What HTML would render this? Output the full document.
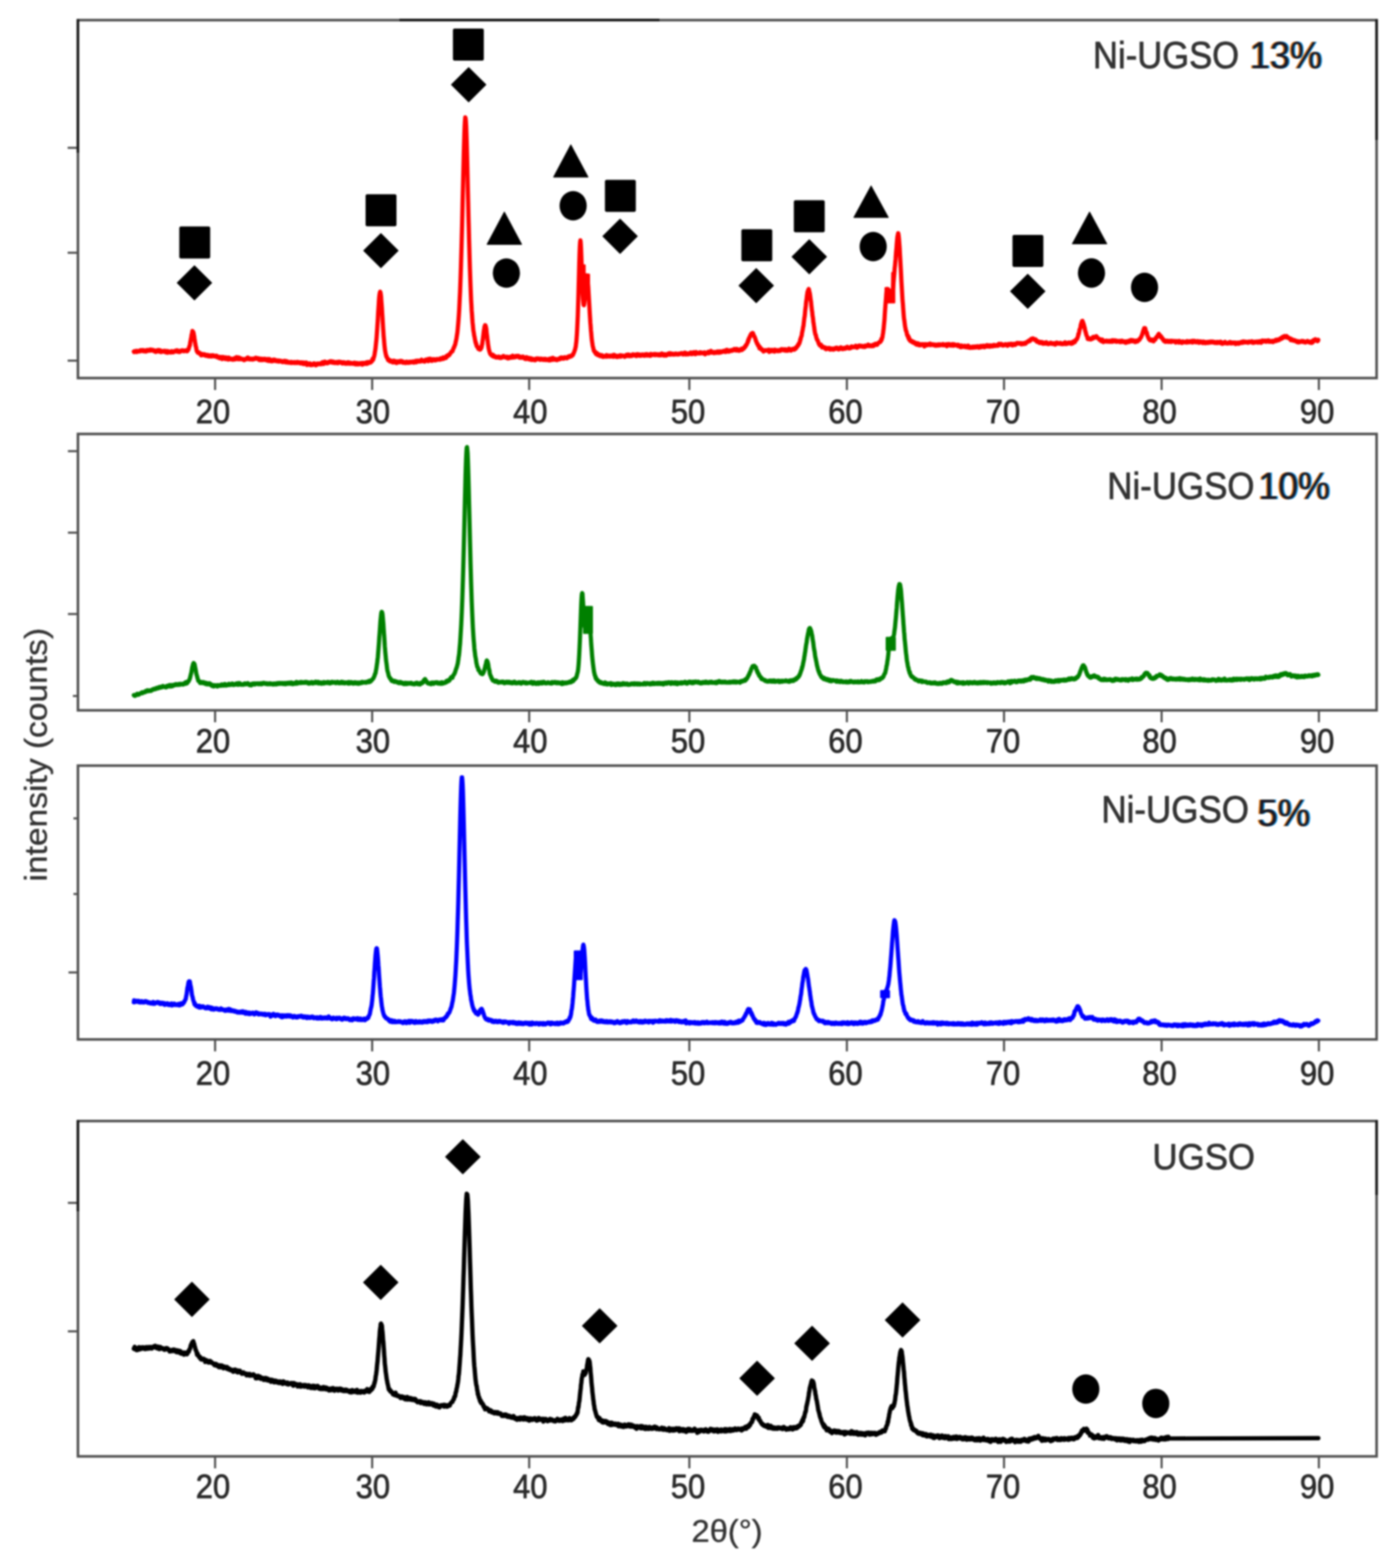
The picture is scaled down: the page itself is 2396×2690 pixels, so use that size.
<!DOCTYPE html><html><head><meta charset="utf-8"><title>XRD patterns</title><style>html,body{margin:0;padding:0;background:#fff;}svg{display:block;filter:blur(1.8px);}text{font-family:"Liberation Sans",Arial,sans-serif;stroke-width:1.2px;stroke-linejoin:round;}</style></head><body>
<svg xmlns="http://www.w3.org/2000/svg" width="2396" height="2690" viewBox="0 0 2396 2690">
<rect width="2396" height="2690" fill="#fff"/>
<rect x="133.7" y="34.5" width="2227.3" height="614.1" fill="none" stroke="#505050" stroke-width="4.4"/>
<line x1="116.0" y1="253.6" x2="133.7" y2="253.6" stroke="#505050" stroke-width="3.6"/>
<line x1="116.0" y1="433.6" x2="133.7" y2="433.6" stroke="#505050" stroke-width="3.6"/>
<line x1="116.0" y1="618.7" x2="133.7" y2="618.7" stroke="#505050" stroke-width="3.6"/>
<line x1="368.9" y1="648.6" x2="368.9" y2="669.1" stroke="#505050" stroke-width="3.6"/>
<text x="365.3" y="726.3" font-size="57" text-anchor="middle" fill="#2a2a2a" stroke="#2a2a2a" textLength="59" lengthAdjust="spacingAndGlyphs">20</text>
<line x1="638.3" y1="648.6" x2="638.3" y2="669.1" stroke="#505050" stroke-width="3.6"/>
<text x="639.4" y="726.3" font-size="57" text-anchor="middle" fill="#2a2a2a" stroke="#2a2a2a" textLength="59" lengthAdjust="spacingAndGlyphs">30</text>
<line x1="907.6" y1="648.6" x2="907.6" y2="669.1" stroke="#505050" stroke-width="3.6"/>
<text x="909.5" y="726.3" font-size="57" text-anchor="middle" fill="#2a2a2a" stroke="#2a2a2a" textLength="59" lengthAdjust="spacingAndGlyphs">40</text>
<line x1="1182.3" y1="648.6" x2="1182.3" y2="669.1" stroke="#505050" stroke-width="3.6"/>
<text x="1180.1" y="726.3" font-size="57" text-anchor="middle" fill="#2a2a2a" stroke="#2a2a2a" textLength="59" lengthAdjust="spacingAndGlyphs">50</text>
<line x1="1452.5" y1="648.6" x2="1452.5" y2="669.1" stroke="#505050" stroke-width="3.6"/>
<text x="1450.0" y="726.3" font-size="57" text-anchor="middle" fill="#2a2a2a" stroke="#2a2a2a" textLength="59" lengthAdjust="spacingAndGlyphs">60</text>
<line x1="1722.0" y1="648.6" x2="1722.0" y2="669.1" stroke="#505050" stroke-width="3.6"/>
<text x="1720.3" y="726.3" font-size="57" text-anchor="middle" fill="#2a2a2a" stroke="#2a2a2a" textLength="59" lengthAdjust="spacingAndGlyphs">70</text>
<line x1="1992.3" y1="648.6" x2="1992.3" y2="669.1" stroke="#505050" stroke-width="3.6"/>
<text x="1988.8" y="726.3" font-size="57" text-anchor="middle" fill="#2a2a2a" stroke="#2a2a2a" textLength="59" lengthAdjust="spacingAndGlyphs">80</text>
<line x1="2262.0" y1="648.6" x2="2262.0" y2="669.1" stroke="#505050" stroke-width="3.6"/>
<text x="2258.9" y="726.3" font-size="57" text-anchor="middle" fill="#2a2a2a" stroke="#2a2a2a" textLength="59" lengthAdjust="spacingAndGlyphs">90</text>
<rect x="133.7" y="744.5" width="2227.3" height="474.1" fill="none" stroke="#505050" stroke-width="4.4"/>
<line x1="116.5" y1="774.0" x2="133.7" y2="774.0" stroke="#505050" stroke-width="3.6"/>
<line x1="116.5" y1="913.8" x2="133.7" y2="913.8" stroke="#505050" stroke-width="3.6"/>
<line x1="116.5" y1="1053.4" x2="133.7" y2="1053.4" stroke="#505050" stroke-width="3.6"/>
<line x1="125.0" y1="1194.0" x2="133.7" y2="1194.0" stroke="#505050" stroke-width="3.6"/>
<line x1="368.9" y1="1218.6" x2="368.9" y2="1239.1" stroke="#505050" stroke-width="3.6"/>
<text x="365.3" y="1291.1" font-size="57" text-anchor="middle" fill="#2a2a2a" stroke="#2a2a2a" textLength="59" lengthAdjust="spacingAndGlyphs">20</text>
<line x1="638.3" y1="1218.6" x2="638.3" y2="1239.1" stroke="#505050" stroke-width="3.6"/>
<text x="639.4" y="1291.1" font-size="57" text-anchor="middle" fill="#2a2a2a" stroke="#2a2a2a" textLength="59" lengthAdjust="spacingAndGlyphs">30</text>
<line x1="907.6" y1="1218.6" x2="907.6" y2="1239.1" stroke="#505050" stroke-width="3.6"/>
<text x="909.5" y="1291.1" font-size="57" text-anchor="middle" fill="#2a2a2a" stroke="#2a2a2a" textLength="59" lengthAdjust="spacingAndGlyphs">40</text>
<line x1="1182.3" y1="1218.6" x2="1182.3" y2="1239.1" stroke="#505050" stroke-width="3.6"/>
<text x="1180.1" y="1291.1" font-size="57" text-anchor="middle" fill="#2a2a2a" stroke="#2a2a2a" textLength="59" lengthAdjust="spacingAndGlyphs">50</text>
<line x1="1452.5" y1="1218.6" x2="1452.5" y2="1239.1" stroke="#505050" stroke-width="3.6"/>
<text x="1450.0" y="1291.1" font-size="57" text-anchor="middle" fill="#2a2a2a" stroke="#2a2a2a" textLength="59" lengthAdjust="spacingAndGlyphs">60</text>
<line x1="1722.0" y1="1218.6" x2="1722.0" y2="1239.1" stroke="#505050" stroke-width="3.6"/>
<text x="1720.3" y="1291.1" font-size="57" text-anchor="middle" fill="#2a2a2a" stroke="#2a2a2a" textLength="59" lengthAdjust="spacingAndGlyphs">70</text>
<line x1="1992.3" y1="1218.6" x2="1992.3" y2="1239.1" stroke="#505050" stroke-width="3.6"/>
<text x="1988.8" y="1291.1" font-size="57" text-anchor="middle" fill="#2a2a2a" stroke="#2a2a2a" textLength="59" lengthAdjust="spacingAndGlyphs">80</text>
<line x1="2262.0" y1="1218.6" x2="2262.0" y2="1239.1" stroke="#505050" stroke-width="3.6"/>
<text x="2258.9" y="1291.1" font-size="57" text-anchor="middle" fill="#2a2a2a" stroke="#2a2a2a" textLength="59" lengthAdjust="spacingAndGlyphs">90</text>
<rect x="133.7" y="1313.5" width="2227.3" height="469.7" fill="none" stroke="#505050" stroke-width="4.4"/>
<line x1="126.0" y1="1404.0" x2="133.7" y2="1404.0" stroke="#505050" stroke-width="3.6"/>
<line x1="126.0" y1="1533.7" x2="133.7" y2="1533.7" stroke="#505050" stroke-width="3.6"/>
<line x1="117.5" y1="1668.3" x2="133.7" y2="1668.3" stroke="#505050" stroke-width="3.6"/>
<line x1="368.9" y1="1783.2" x2="368.9" y2="1803.7" stroke="#505050" stroke-width="3.6"/>
<text x="365.3" y="1860.8" font-size="57" text-anchor="middle" fill="#2a2a2a" stroke="#2a2a2a" textLength="59" lengthAdjust="spacingAndGlyphs">20</text>
<line x1="638.3" y1="1783.2" x2="638.3" y2="1803.7" stroke="#505050" stroke-width="3.6"/>
<text x="639.4" y="1860.8" font-size="57" text-anchor="middle" fill="#2a2a2a" stroke="#2a2a2a" textLength="59" lengthAdjust="spacingAndGlyphs">30</text>
<line x1="907.6" y1="1783.2" x2="907.6" y2="1803.7" stroke="#505050" stroke-width="3.6"/>
<text x="909.5" y="1860.8" font-size="57" text-anchor="middle" fill="#2a2a2a" stroke="#2a2a2a" textLength="59" lengthAdjust="spacingAndGlyphs">40</text>
<line x1="1182.3" y1="1783.2" x2="1182.3" y2="1803.7" stroke="#505050" stroke-width="3.6"/>
<text x="1180.1" y="1860.8" font-size="57" text-anchor="middle" fill="#2a2a2a" stroke="#2a2a2a" textLength="59" lengthAdjust="spacingAndGlyphs">50</text>
<line x1="1452.5" y1="1783.2" x2="1452.5" y2="1803.7" stroke="#505050" stroke-width="3.6"/>
<text x="1450.0" y="1860.8" font-size="57" text-anchor="middle" fill="#2a2a2a" stroke="#2a2a2a" textLength="59" lengthAdjust="spacingAndGlyphs">60</text>
<line x1="1722.0" y1="1783.2" x2="1722.0" y2="1803.7" stroke="#505050" stroke-width="3.6"/>
<text x="1720.3" y="1860.8" font-size="57" text-anchor="middle" fill="#2a2a2a" stroke="#2a2a2a" textLength="59" lengthAdjust="spacingAndGlyphs">70</text>
<line x1="1992.3" y1="1783.2" x2="1992.3" y2="1803.7" stroke="#505050" stroke-width="3.6"/>
<text x="1988.8" y="1860.8" font-size="57" text-anchor="middle" fill="#2a2a2a" stroke="#2a2a2a" textLength="59" lengthAdjust="spacingAndGlyphs">80</text>
<line x1="2262.0" y1="1783.2" x2="2262.0" y2="1803.7" stroke="#505050" stroke-width="3.6"/>
<text x="2258.9" y="1860.8" font-size="57" text-anchor="middle" fill="#2a2a2a" stroke="#2a2a2a" textLength="59" lengthAdjust="spacingAndGlyphs">90</text>
<rect x="133.7" y="1923.2" width="2227.3" height="575.3" fill="none" stroke="#505050" stroke-width="4.4"/>
<line x1="116.4" y1="2063.6" x2="133.7" y2="2063.6" stroke="#505050" stroke-width="3.6"/>
<line x1="116.4" y1="2284.0" x2="133.7" y2="2284.0" stroke="#505050" stroke-width="3.6"/>
<line x1="368.9" y1="2498.5" x2="368.9" y2="2519.0" stroke="#505050" stroke-width="3.6"/>
<text x="365.3" y="2570.3" font-size="57" text-anchor="middle" fill="#2a2a2a" stroke="#2a2a2a" textLength="59" lengthAdjust="spacingAndGlyphs">20</text>
<line x1="638.3" y1="2498.5" x2="638.3" y2="2519.0" stroke="#505050" stroke-width="3.6"/>
<text x="639.4" y="2570.3" font-size="57" text-anchor="middle" fill="#2a2a2a" stroke="#2a2a2a" textLength="59" lengthAdjust="spacingAndGlyphs">30</text>
<line x1="907.6" y1="2498.5" x2="907.6" y2="2519.0" stroke="#505050" stroke-width="3.6"/>
<text x="909.5" y="2570.3" font-size="57" text-anchor="middle" fill="#2a2a2a" stroke="#2a2a2a" textLength="59" lengthAdjust="spacingAndGlyphs">40</text>
<line x1="1182.3" y1="2498.5" x2="1182.3" y2="2519.0" stroke="#505050" stroke-width="3.6"/>
<text x="1180.1" y="2570.3" font-size="57" text-anchor="middle" fill="#2a2a2a" stroke="#2a2a2a" textLength="59" lengthAdjust="spacingAndGlyphs">50</text>
<line x1="1452.5" y1="2498.5" x2="1452.5" y2="2519.0" stroke="#505050" stroke-width="3.6"/>
<text x="1450.0" y="2570.3" font-size="57" text-anchor="middle" fill="#2a2a2a" stroke="#2a2a2a" textLength="59" lengthAdjust="spacingAndGlyphs">60</text>
<line x1="1722.0" y1="2498.5" x2="1722.0" y2="2519.0" stroke="#505050" stroke-width="3.6"/>
<text x="1720.3" y="2570.3" font-size="57" text-anchor="middle" fill="#2a2a2a" stroke="#2a2a2a" textLength="59" lengthAdjust="spacingAndGlyphs">70</text>
<line x1="1992.3" y1="2498.5" x2="1992.3" y2="2519.0" stroke="#505050" stroke-width="3.6"/>
<text x="1988.8" y="2570.3" font-size="57" text-anchor="middle" fill="#2a2a2a" stroke="#2a2a2a" textLength="59" lengthAdjust="spacingAndGlyphs">80</text>
<line x1="2262.0" y1="2498.5" x2="2262.0" y2="2519.0" stroke="#505050" stroke-width="3.6"/>
<text x="2258.9" y="2570.3" font-size="57" text-anchor="middle" fill="#2a2a2a" stroke="#2a2a2a" textLength="59" lengthAdjust="spacingAndGlyphs">90</text>
<line x1="685" y1="34.3" x2="1131" y2="34.3" stroke="#111" stroke-width="4"/>
<line x1="133.7" y1="33" x2="133.7" y2="262" stroke="#1a1a1a" stroke-width="4.4"/>
<line x1="133.7" y1="1922" x2="133.7" y2="2078" stroke="#1a1a1a" stroke-width="4.4"/>
<line x1="2361" y1="33" x2="2361" y2="240" stroke="#1a1a1a" stroke-width="4.4"/>
<line x1="2361" y1="1922" x2="2361" y2="2050" stroke="#1a1a1a" stroke-width="4.4"/>
<path d="M229.5 603.1L230.0 604.0L230.5 603.8L231.0 602.5L231.5 602.7L232.0 602.6L232.5 603.6L233.0 603.0L233.5 603.7L234.0 601.8L234.5 603.9L235.0 602.9L235.5 603.5L236.0 602.6L236.5 602.3L237.0 602.7L237.5 602.6L238.0 602.1L238.5 602.2L239.0 602.7L239.5 601.5L240.0 601.2L240.5 602.7L241.0 601.9L241.5 600.8L242.0 601.5L242.5 601.7L243.0 601.0L243.5 600.8L244.0 601.9L244.5 602.2L245.0 601.2L245.5 600.9L246.0 601.8L246.5 602.5L247.0 601.4L247.5 601.9L248.0 602.6L248.5 601.7L249.0 601.2L249.5 602.3L250.0 602.4L250.5 602.9L251.0 601.2L251.5 601.5L252.0 601.5L252.5 600.5L253.0 601.3L253.5 601.8L254.0 600.6L254.5 601.9L255.0 601.7L255.5 601.2L256.0 601.2L256.5 601.3L257.0 599.9L257.5 601.5L258.0 601.4L258.5 599.7L259.0 601.1L259.5 600.5L260.0 601.3L260.5 600.3L261.0 601.0L261.5 601.1L262.0 600.2L262.5 601.3L263.0 601.0L263.5 601.6L264.0 601.1L264.5 602.6L265.0 602.4L265.5 601.8L266.0 602.9L266.5 603.3L267.0 603.8L267.5 601.4L268.0 603.0L268.5 602.6L269.0 602.1L269.5 601.3L270.0 602.8L270.5 600.8L271.0 602.2L271.5 602.7L272.0 600.5L272.5 601.6L273.0 600.9L273.5 601.9L274.0 603.1L274.5 603.5L275.0 601.0L275.5 602.0L276.0 602.9L276.5 604.0L277.0 603.3L277.5 602.5L278.0 603.3L278.5 602.9L279.0 602.8L279.5 602.4L280.0 603.2L280.5 603.1L281.0 602.5L281.5 602.6L282.0 602.1L282.5 602.6L283.0 603.9L283.5 603.1L284.0 602.1L284.5 604.0L285.0 603.6L285.5 604.7L286.0 603.2L286.5 602.8L287.0 602.2L287.5 604.2L288.0 605.0L288.5 602.7L289.0 603.1L289.5 603.8L290.0 603.0L290.5 603.7L291.0 603.6L291.5 604.0L292.0 604.5L292.5 603.9L293.0 604.6L293.5 603.5L294.0 604.1L294.5 602.4L295.0 602.6L295.5 604.2L296.0 603.2L296.5 604.3L297.0 603.9L297.5 604.3L298.0 603.4L298.5 603.5L299.0 602.7L299.5 602.2L300.0 602.4L300.5 602.4L301.0 601.8L301.5 602.2L302.0 602.5L302.5 603.0L303.0 602.4L303.5 601.0L304.0 602.5L304.5 602.4L305.0 603.2L305.5 602.7L306.0 601.9L306.5 601.9L307.0 603.8L307.5 603.1L308.0 603.9L308.5 603.8L309.0 601.8L309.5 602.6L310.0 602.6L310.5 602.4L311.0 602.2L311.5 602.0L312.0 602.1L312.5 601.0L313.0 601.8L313.5 601.5L314.0 601.9L314.5 601.3L315.0 602.4L315.5 602.6L316.0 602.2L316.5 601.9L317.0 601.6L317.5 601.3L318.0 601.3L318.5 601.1L319.0 602.1L319.5 601.9L320.0 602.3L320.5 600.8L321.0 602.6L321.5 601.3L322.0 601.0L322.5 600.9L323.0 599.7L323.5 599.0L324.0 597.1L324.5 595.2L325.0 593.7L325.5 593.2L326.0 589.9L326.5 586.2L327.0 584.4L327.5 580.6L328.0 580.2L328.5 574.9L329.0 573.4L329.5 571.1L330.0 567.8L330.5 568.4L331.0 569.3L331.5 569.7L332.0 571.4L332.5 574.3L333.0 576.8L333.5 580.5L334.0 583.5L334.5 587.4L335.0 589.4L335.5 593.1L336.0 594.8L336.5 596.6L337.0 599.6L337.5 602.2L338.0 603.2L338.5 603.0L339.0 604.7L339.5 604.3L340.0 605.1L340.5 605.5L341.0 604.4L341.5 606.4L342.0 605.6L342.5 605.8L343.0 605.8L343.5 606.2L344.0 607.2L344.5 608.6L345.0 609.6L345.5 608.4L346.0 609.3L346.5 608.5L347.0 607.3L347.5 608.9L348.0 608.9L348.5 608.2L349.0 608.9L349.5 609.2L350.0 608.3L350.5 607.8L351.0 608.9L351.5 609.0L352.0 608.7L352.5 609.6L353.0 610.3L353.5 608.7L354.0 609.4L354.5 609.6L355.0 609.5L355.5 609.7L356.0 609.0L356.5 610.0L357.0 611.2L357.5 610.5L358.0 609.6L358.5 610.9L359.0 611.2L359.5 610.6L360.0 610.1L360.5 611.4L361.0 609.7L361.5 610.9L362.0 610.5L362.5 609.8L363.0 611.5L363.5 610.6L364.0 609.7L364.5 611.0L365.0 610.6L365.5 609.5L366.0 610.3L366.5 611.1L367.0 611.4L367.5 610.8L368.0 611.0L368.5 611.3L369.0 610.5L369.5 611.4L370.0 611.0L370.5 611.2L371.0 611.4L371.5 610.2L372.0 610.9L372.5 612.8L373.0 612.3L373.5 612.3L374.0 613.1L374.5 612.5L375.0 613.2L375.5 612.8L376.0 613.6L376.5 612.3L377.0 614.7L377.5 613.4L378.0 612.6L378.5 613.6L379.0 613.4L379.5 613.9L380.0 612.7L380.5 613.9L381.0 616.0L381.5 612.4L382.0 613.5L382.5 613.4L383.0 614.1L383.5 612.6L384.0 613.0L384.5 614.3L385.0 613.9L385.5 615.5L386.0 613.8L386.5 614.4L387.0 616.1L387.5 613.2L388.0 613.4L388.5 614.2L389.0 614.2L389.5 615.0L390.0 614.5L390.5 614.1L391.0 614.8L391.5 616.8L392.0 616.1L392.5 613.5L393.0 615.2L393.5 614.7L394.0 615.8L394.5 615.0L395.0 616.3L395.5 615.9L396.0 615.8L396.5 615.3L397.0 615.3L397.5 615.9L398.0 616.6L398.5 616.2L399.0 615.8L399.5 617.1L400.0 616.5L400.5 616.2L401.0 615.9L401.5 615.8L402.0 615.6L402.5 614.2L403.0 616.7L403.5 616.1L404.0 615.5L404.5 616.1L405.0 615.6L405.5 615.0L406.0 612.7L406.5 614.5L407.0 615.0L407.5 615.9L408.0 616.2L408.5 616.0L409.0 614.0L409.5 613.3L410.0 615.5L410.5 615.5L411.0 616.3L411.5 615.8L412.0 615.6L412.5 614.5L413.0 615.8L413.5 615.3L414.0 616.0L414.5 616.3L415.0 615.8L415.5 616.0L416.0 615.9L416.5 616.5L417.0 616.5L417.5 616.0L418.0 616.1L418.5 617.9L419.0 616.5L419.5 617.5L420.0 617.0L420.5 616.0L421.0 616.0L421.5 616.4L422.0 616.2L422.5 616.2L423.0 614.6L423.5 614.9L424.0 615.2L424.5 616.0L425.0 613.4L425.5 615.2L426.0 614.4L426.5 615.3L427.0 614.7L427.5 615.5L428.0 616.5L428.5 615.6L429.0 615.9L429.5 615.9L430.0 615.3L430.5 616.4L431.0 615.7L431.5 615.7L432.0 616.0L432.5 616.1L433.0 616.7L433.5 616.1L434.0 615.4L434.5 616.6L435.0 616.1L435.5 616.2L436.0 615.6L436.5 615.1L437.0 614.6L437.5 614.6L438.0 615.5L438.5 614.9L439.0 613.7L439.5 615.2L440.0 614.4L440.5 615.3L441.0 614.4L441.5 614.7L442.0 615.7L442.5 615.6L443.0 614.6L443.5 616.3L444.0 617.2L444.5 615.2L445.0 617.5L445.5 615.5L446.0 615.7L446.5 616.2L447.0 615.4L447.5 617.8L448.0 617.5L448.5 616.5L449.0 616.5L449.5 615.7L450.0 616.9L450.5 617.6L451.0 615.7L451.5 616.6L452.0 616.6L452.5 617.4L453.0 617.4L453.5 616.0L454.0 615.6L454.5 616.6L455.0 616.0L455.5 616.0L456.0 617.2L456.5 618.0L457.0 617.0L457.5 616.7L458.0 617.5L458.5 616.0L459.0 617.2L459.5 616.6L460.0 619.1L460.5 617.8L461.0 617.5L461.5 617.4L462.0 616.0L462.5 618.4L463.0 619.3L463.5 618.0L464.0 618.9L464.5 619.1L465.0 617.8L465.5 619.5L466.0 619.8L466.5 619.1L467.0 618.7L467.5 619.1L468.0 617.2L468.5 618.4L469.0 619.1L469.5 617.2L470.0 618.8L470.5 618.0L471.0 617.1L471.5 618.3L472.0 617.7L472.5 618.9L473.0 617.9L473.5 619.5L474.0 618.5L474.5 619.3L475.0 618.3L475.5 618.5L476.0 619.8L476.5 619.3L477.0 619.0L477.5 618.6L478.0 620.3L478.5 620.1L479.0 619.3L479.5 619.8L480.0 618.8L480.5 619.2L481.0 619.3L481.5 620.1L482.0 620.0L482.5 619.4L483.0 620.4L483.5 620.7L484.0 620.4L484.5 621.1L485.0 620.0L485.5 619.9L486.0 620.4L486.5 620.1L487.0 620.6L487.5 619.3L488.0 621.1L488.5 619.5L489.0 620.1L489.5 619.4L490.0 621.3L490.5 621.8L491.0 621.4L491.5 621.4L492.0 619.7L492.5 620.4L493.0 621.0L493.5 620.7L494.0 622.1L494.5 621.8L495.0 621.5L495.5 622.0L496.0 621.1L496.5 621.1L497.0 621.3L497.5 622.3L498.0 622.3L498.5 622.6L499.0 622.7L499.5 620.9L500.0 621.6L500.5 622.0L501.0 621.2L501.5 621.6L502.0 622.5L502.5 622.3L503.0 622.3L503.5 621.6L504.0 621.7L504.5 622.6L505.0 621.3L505.5 622.2L506.0 622.7L506.5 621.5L507.0 621.4L507.5 622.0L508.0 622.2L508.5 622.3L509.0 622.3L509.5 622.7L510.0 621.0L510.5 621.5L511.0 622.4L511.5 621.8L512.0 621.4L512.5 621.6L513.0 621.7L513.5 622.2L514.0 621.8L514.5 622.4L515.0 623.4L515.5 622.3L516.0 623.2L516.5 622.6L517.0 621.8L517.5 622.5L518.0 622.0L518.5 623.2L519.0 622.3L519.5 624.4L520.0 623.8L520.5 621.9L521.0 624.0L521.5 624.4L522.0 622.7L522.5 624.1L523.0 622.2L523.5 623.7L524.0 622.5L524.5 624.1L525.0 622.7L525.5 622.1L526.0 624.4L526.5 626.1L527.0 624.1L527.5 625.1L528.0 624.4L528.5 624.2L529.0 624.7L529.5 625.5L530.0 623.6L530.5 625.1L531.0 624.6L531.5 623.4L532.0 625.7L532.5 626.2L533.0 624.3L533.5 626.3L534.0 625.1L534.5 625.1L535.0 626.0L535.5 625.3L536.0 625.2L536.5 625.9L537.0 625.4L537.5 624.8L538.0 623.3L538.5 623.4L539.0 625.3L539.5 624.2L540.0 625.0L540.5 624.2L541.0 624.9L541.5 624.4L542.0 626.7L542.5 624.8L543.0 625.1L543.5 624.9L544.0 625.5L544.5 623.7L545.0 624.7L545.5 624.7L546.0 625.0L546.5 624.8L547.0 623.8L547.5 624.5L548.0 623.9L548.5 624.7L549.0 624.1L549.5 623.4L550.0 623.5L550.5 623.5L551.0 624.8L551.5 622.7L552.0 623.1L552.5 624.0L553.0 621.4L553.5 621.3L554.0 621.4L554.5 622.4L555.0 624.4L555.5 622.8L556.0 623.5L556.5 622.3L557.0 620.4L557.5 620.5L558.0 622.9L558.5 622.6L559.0 621.6L559.5 623.0L560.0 621.4L560.5 622.9L561.0 623.2L561.5 621.6L562.0 621.5L562.5 622.9L563.0 621.2L563.5 622.4L564.0 620.7L564.5 621.8L565.0 621.3L565.5 620.9L566.0 620.5L566.5 621.1L567.0 619.6L567.5 620.8L568.0 620.2L568.5 621.4L569.0 620.1L569.5 622.2L570.0 620.6L570.5 620.2L571.0 621.6L571.5 622.2L572.0 621.1L572.5 620.8L573.0 621.5L573.5 621.0L574.0 621.3L574.5 622.8L575.0 622.0L575.5 622.2L576.0 621.9L576.5 621.6L577.0 622.4L577.5 622.2L578.0 621.1L578.5 621.5L579.0 623.1L579.5 621.6L580.0 621.2L580.5 622.9L581.0 621.6L581.5 620.6L582.0 621.8L582.5 621.0L583.0 621.5L583.5 622.0L584.0 622.0L584.5 621.1L585.0 621.4L585.5 621.4L586.0 622.7L586.5 621.5L587.0 621.6L587.5 623.5L588.0 621.6L588.5 623.0L589.0 623.1L589.5 622.3L590.0 621.5L590.5 623.2L591.0 623.4L591.5 623.7L592.0 623.0L592.5 623.8L593.0 623.8L593.5 622.3L594.0 623.8L594.5 622.9L595.0 622.1L595.5 622.2L596.0 623.8L596.5 623.0L597.0 621.4L597.5 622.9L598.0 622.9L598.5 622.8L599.0 622.7L599.5 622.1L600.0 624.0L600.5 622.9L601.0 623.3L601.5 623.1L602.0 622.8L602.5 623.9L603.0 623.9L603.5 622.9L604.0 622.9L604.5 623.1L605.0 623.9L605.5 623.5L606.0 623.5L606.5 623.1L607.0 622.9L607.5 623.5L608.0 622.2L608.5 624.6L609.0 623.0L609.5 623.4L610.0 625.0L610.5 623.8L611.0 623.8L611.5 623.7L612.0 622.7L612.5 624.3L613.0 625.0L613.5 623.3L614.0 624.9L614.5 623.3L615.0 623.8L615.5 624.8L616.0 624.2L616.5 624.7L617.0 623.5L617.5 623.3L618.0 622.9L618.5 623.3L619.0 623.5L619.5 623.2L620.0 624.0L620.5 623.5L621.0 622.7L621.5 625.6L622.0 623.4L622.5 622.9L623.0 624.4L623.5 624.1L624.0 622.7L624.5 623.0L625.0 623.0L625.5 624.2L626.0 623.3L626.5 622.6L627.0 623.2L627.5 624.1L628.0 622.0L628.5 622.4L629.0 621.4L629.5 624.2L630.0 623.9L630.5 623.3L631.0 622.6L631.5 623.0L632.0 620.9L632.5 622.7L633.0 621.9L633.5 621.6L634.0 621.7L634.5 621.8L635.0 622.1L635.5 622.0L636.0 621.2L636.5 619.9L637.0 620.7L637.5 619.4L638.0 619.7L638.5 617.9L639.0 615.7L639.5 616.7L640.0 617.2L640.5 615.0L641.0 613.4L641.5 612.3L642.0 609.9L642.5 607.7L643.0 604.0L643.5 601.4L644.0 598.0L644.5 593.2L645.0 588.2L645.5 583.5L646.0 577.8L646.5 570.6L647.0 563.1L647.5 555.1L648.0 548.3L648.5 538.0L649.0 530.4L649.5 523.0L650.0 514.5L650.5 508.6L651.0 504.7L651.5 502.1L652.0 500.5L652.5 501.5L653.0 504.4L653.5 508.0L654.0 515.8L654.5 522.0L655.0 528.8L655.5 537.8L656.0 544.8L656.5 553.3L657.0 561.9L657.5 568.5L658.0 577.0L658.5 581.5L659.0 588.1L659.5 593.3L660.0 598.1L660.5 601.7L661.0 604.4L661.5 606.9L662.0 608.9L662.5 611.4L663.0 611.1L663.5 613.2L664.0 613.9L664.5 615.2L665.0 615.3L665.5 617.5L666.0 616.2L666.5 617.6L667.0 618.1L667.5 619.1L668.0 619.3L668.5 619.3L669.0 619.9L669.5 618.3L670.0 619.5L670.5 618.9L671.0 620.0L671.5 619.1L672.0 619.3L672.5 620.2L673.0 621.4L673.5 620.8L674.0 620.8L674.5 621.7L675.0 619.7L675.5 618.8L676.0 619.5L676.5 619.6L677.0 620.8L677.5 621.4L678.0 619.5L678.5 622.2L679.0 621.5L679.5 621.0L680.0 620.9L680.5 622.8L681.0 621.1L681.5 620.5L682.0 621.2L682.5 619.9L683.0 621.2L683.5 620.7L684.0 621.1L684.5 621.1L685.0 619.9L685.5 621.6L686.0 619.8L686.5 621.0L687.0 619.1L687.5 620.4L688.0 620.0L688.5 620.9L689.0 620.3L689.5 619.6L690.0 620.6L690.5 621.6L691.0 622.1L691.5 621.1L692.0 620.8L692.5 621.7L693.0 622.0L693.5 621.8L694.0 621.5L694.5 622.6L695.0 622.7L695.5 622.8L696.0 621.2L696.5 621.7L697.0 621.2L697.5 620.5L698.0 622.1L698.5 621.7L699.0 621.2L699.5 622.5L700.0 621.9L700.5 622.1L701.0 622.4L701.5 622.2L702.0 620.7L702.5 621.2L703.0 622.0L703.5 620.6L704.0 621.1L704.5 621.0L705.0 621.7L705.5 621.4L706.0 621.2L706.5 620.5L707.0 621.1L707.5 620.7L708.0 620.4L708.5 621.7L709.0 621.4L709.5 620.5L710.0 622.0L710.5 620.8L711.0 621.2L711.5 620.0L712.0 621.1L712.5 620.3L713.0 619.9L713.5 619.0L714.0 621.6L714.5 619.8L715.0 620.2L715.5 620.5L716.0 619.4L716.5 619.8L717.0 618.7L717.5 619.9L718.0 619.7L718.5 620.3L719.0 620.1L719.5 619.0L720.0 618.7L720.5 619.2L721.0 620.1L721.5 619.9L722.0 619.9L722.5 617.8L723.0 617.1L723.5 618.7L724.0 618.7L724.5 618.7L725.0 619.6L725.5 619.4L726.0 618.5L726.5 618.5L727.0 619.2L727.5 619.1L728.0 618.8L728.5 620.3L729.0 618.1L729.5 617.8L730.0 617.1L730.5 617.4L731.0 618.1L731.5 618.3L732.0 617.9L732.5 618.4L733.0 618.1L733.5 616.8L734.0 615.9L734.5 619.6L735.0 618.5L735.5 617.7L736.0 616.3L736.5 616.7L737.0 618.3L737.5 615.3L738.0 617.1L738.5 617.8L739.0 617.2L739.5 617.8L740.0 617.2L740.5 619.2L741.0 616.6L741.5 616.3L742.0 617.5L742.5 618.1L743.0 617.1L743.5 617.8L744.0 616.6L744.5 616.2L745.0 617.8L745.5 617.8L746.0 618.3L746.5 616.9L747.0 616.6L747.5 616.5L748.0 617.1L748.5 617.7L749.0 617.4L749.5 615.9L750.0 617.1L750.5 616.4L751.0 616.4L751.5 616.1L752.0 616.2L752.5 616.8L753.0 616.3L753.5 616.6L754.0 616.3L754.5 616.9L755.0 616.4L755.5 614.8L756.0 616.7L756.5 615.8L757.0 616.3L757.5 615.3L758.0 615.2L758.5 615.0L759.0 614.7L759.5 614.4L760.0 613.2L760.5 615.8L761.0 613.2L761.5 614.0L762.0 614.5L762.5 614.0L763.0 613.7L763.5 613.4L764.0 613.5L764.5 612.7L765.0 614.2L765.5 611.1L766.0 611.6L766.5 610.8L767.0 610.1L767.5 610.4L768.0 611.1L768.5 609.3L769.0 608.8L769.5 609.2L770.0 608.7L770.5 609.3L771.0 608.2L771.5 607.3L772.0 606.5L772.5 606.4L773.0 605.4L773.5 604.1L774.0 604.2L774.5 603.4L775.0 602.8L775.5 602.1L776.0 602.7L776.5 600.9L777.0 600.1L777.5 598.3L778.0 596.8L778.5 596.6L779.0 595.4L779.5 593.7L780.0 592.3L780.5 591.7L781.0 589.5L781.5 586.8L782.0 585.0L782.5 582.6L783.0 580.1L783.5 576.3L784.0 573.5L784.5 570.1L785.0 565.0L785.5 559.3L786.0 553.6L786.5 547.3L787.0 540.2L787.5 532.3L788.0 522.3L788.5 511.1L789.0 501.8L789.5 488.6L790.0 474.8L790.5 459.6L791.0 442.7L791.5 425.4L792.0 407.1L792.5 388.3L793.0 366.9L793.5 343.1L794.0 323.6L794.5 302.8L795.0 282.6L795.5 261.9L796.0 245.0L796.5 228.6L797.0 215.8L797.5 207.0L798.0 201.4L798.5 202.9L799.0 207.5L799.5 215.9L800.0 229.8L800.5 246.1L801.0 264.1L801.5 284.9L802.0 306.3L802.5 328.1L803.0 349.4L803.5 371.1L804.0 389.5L804.5 410.3L805.0 427.6L805.5 445.7L806.0 462.2L806.5 476.4L807.0 489.9L807.5 502.5L808.0 514.6L808.5 522.8L809.0 532.8L809.5 538.9L810.0 546.6L810.5 553.1L811.0 557.5L811.5 563.2L812.0 567.7L812.5 569.9L813.0 573.9L813.5 576.8L814.0 578.5L814.5 582.0L815.0 583.9L815.5 587.3L816.0 587.0L816.5 590.4L817.0 590.3L817.5 593.7L818.0 593.7L818.5 594.5L819.0 595.6L819.5 596.3L820.0 597.4L820.5 598.5L821.0 597.6L821.5 597.5L822.0 596.9L822.5 598.8L823.0 599.9L823.5 599.8L824.0 599.3L824.5 598.7L825.0 597.8L825.5 596.7L826.0 595.5L826.5 591.7L827.0 590.8L827.5 586.2L828.0 583.4L828.5 579.3L829.0 575.1L829.5 570.6L830.0 566.6L830.5 563.8L831.0 560.5L831.5 560.9L832.0 558.0L832.5 558.1L833.0 559.6L833.5 561.6L834.0 563.8L834.5 569.4L835.0 574.0L835.5 576.8L836.0 582.3L836.5 585.3L837.0 589.9L837.5 593.4L838.0 596.9L838.5 599.7L839.0 601.0L839.5 603.7L840.0 604.3L840.5 606.4L841.0 607.5L841.5 607.6L842.0 607.6L842.5 609.4L843.0 608.3L843.5 608.8L844.0 609.0L844.5 610.6L845.0 609.6L845.5 608.6L846.0 610.8L846.5 611.9L847.0 611.9L847.5 610.5L848.0 611.4L848.5 612.0L849.0 612.4L849.5 612.1L850.0 611.7L850.5 613.3L851.0 613.3L851.5 612.0L852.0 612.6L852.5 612.9L853.0 612.7L853.5 613.0L854.0 613.3L854.5 613.0L855.0 612.6L855.5 611.9L856.0 613.3L856.5 613.7L857.0 614.0L857.5 612.7L858.0 612.9L858.5 614.2L859.0 614.1L859.5 613.0L860.0 613.2L860.5 612.2L861.0 613.6L861.5 612.7L862.0 613.0L862.5 612.8L863.0 612.2L863.5 610.7L864.0 611.8L864.5 612.6L865.0 612.5L865.5 612.1L866.0 612.6L866.5 613.0L867.0 613.3L867.5 612.3L868.0 613.0L868.5 612.4L869.0 612.4L869.5 612.0L870.0 612.9L870.5 612.8L871.0 614.8L871.5 613.1L872.0 612.7L872.5 612.8L873.0 614.6L873.5 612.4L874.0 612.7L874.5 612.5L875.0 612.6L875.5 612.6L876.0 613.5L876.5 611.6L877.0 612.4L877.5 613.6L878.0 612.3L878.5 612.5L879.0 611.6L879.5 610.3L880.0 612.1L880.5 613.2L881.0 612.3L881.5 611.6L882.0 613.0L882.5 612.3L883.0 613.0L883.5 613.0L884.0 612.0L884.5 612.5L885.0 610.6L885.5 612.3L886.0 611.1L886.5 612.0L887.0 612.0L887.5 611.1L888.0 611.5L888.5 611.3L889.0 610.5L889.5 611.9L890.0 612.6L890.5 612.3L891.0 613.6L891.5 613.5L892.0 613.6L892.5 612.8L893.0 612.0L893.5 613.7L894.0 613.8L894.5 613.2L895.0 612.9L895.5 612.8L896.0 612.7L896.5 612.8L897.0 611.8L897.5 613.9L898.0 612.7L898.5 613.7L899.0 613.8L899.5 614.6L900.0 613.6L900.5 615.7L901.0 615.5L901.5 615.7L902.0 616.0L902.5 614.8L903.0 612.7L903.5 614.9L904.0 615.6L904.5 615.6L905.0 614.6L905.5 614.9L906.0 615.3L906.5 613.8L907.0 614.4L907.5 614.7L908.0 616.7L908.5 615.0L909.0 616.6L909.5 615.6L910.0 614.4L910.5 617.0L911.0 615.2L911.5 616.5L912.0 617.4L912.5 615.8L913.0 615.5L913.5 617.2L914.0 616.6L914.5 615.9L915.0 616.1L915.5 616.6L916.0 617.6L916.5 616.9L917.0 617.3L917.5 618.0L918.0 617.7L918.5 617.8L919.0 617.2L919.5 615.1L920.0 616.9L920.5 616.1L921.0 615.7L921.5 615.2L922.0 614.9L922.5 615.1L923.0 615.6L923.5 615.3L924.0 615.8L924.5 615.7L925.0 616.5L925.5 616.2L926.0 616.3L926.5 617.2L927.0 615.9L927.5 616.6L928.0 615.3L928.5 616.4L929.0 616.6L929.5 616.8L930.0 616.0L930.5 615.9L931.0 616.4L931.5 616.5L932.0 617.5L932.5 617.3L933.0 615.6L933.5 616.9L934.0 616.2L934.5 617.1L935.0 616.3L935.5 615.8L936.0 617.7L936.5 617.6L937.0 616.4L937.5 616.3L938.0 617.1L938.5 616.4L939.0 616.6L939.5 617.1L940.0 617.7L940.5 616.4L941.0 617.8L941.5 618.1L942.0 616.6L942.5 615.4L943.0 617.3L943.5 617.2L944.0 618.1L944.5 617.2L945.0 616.7L945.5 616.9L946.0 614.6L946.5 615.4L947.0 615.6L947.5 617.3L948.0 616.3L948.5 613.9L949.0 617.1L949.5 615.4L950.0 616.7L950.5 615.9L951.0 616.7L951.5 616.8L952.0 616.4L952.5 615.8L953.0 617.4L953.5 616.7L954.0 616.5L954.5 617.1L955.0 616.2L955.5 617.8L956.0 616.6L956.5 616.8L957.0 616.5L957.5 615.7L958.0 615.6L958.5 616.3L959.0 616.1L959.5 616.4L960.0 615.5L960.5 614.1L961.0 614.8L961.5 615.2L962.0 615.4L962.5 614.7L963.0 613.3L963.5 615.0L964.0 614.1L964.5 615.0L965.0 613.6L965.5 615.0L966.0 613.6L966.5 614.7L967.0 615.3L967.5 614.9L968.0 613.0L968.5 612.8L969.0 612.8L969.5 613.7L970.0 613.8L970.5 613.7L971.0 613.8L971.5 614.0L972.0 613.8L972.5 614.7L973.0 613.4L973.5 613.5L974.0 611.9L974.5 611.9L975.0 611.9L975.5 611.4L976.0 612.2L976.5 612.5L977.0 611.4L977.5 611.2L978.0 610.7L978.5 611.3L979.0 610.6L979.5 611.4L980.0 610.5L980.5 610.3L981.0 610.4L981.5 609.1L982.0 608.7L982.5 609.2L983.0 607.1L983.5 607.1L984.0 605.6L984.5 604.6L985.0 603.1L985.5 601.5L986.0 600.7L986.5 598.4L987.0 596.3L987.5 594.3L988.0 589.7L988.5 586.0L989.0 579.5L989.5 572.6L990.0 562.8L990.5 552.0L991.0 540.8L991.5 524.7L992.0 508.5L992.5 489.9L993.0 471.3L993.5 451.6L994.0 435.4L994.5 422.9L995.0 415.3L995.5 412.4L996.0 416.7L996.5 425.7L997.0 438.9L997.5 453.2L998.0 468.3L998.5 483.4L999.0 495.0L999.5 505.7L1000.0 514.0L1000.5 519.3L1001.0 523.4L1001.5 523.6L1002.0 522.1L1002.5 518.1L1003.0 513.7L1003.5 508.7L1004.0 502.5L1004.5 495.1L1005.0 489.6L1005.5 483.8L1006.0 479.3L1006.5 478.1L1007.0 476.2L1007.5 478.2L1008.0 481.8L1008.5 487.1L1009.0 493.5L1009.5 502.6L1010.0 510.9L1010.5 519.7L1011.0 528.4L1011.5 537.2L1012.0 544.9L1012.5 553.5L1013.0 558.9L1013.5 566.5L1014.0 571.4L1014.5 577.5L1015.0 582.8L1015.5 586.2L1016.0 589.5L1016.5 593.1L1017.0 595.1L1017.5 597.0L1018.0 599.0L1018.5 601.7L1019.0 602.3L1019.5 603.0L1020.0 602.8L1020.5 604.8L1021.0 604.1L1021.5 605.8L1022.0 605.2L1022.5 607.5L1023.0 605.1L1023.5 607.6L1024.0 607.8L1024.5 606.4L1025.0 608.0L1025.5 609.5L1026.0 609.5L1026.5 607.8L1027.0 609.0L1027.5 608.8L1028.0 608.6L1028.5 609.1L1029.0 610.8L1029.5 609.5L1030.0 609.2L1030.5 609.3L1031.0 610.2L1031.5 610.3L1032.0 609.3L1032.5 611.5L1033.0 609.8L1033.5 610.7L1034.0 611.1L1034.5 612.2L1035.0 610.5L1035.5 610.8L1036.0 611.9L1036.5 611.4L1037.0 611.7L1037.5 611.5L1038.0 610.8L1038.5 611.2L1039.0 611.1L1039.5 610.7L1040.0 612.0L1040.5 609.2L1041.0 610.0L1041.5 611.6L1042.0 610.9L1042.5 610.0L1043.0 610.7L1043.5 611.4L1044.0 610.1L1044.5 610.9L1045.0 610.4L1045.5 610.3L1046.0 610.6L1046.5 611.7L1047.0 610.1L1047.5 610.6L1048.0 611.4L1048.5 610.1L1049.0 610.0L1049.5 611.2L1050.0 610.6L1050.5 610.2L1051.0 610.1L1051.5 609.4L1052.0 612.1L1052.5 609.3L1053.0 609.9L1053.5 608.8L1054.0 609.7L1054.5 611.3L1055.0 610.5L1055.5 611.1L1056.0 610.2L1056.5 612.1L1057.0 611.1L1057.5 610.3L1058.0 612.4L1058.5 611.6L1059.0 612.4L1059.5 611.9L1060.0 611.8L1060.5 611.9L1061.0 611.2L1061.5 610.3L1062.0 611.9L1062.5 610.7L1063.0 611.2L1063.5 610.5L1064.0 609.4L1064.5 610.2L1065.0 611.9L1065.5 610.5L1066.0 611.0L1066.5 609.9L1067.0 610.5L1067.5 610.4L1068.0 610.5L1068.5 610.7L1069.0 610.2L1069.5 610.4L1070.0 610.6L1070.5 611.1L1071.0 610.8L1071.5 612.2L1072.0 610.8L1072.5 610.9L1073.0 610.1L1073.5 611.0L1074.0 609.3L1074.5 608.7L1075.0 609.0L1075.5 610.0L1076.0 608.7L1076.5 610.6L1077.0 609.2L1077.5 608.2L1078.0 609.3L1078.5 610.9L1079.0 609.2L1079.5 608.8L1080.0 610.2L1080.5 610.9L1081.0 610.5L1081.5 609.9L1082.0 610.4L1082.5 610.1L1083.0 610.5L1083.5 610.7L1084.0 608.9L1084.5 609.6L1085.0 608.3L1085.5 609.0L1086.0 608.0L1086.5 608.1L1087.0 609.1L1087.5 608.2L1088.0 609.8L1088.5 608.9L1089.0 609.4L1089.5 609.1L1090.0 609.1L1090.5 609.3L1091.0 609.6L1091.5 610.9L1092.0 607.9L1092.5 608.9L1093.0 608.5L1093.5 607.9L1094.0 608.9L1094.5 608.1L1095.0 608.8L1095.5 610.1L1096.0 608.0L1096.5 609.7L1097.0 609.8L1097.5 609.0L1098.0 610.3L1098.5 610.1L1099.0 609.4L1099.5 610.2L1100.0 608.4L1100.5 609.6L1101.0 608.9L1101.5 608.4L1102.0 609.1L1102.5 608.8L1103.0 609.7L1103.5 608.3L1104.0 609.2L1104.5 609.0L1105.0 610.3L1105.5 608.5L1106.0 610.0L1106.5 608.0L1107.0 609.7L1107.5 609.2L1108.0 609.1L1108.5 608.3L1109.0 607.4L1109.5 608.0L1110.0 610.1L1110.5 609.4L1111.0 608.3L1111.5 609.3L1112.0 608.3L1112.5 608.6L1113.0 608.2L1113.5 609.8L1114.0 610.2L1114.5 608.2L1115.0 608.8L1115.5 609.4L1116.0 610.1L1116.5 607.2L1117.0 608.8L1117.5 609.3L1118.0 607.7L1118.5 608.9L1119.0 608.4L1119.5 608.8L1120.0 608.0L1120.5 608.7L1121.0 607.8L1121.5 608.8L1122.0 608.4L1122.5 607.9L1123.0 607.3L1123.5 609.3L1124.0 608.8L1124.5 608.5L1125.0 607.6L1125.5 607.7L1126.0 608.9L1126.5 608.5L1127.0 607.7L1127.5 608.6L1128.0 608.7L1128.5 608.6L1129.0 608.0L1129.5 609.6L1130.0 609.2L1130.5 608.7L1131.0 607.9L1131.5 608.5L1132.0 608.7L1132.5 609.5L1133.0 608.5L1133.5 609.6L1134.0 608.6L1134.5 608.1L1135.0 606.4L1135.5 607.2L1136.0 607.0L1136.5 607.8L1137.0 608.1L1137.5 609.0L1138.0 608.3L1138.5 607.8L1139.0 610.1L1139.5 608.8L1140.0 608.3L1140.5 608.5L1141.0 607.9L1141.5 609.5L1142.0 609.3L1142.5 609.9L1143.0 609.4L1143.5 609.0L1144.0 609.2L1144.5 608.2L1145.0 607.9L1145.5 608.1L1146.0 606.8L1146.5 607.5L1147.0 607.2L1147.5 608.0L1148.0 607.3L1148.5 606.0L1149.0 607.3L1149.5 608.4L1150.0 606.1L1150.5 607.1L1151.0 607.5L1151.5 606.5L1152.0 607.1L1152.5 607.9L1153.0 606.9L1153.5 608.1L1154.0 608.1L1154.5 606.9L1155.0 607.8L1155.5 608.3L1156.0 607.3L1156.5 607.7L1157.0 608.0L1157.5 607.2L1158.0 607.9L1158.5 607.4L1159.0 606.5L1159.5 607.5L1160.0 608.0L1160.5 608.0L1161.0 607.0L1161.5 607.5L1162.0 608.0L1162.5 607.5L1163.0 608.0L1163.5 608.1L1164.0 606.9L1164.5 607.3L1165.0 606.8L1165.5 607.5L1166.0 606.6L1166.5 606.5L1167.0 606.6L1167.5 606.7L1168.0 606.9L1168.5 606.8L1169.0 605.8L1169.5 606.0L1170.0 606.8L1170.5 607.0L1171.0 606.6L1171.5 608.1L1172.0 607.3L1172.5 606.3L1173.0 606.9L1173.5 607.3L1174.0 606.6L1174.5 605.0L1175.0 606.2L1175.5 606.2L1176.0 608.2L1176.5 605.6L1177.0 608.0L1177.5 607.0L1178.0 607.5L1178.5 606.6L1179.0 607.0L1179.5 607.7L1180.0 607.2L1180.5 607.7L1181.0 606.6L1181.5 606.0L1182.0 606.0L1182.5 606.1L1183.0 606.2L1183.5 606.9L1184.0 605.1L1184.5 604.7L1185.0 605.8L1185.5 607.0L1186.0 606.9L1186.5 607.4L1187.0 606.8L1187.5 605.3L1188.0 606.4L1188.5 604.6L1189.0 605.9L1189.5 606.6L1190.0 604.6L1190.5 604.2L1191.0 604.5L1191.5 605.7L1192.0 606.7L1192.5 607.6L1193.0 606.6L1193.5 604.6L1194.0 604.0L1194.5 606.0L1195.0 606.6L1195.5 605.1L1196.0 605.8L1196.5 605.6L1197.0 605.9L1197.5 605.9L1198.0 606.0L1198.5 606.3L1199.0 605.5L1199.5 605.9L1200.0 606.3L1200.5 604.4L1201.0 604.3L1201.5 605.4L1202.0 605.9L1202.5 605.1L1203.0 605.8L1203.5 604.9L1204.0 605.8L1204.5 605.1L1205.0 605.8L1205.5 605.8L1206.0 605.5L1206.5 606.4L1207.0 606.2L1207.5 605.0L1208.0 606.1L1208.5 604.5L1209.0 605.9L1209.5 607.7L1210.0 606.1L1210.5 606.1L1211.0 605.8L1211.5 606.0L1212.0 605.2L1212.5 606.0L1213.0 605.2L1213.5 605.2L1214.0 605.2L1214.5 604.8L1215.0 603.5L1215.5 606.1L1216.0 604.9L1216.5 603.4L1217.0 605.1L1217.5 604.1L1218.0 604.2L1218.5 604.6L1219.0 603.3L1219.5 602.1L1220.0 604.3L1220.5 604.4L1221.0 605.0L1221.5 603.8L1222.0 604.1L1222.5 604.6L1223.0 604.3L1223.5 604.7L1224.0 604.9L1224.5 603.9L1225.0 605.7L1225.5 604.2L1226.0 604.8L1226.5 604.6L1227.0 604.1L1227.5 604.6L1228.0 604.8L1228.5 605.2L1229.0 604.4L1229.5 603.7L1230.0 604.4L1230.5 603.0L1231.0 604.2L1231.5 604.5L1232.0 604.9L1232.5 603.5L1233.0 603.2L1233.5 605.3L1234.0 603.7L1234.5 602.8L1235.0 602.9L1235.5 603.5L1236.0 604.4L1236.5 603.5L1237.0 604.4L1237.5 603.5L1238.0 603.7L1238.5 603.8L1239.0 602.7L1239.5 603.0L1240.0 602.6L1240.5 602.5L1241.0 603.1L1241.5 601.9L1242.0 602.5L1242.5 602.0L1243.0 602.7L1243.5 602.6L1244.0 603.8L1244.5 602.9L1245.0 602.6L1245.5 603.5L1246.0 600.3L1246.5 601.5L1247.0 600.1L1247.5 601.8L1248.0 602.0L1248.5 602.3L1249.0 602.1L1249.5 601.3L1250.0 603.3L1250.5 602.3L1251.0 601.9L1251.5 601.2L1252.0 602.2L1252.5 601.3L1253.0 601.1L1253.5 601.5L1254.0 601.6L1254.5 600.7L1255.0 602.0L1255.5 600.4L1256.0 600.3L1256.5 601.4L1257.0 601.2L1257.5 601.2L1258.0 600.9L1258.5 600.8L1259.0 600.1L1259.5 598.8L1260.0 600.5L1260.5 599.3L1261.0 599.6L1261.5 600.2L1262.0 599.5L1262.5 601.3L1263.0 598.6L1263.5 599.2L1264.0 600.1L1264.5 601.1L1265.0 600.1L1265.5 599.2L1266.0 601.3L1266.5 600.2L1267.0 600.9L1267.5 601.8L1268.0 600.6L1268.5 600.8L1269.0 600.9L1269.5 600.2L1270.0 600.6L1270.5 599.3L1271.0 599.2L1271.5 598.4L1272.0 598.1L1272.5 600.5L1273.0 599.2L1273.5 599.7L1274.0 598.1L1274.5 598.3L1275.0 598.0L1275.5 597.2L1276.0 597.9L1276.5 596.3L1277.0 595.7L1277.5 594.5L1278.0 595.4L1278.5 594.6L1279.0 593.7L1279.5 591.9L1280.0 591.1L1280.5 591.5L1281.0 589.6L1281.5 589.3L1282.0 587.9L1282.5 585.7L1283.0 586.5L1283.5 582.7L1284.0 583.1L1284.5 581.6L1285.0 579.4L1285.5 579.4L1286.0 577.9L1286.5 576.6L1287.0 574.9L1287.5 574.6L1288.0 574.1L1288.5 572.5L1289.0 573.0L1289.5 571.8L1290.0 571.8L1290.5 572.3L1291.0 571.2L1291.5 571.9L1292.0 573.7L1292.5 574.5L1293.0 576.4L1293.5 576.8L1294.0 577.4L1294.5 578.7L1295.0 579.9L1295.5 581.2L1296.0 582.7L1296.5 585.1L1297.0 585.4L1297.5 586.7L1298.0 588.6L1298.5 589.5L1299.0 590.5L1299.5 589.9L1300.0 592.5L1300.5 592.8L1301.0 593.7L1301.5 594.9L1302.0 593.8L1302.5 597.4L1303.0 596.2L1303.5 597.0L1304.0 596.3L1304.5 598.6L1305.0 598.6L1305.5 598.4L1306.0 599.0L1306.5 600.3L1307.0 599.8L1307.5 599.7L1308.0 601.2L1308.5 600.9L1309.0 600.9L1309.5 603.0L1310.0 601.6L1310.5 601.5L1311.0 601.8L1311.5 601.2L1312.0 601.5L1312.5 601.6L1313.0 600.7L1313.5 601.0L1314.0 601.4L1314.5 601.5L1315.0 601.4L1315.5 601.4L1316.0 600.9L1316.5 601.4L1317.0 600.9L1317.5 601.2L1318.0 602.1L1318.5 599.9L1319.0 601.3L1319.5 603.8L1320.0 600.4L1320.5 602.9L1321.0 600.5L1321.5 602.0L1322.0 602.6L1322.5 602.7L1323.0 600.9L1323.5 600.8L1324.0 600.4L1324.5 602.0L1325.0 601.2L1325.5 601.7L1326.0 602.0L1326.5 602.2L1327.0 602.1L1327.5 602.0L1328.0 600.9L1328.5 603.2L1329.0 599.9L1329.5 602.6L1330.0 601.1L1330.5 601.0L1331.0 600.9L1331.5 601.1L1332.0 601.4L1332.5 601.2L1333.0 600.8L1333.5 602.1L1334.0 601.3L1334.5 602.4L1335.0 601.6L1335.5 601.1L1336.0 601.7L1336.5 601.9L1337.0 600.7L1337.5 600.8L1338.0 602.1L1338.5 600.0L1339.0 600.4L1339.5 601.0L1340.0 599.8L1340.5 598.9L1341.0 599.2L1341.5 600.4L1342.0 600.5L1342.5 600.5L1343.0 600.6L1343.5 599.3L1344.0 600.5L1344.5 601.0L1345.0 599.4L1345.5 600.5L1346.0 599.8L1346.5 600.4L1347.0 600.5L1347.5 599.3L1348.0 601.7L1348.5 600.1L1349.0 600.7L1349.5 600.5L1350.0 601.5L1350.5 600.9L1351.0 600.6L1351.5 601.6L1352.0 600.7L1352.5 600.0L1353.0 598.1L1353.5 599.8L1354.0 599.8L1354.5 599.3L1355.0 599.8L1355.5 600.8L1356.0 600.9L1356.5 601.5L1357.0 600.6L1357.5 599.7L1358.0 600.2L1358.5 598.9L1359.0 600.2L1359.5 599.5L1360.0 598.5L1360.5 598.6L1361.0 598.4L1361.5 598.2L1362.0 599.1L1362.5 599.8L1363.0 598.0L1363.5 597.9L1364.0 597.0L1364.5 596.7L1365.0 598.1L1365.5 595.6L1366.0 595.4L1366.5 594.8L1367.0 595.2L1367.5 594.2L1368.0 593.9L1368.5 591.9L1369.0 591.9L1369.5 591.9L1370.0 589.4L1370.5 588.8L1371.0 589.1L1371.5 587.0L1372.0 585.9L1372.5 582.3L1373.0 582.6L1373.5 579.6L1374.0 578.0L1374.5 577.2L1375.0 575.6L1375.5 571.3L1376.0 569.1L1376.5 566.8L1377.0 564.3L1377.5 560.4L1378.0 559.6L1378.5 554.6L1379.0 550.2L1379.5 545.6L1380.0 543.4L1380.5 539.0L1381.0 532.7L1381.5 528.7L1382.0 524.9L1382.5 519.0L1383.0 515.3L1383.5 512.4L1384.0 507.3L1384.5 504.2L1385.0 500.8L1385.5 499.3L1386.0 498.7L1386.5 496.6L1387.0 495.8L1387.5 496.9L1388.0 500.2L1388.5 501.5L1389.0 503.7L1389.5 507.5L1390.0 511.2L1390.5 514.9L1391.0 517.9L1391.5 523.8L1392.0 527.7L1392.5 532.6L1393.0 535.0L1393.5 540.9L1394.0 543.7L1394.5 546.8L1395.0 552.7L1395.5 554.9L1396.0 558.7L1396.5 561.9L1397.0 566.3L1397.5 569.3L1398.0 571.8L1398.5 573.9L1399.0 574.2L1399.5 576.1L1400.0 579.0L1400.5 579.9L1401.0 582.1L1401.5 583.2L1402.0 583.2L1402.5 584.7L1403.0 585.6L1403.5 587.2L1404.0 588.7L1404.5 590.0L1405.0 591.1L1405.5 590.2L1406.0 590.8L1406.5 593.0L1407.0 593.0L1407.5 592.9L1408.0 591.2L1408.5 592.5L1409.0 593.9L1409.5 593.8L1410.0 596.0L1410.5 595.0L1411.0 595.5L1411.5 594.6L1412.0 595.1L1412.5 595.5L1413.0 595.7L1413.5 596.3L1414.0 597.0L1414.5 597.1L1415.0 597.9L1415.5 596.3L1416.0 597.7L1416.5 597.8L1417.0 599.1L1417.5 598.0L1418.0 598.4L1418.5 597.6L1419.0 598.2L1419.5 598.0L1420.0 597.3L1420.5 597.6L1421.0 598.0L1421.5 598.4L1422.0 597.0L1422.5 598.5L1423.0 597.8L1423.5 599.7L1424.0 599.5L1424.5 598.1L1425.0 597.7L1425.5 599.6L1426.0 598.4L1426.5 598.6L1427.0 598.1L1427.5 598.4L1428.0 599.1L1428.5 599.0L1429.0 598.2L1429.5 599.9L1430.0 599.2L1430.5 598.0L1431.0 599.2L1431.5 598.3L1432.0 598.7L1432.5 597.4L1433.0 598.1L1433.5 596.7L1434.0 597.9L1434.5 597.0L1435.0 598.2L1435.5 596.5L1436.0 598.2L1436.5 598.7L1437.0 598.7L1437.5 599.1L1438.0 597.4L1438.5 599.5L1439.0 599.2L1439.5 597.1L1440.0 597.2L1440.5 597.1L1441.0 597.5L1441.5 597.7L1442.0 595.8L1442.5 598.1L1443.0 597.3L1443.5 596.7L1444.0 598.5L1444.5 597.7L1445.0 598.8L1445.5 598.4L1446.0 597.6L1446.5 598.7L1447.0 598.1L1447.5 597.4L1448.0 596.8L1448.5 597.0L1449.0 597.6L1449.5 596.9L1450.0 598.2L1450.5 596.9L1451.0 596.9L1451.5 596.9L1452.0 595.8L1452.5 596.2L1453.0 596.3L1453.5 595.1L1454.0 595.7L1454.5 597.3L1455.0 596.9L1455.5 597.1L1456.0 596.3L1456.5 596.6L1457.0 597.7L1457.5 597.1L1458.0 596.5L1458.5 597.2L1459.0 596.1L1459.5 595.5L1460.0 596.5L1460.5 594.3L1461.0 596.1L1461.5 594.5L1462.0 594.7L1462.5 594.9L1463.0 595.5L1463.5 595.2L1464.0 595.4L1464.5 595.1L1465.0 595.6L1465.5 595.6L1466.0 594.8L1466.5 594.8L1467.0 593.7L1467.5 593.2L1468.0 594.8L1468.5 594.3L1469.0 595.0L1469.5 593.6L1470.0 596.7L1470.5 593.8L1471.0 594.7L1471.5 595.8L1472.0 594.1L1472.5 594.5L1473.0 593.2L1473.5 593.5L1474.0 592.8L1474.5 594.1L1475.0 594.2L1475.5 593.4L1476.0 594.3L1476.5 594.2L1477.0 593.4L1477.5 593.5L1478.0 593.3L1478.5 593.3L1479.0 594.8L1479.5 594.4L1480.0 594.0L1480.5 594.1L1481.0 594.9L1481.5 594.2L1482.0 594.4L1482.5 594.2L1483.0 595.3L1483.5 595.0L1484.0 592.8L1484.5 593.9L1485.0 594.4L1485.5 593.1L1486.0 593.6L1486.5 593.3L1487.0 593.4L1487.5 592.8L1488.0 593.0L1488.5 593.0L1489.0 591.3L1489.5 591.6L1490.0 591.9L1490.5 593.8L1491.0 593.0L1491.5 593.2L1492.0 593.1L1492.5 592.6L1493.0 592.7L1493.5 593.6L1494.0 592.8L1494.5 593.9L1495.0 593.1L1495.5 592.7L1496.0 592.4L1496.5 592.1L1497.0 591.9L1497.5 592.8L1498.0 593.7L1498.5 591.2L1499.0 592.4L1499.5 592.4L1500.0 591.1L1500.5 591.1L1501.0 591.1L1501.5 589.7L1502.0 591.7L1502.5 590.7L1503.0 590.3L1503.5 590.2L1504.0 590.3L1504.5 591.5L1505.0 589.7L1505.5 589.7L1506.0 588.6L1506.5 588.8L1507.0 588.4L1507.5 588.0L1508.0 586.9L1508.5 586.6L1509.0 586.9L1509.5 587.0L1510.0 586.5L1510.5 585.0L1511.0 584.8L1511.5 581.7L1512.0 583.3L1512.5 581.2L1513.0 579.7L1513.5 578.4L1514.0 574.1L1514.5 572.0L1515.0 567.5L1515.5 564.1L1516.0 558.5L1516.5 553.3L1517.0 548.1L1517.5 539.4L1518.0 532.1L1518.5 525.4L1519.0 518.6L1519.5 513.2L1520.0 505.3L1520.5 499.7L1521.0 497.8L1521.5 495.8L1522.0 497.4L1522.5 499.6L1523.0 501.4L1523.5 504.5L1524.0 506.5L1524.5 510.0L1525.0 511.2L1525.5 513.8L1526.0 514.6L1526.5 513.6L1527.0 514.1L1527.5 514.2L1528.0 514.3L1528.5 512.1L1529.0 512.4L1529.5 512.3L1530.0 508.6L1530.5 505.8L1531.0 501.6L1531.5 495.7L1532.0 491.8L1532.5 485.1L1533.0 478.6L1533.5 472.9L1534.0 466.7L1534.5 459.8L1535.0 456.2L1535.5 450.0L1536.0 444.8L1536.5 437.8L1537.0 431.1L1537.5 426.2L1538.0 419.1L1538.5 413.3L1539.0 407.9L1539.5 404.6L1540.0 402.3L1540.5 400.1L1541.0 402.4L1541.5 406.4L1542.0 411.9L1542.5 419.0L1543.0 425.2L1543.5 435.9L1544.0 443.7L1544.5 453.3L1545.0 462.0L1545.5 471.8L1546.0 482.5L1546.5 490.5L1547.0 499.0L1547.5 507.9L1548.0 516.0L1548.5 520.7L1549.0 528.3L1549.5 534.7L1550.0 541.4L1550.5 546.6L1551.0 549.4L1551.5 553.7L1552.0 557.6L1552.5 561.1L1553.0 563.0L1553.5 566.6L1554.0 567.6L1554.5 568.2L1555.0 570.7L1555.5 573.4L1556.0 575.4L1556.5 574.8L1557.0 576.2L1557.5 578.6L1558.0 577.0L1558.5 580.8L1559.0 582.0L1559.5 580.0L1560.0 583.2L1560.5 583.1L1561.0 584.7L1561.5 584.3L1562.0 584.4L1562.5 585.1L1563.0 586.0L1563.5 585.8L1564.0 586.1L1564.5 585.1L1565.0 586.8L1565.5 586.5L1566.0 587.9L1566.5 586.8L1567.0 587.1L1567.5 586.8L1568.0 588.3L1568.5 588.1L1569.0 587.7L1569.5 589.4L1570.0 590.0L1570.5 588.6L1571.0 588.5L1571.5 590.1L1572.0 588.9L1572.5 591.4L1573.0 589.3L1573.5 590.5L1574.0 588.9L1574.5 589.7L1575.0 590.8L1575.5 590.4L1576.0 589.9L1576.5 592.4L1577.0 591.5L1577.5 590.8L1578.0 590.7L1578.5 591.0L1579.0 592.4L1579.5 590.8L1580.0 591.3L1580.5 590.6L1581.0 591.7L1581.5 590.7L1582.0 591.6L1582.5 591.4L1583.0 590.6L1583.5 591.4L1584.0 591.9L1584.5 590.6L1585.0 591.9L1585.5 594.3L1586.0 591.4L1586.5 592.0L1587.0 590.5L1587.5 592.0L1588.0 591.2L1588.5 592.0L1589.0 591.5L1589.5 590.9L1590.0 592.4L1590.5 591.4L1591.0 590.9L1591.5 591.6L1592.0 590.8L1592.5 591.6L1593.0 591.3L1593.5 591.1L1594.0 591.6L1594.5 589.7L1595.0 591.6L1595.5 589.4L1596.0 592.0L1596.5 590.9L1597.0 590.8L1597.5 590.6L1598.0 591.4L1598.5 590.6L1599.0 590.8L1599.5 591.7L1600.0 590.8L1600.5 591.0L1601.0 591.4L1601.5 592.0L1602.0 591.1L1602.5 591.4L1603.0 591.6L1603.5 592.4L1604.0 592.9L1604.5 591.1L1605.0 591.7L1605.5 591.7L1606.0 592.1L1606.5 592.7L1607.0 591.9L1607.5 592.0L1608.0 592.7L1608.5 590.9L1609.0 591.0L1609.5 591.3L1610.0 591.8L1610.5 591.9L1611.0 591.2L1611.5 592.6L1612.0 590.8L1612.5 591.1L1613.0 591.8L1613.5 591.9L1614.0 591.2L1614.5 591.4L1615.0 591.7L1615.5 591.4L1616.0 591.9L1616.5 591.1L1617.0 591.6L1617.5 590.3L1618.0 590.8L1618.5 590.9L1619.0 592.3L1619.5 591.4L1620.0 591.9L1620.5 591.2L1621.0 591.5L1621.5 591.5L1622.0 591.1L1622.5 592.5L1623.0 590.6L1623.5 592.7L1624.0 594.0L1624.5 591.4L1625.0 591.8L1625.5 590.5L1626.0 591.8L1626.5 590.7L1627.0 592.0L1627.5 591.3L1628.0 590.2L1628.5 590.6L1629.0 590.7L1629.5 591.8L1630.0 592.8L1630.5 591.7L1631.0 591.5L1631.5 592.0L1632.0 592.4L1632.5 590.8L1633.0 592.9L1633.5 592.5L1634.0 590.3L1634.5 592.9L1635.0 591.1L1635.5 592.2L1636.0 592.9L1636.5 591.1L1637.0 590.7L1637.5 591.4L1638.0 591.4L1638.5 592.2L1639.0 592.1L1639.5 592.4L1640.0 592.1L1640.5 592.4L1641.0 591.8L1641.5 592.6L1642.0 592.3L1642.5 591.6L1643.0 593.8L1643.5 591.6L1644.0 593.0L1644.5 592.1L1645.0 593.0L1645.5 593.3L1646.0 593.8L1646.5 594.7L1647.0 593.0L1647.5 595.7L1648.0 593.9L1648.5 593.1L1649.0 592.8L1649.5 595.3L1650.0 595.0L1650.5 593.7L1651.0 593.9L1651.5 594.8L1652.0 593.9L1652.5 593.9L1653.0 594.0L1653.5 594.7L1654.0 594.2L1654.5 593.4L1655.0 595.2L1655.5 593.5L1656.0 594.1L1656.5 595.5L1657.0 594.6L1657.5 594.8L1658.0 594.9L1658.5 595.7L1659.0 595.0L1659.5 593.5L1660.0 594.9L1660.5 592.9L1661.0 593.7L1661.5 596.3L1662.0 596.1L1662.5 595.4L1663.0 595.9L1663.5 596.2L1664.0 596.7L1664.5 595.6L1665.0 595.4L1665.5 595.8L1666.0 596.2L1666.5 596.2L1667.0 595.8L1667.5 596.4L1668.0 594.7L1668.5 595.3L1669.0 594.9L1669.5 594.9L1670.0 596.3L1670.5 595.5L1671.0 594.8L1671.5 595.1L1672.0 594.5L1672.5 595.8L1673.0 596.0L1673.5 596.1L1674.0 594.4L1674.5 594.8L1675.0 595.7L1675.5 594.5L1676.0 595.5L1676.5 595.6L1677.0 594.0L1677.5 595.9L1678.0 595.7L1678.5 595.6L1679.0 596.4L1679.5 595.8L1680.0 595.3L1680.5 595.8L1681.0 595.2L1681.5 595.5L1682.0 593.4L1682.5 595.9L1683.0 594.5L1683.5 595.3L1684.0 594.9L1684.5 594.8L1685.0 594.6L1685.5 594.4L1686.0 593.1L1686.5 594.0L1687.0 595.4L1687.5 593.5L1688.0 593.3L1688.5 595.7L1689.0 594.8L1689.5 595.0L1690.0 593.9L1690.5 593.9L1691.0 593.8L1691.5 593.5L1692.0 593.1L1692.5 592.2L1693.0 592.8L1693.5 592.3L1694.0 594.5L1694.5 593.1L1695.0 593.3L1695.5 594.2L1696.0 594.0L1696.5 594.2L1697.0 593.3L1697.5 592.6L1698.0 594.8L1698.5 592.9L1699.0 593.1L1699.5 593.0L1700.0 592.9L1700.5 593.4L1701.0 593.9L1701.5 592.8L1702.0 593.4L1702.5 592.7L1703.0 594.1L1703.5 592.1L1704.0 592.8L1704.5 593.4L1705.0 591.6L1705.5 593.0L1706.0 592.8L1706.5 592.3L1707.0 592.6L1707.5 593.4L1708.0 593.1L1708.5 592.4L1709.0 592.3L1709.5 592.8L1710.0 592.9L1710.5 592.5L1711.0 592.3L1711.5 593.1L1712.0 590.7L1712.5 590.6L1713.0 590.1L1713.5 592.2L1714.0 589.8L1714.5 591.4L1715.0 591.8L1715.5 590.2L1716.0 590.5L1716.5 590.7L1717.0 591.4L1717.5 590.0L1718.0 591.6L1718.5 592.2L1719.0 591.8L1719.5 591.7L1720.0 592.7L1720.5 591.9L1721.0 592.0L1721.5 591.6L1722.0 592.1L1722.5 591.3L1723.0 591.5L1723.5 591.1L1724.0 591.9L1724.5 590.5L1725.0 591.1L1725.5 591.4L1726.0 591.6L1726.5 591.9L1727.0 591.4L1727.5 592.4L1728.0 593.1L1728.5 592.4L1729.0 590.9L1729.5 590.4L1730.0 591.5L1730.5 590.7L1731.0 591.4L1731.5 590.9L1732.0 591.6L1732.5 591.5L1733.0 589.9L1733.5 590.8L1734.0 590.5L1734.5 589.9L1735.0 591.3L1735.5 590.6L1736.0 591.1L1736.5 592.6L1737.0 591.7L1737.5 591.4L1738.0 590.1L1738.5 589.9L1739.0 591.8L1739.5 590.8L1740.0 590.7L1740.5 590.1L1741.0 590.2L1741.5 591.6L1742.0 589.6L1742.5 589.8L1743.0 589.8L1743.5 589.7L1744.0 588.6L1744.5 588.3L1745.0 589.3L1745.5 589.5L1746.0 589.3L1746.5 589.0L1747.0 589.1L1747.5 589.5L1748.0 589.4L1748.5 588.4L1749.0 589.3L1749.5 589.9L1750.0 589.8L1750.5 588.9L1751.0 589.7L1751.5 590.1L1752.0 590.6L1752.5 588.7L1753.0 590.4L1753.5 589.4L1754.0 589.9L1754.5 590.1L1755.0 589.2L1755.5 589.3L1756.0 589.5L1756.5 590.1L1757.0 589.2L1757.5 588.2L1758.0 588.6L1758.5 589.4L1759.0 589.6L1759.5 588.2L1760.0 588.0L1760.5 587.8L1761.0 587.4L1761.5 586.5L1762.0 586.8L1762.5 586.8L1763.0 586.2L1763.5 586.1L1764.0 584.9L1764.5 584.8L1765.0 584.1L1765.5 585.1L1766.0 585.2L1766.5 583.9L1767.0 584.6L1767.5 582.9L1768.0 582.6L1768.5 581.6L1769.0 582.1L1769.5 581.5L1770.0 581.8L1770.5 581.9L1771.0 581.3L1771.5 580.6L1772.0 581.4L1772.5 581.2L1773.0 581.2L1773.5 582.2L1774.0 581.9L1774.5 581.8L1775.0 583.5L1775.5 583.4L1776.0 582.6L1776.5 582.4L1777.0 583.3L1777.5 584.6L1778.0 585.1L1778.5 586.4L1779.0 584.9L1779.5 585.6L1780.0 585.4L1780.5 586.5L1781.0 586.3L1781.5 586.1L1782.0 587.7L1782.5 587.1L1783.0 588.3L1783.5 587.3L1784.0 587.8L1784.5 588.3L1785.0 586.6L1785.5 587.1L1786.0 588.5L1786.5 588.0L1787.0 586.9L1787.5 587.7L1788.0 587.6L1788.5 588.3L1789.0 589.7L1789.5 587.7L1790.0 589.6L1790.5 588.1L1791.0 587.9L1791.5 589.3L1792.0 588.6L1792.5 589.0L1793.0 589.4L1793.5 588.8L1794.0 589.1L1794.5 587.1L1795.0 587.8L1795.5 588.7L1796.0 589.0L1796.5 589.6L1797.0 588.8L1797.5 589.8L1798.0 590.3L1798.5 589.4L1799.0 589.8L1799.5 589.5L1800.0 589.7L1800.5 588.9L1801.0 588.3L1801.5 588.9L1802.0 589.0L1802.5 588.1L1803.0 589.5L1803.5 589.3L1804.0 589.3L1804.5 589.0L1805.0 590.0L1805.5 590.1L1806.0 589.3L1806.5 589.8L1807.0 590.0L1807.5 589.9L1808.0 588.8L1808.5 588.9L1809.0 589.5L1809.5 588.7L1810.0 591.2L1810.5 588.5L1811.0 588.5L1811.5 589.7L1812.0 589.1L1812.5 587.6L1813.0 589.0L1813.5 588.6L1814.0 589.2L1814.5 588.5L1815.0 589.1L1815.5 589.6L1816.0 589.6L1816.5 588.8L1817.0 589.1L1817.5 589.0L1818.0 589.5L1818.5 589.1L1819.0 588.4L1819.5 589.8L1820.0 589.3L1820.5 590.2L1821.0 589.3L1821.5 590.2L1822.0 590.2L1822.5 590.2L1823.0 590.4L1823.5 590.1L1824.0 589.9L1824.5 589.7L1825.0 588.4L1825.5 589.3L1826.0 587.7L1826.5 587.4L1827.0 589.0L1827.5 589.1L1828.0 590.2L1828.5 589.5L1829.0 589.6L1829.5 588.6L1830.0 589.1L1830.5 589.6L1831.0 589.1L1831.5 588.8L1832.0 588.6L1832.5 587.8L1833.0 588.0L1833.5 587.7L1834.0 588.9L1834.5 588.5L1835.0 588.1L1835.5 588.7L1836.0 588.0L1836.5 589.3L1837.0 589.8L1837.5 588.6L1838.0 587.8L1838.5 587.3L1839.0 589.6L1839.5 588.6L1840.0 587.2L1840.5 588.6L1841.0 586.0L1841.5 586.7L1842.0 586.5L1842.5 586.2L1843.0 585.1L1843.5 587.1L1844.0 584.4L1844.5 585.0L1845.0 584.1L1845.5 582.6L1846.0 582.6L1846.5 582.4L1847.0 582.1L1847.5 580.4L1848.0 579.6L1848.5 577.9L1849.0 576.7L1849.5 573.2L1850.0 573.5L1850.5 570.9L1851.0 569.1L1851.5 565.5L1852.0 564.5L1852.5 563.4L1853.0 562.3L1853.5 558.3L1854.0 556.1L1854.5 554.9L1855.0 553.2L1855.5 551.4L1856.0 550.7L1856.5 550.5L1857.0 551.8L1857.5 553.1L1858.0 554.6L1858.5 555.6L1859.0 557.5L1859.5 559.1L1860.0 562.0L1860.5 562.7L1861.0 566.8L1861.5 567.7L1862.0 570.4L1862.5 571.1L1863.0 574.2L1863.5 575.2L1864.0 576.5L1864.5 577.3L1865.0 578.4L1865.5 581.5L1866.0 581.7L1866.5 581.4L1867.0 581.8L1867.5 581.3L1868.0 581.1L1868.5 580.8L1869.0 581.8L1869.5 581.9L1870.0 581.3L1870.5 582.4L1871.0 582.3L1871.5 581.8L1872.0 580.4L1872.5 581.1L1873.0 581.3L1873.5 579.9L1874.0 578.8L1874.5 580.8L1875.0 579.3L1875.5 578.1L1876.0 579.3L1876.5 578.6L1877.0 578.0L1877.5 577.9L1878.0 578.1L1878.5 579.0L1879.0 578.3L1879.5 578.3L1880.0 578.8L1880.5 576.7L1881.0 578.8L1881.5 578.7L1882.0 579.0L1882.5 579.2L1883.0 580.3L1883.5 580.5L1884.0 580.9L1884.5 581.3L1885.0 582.1L1885.5 581.7L1886.0 583.3L1886.5 581.7L1887.0 583.6L1887.5 583.6L1888.0 582.5L1888.5 583.9L1889.0 585.3L1889.5 584.2L1890.0 584.0L1890.5 582.4L1891.0 585.1L1891.5 585.0L1892.0 585.3L1892.5 586.8L1893.0 584.9L1893.5 584.9L1894.0 584.8L1894.5 585.4L1895.0 585.4L1895.5 585.7L1896.0 585.5L1896.5 584.6L1897.0 584.7L1897.5 586.0L1898.0 584.4L1898.5 585.3L1899.0 585.8L1899.5 585.4L1900.0 585.2L1900.5 586.1L1901.0 585.3L1901.5 585.1L1902.0 584.8L1902.5 586.0L1903.0 585.7L1903.5 586.3L1904.0 585.0L1904.5 585.3L1905.0 584.9L1905.5 585.7L1906.0 584.9L1906.5 586.4L1907.0 585.7L1907.5 584.9L1908.0 583.6L1908.5 584.0L1909.0 586.0L1909.5 585.4L1910.0 585.4L1910.5 584.9L1911.0 585.1L1911.5 583.8L1912.0 583.9L1912.5 584.2L1913.0 585.3L1913.5 586.0L1914.0 585.6L1914.5 585.0L1915.0 584.5L1915.5 586.3L1916.0 585.3L1916.5 585.2L1917.0 585.3L1917.5 585.4L1918.0 585.2L1918.5 585.4L1919.0 585.0L1919.5 586.1L1920.0 585.7L1920.5 586.7L1921.0 584.9L1921.5 586.8L1922.0 585.9L1922.5 586.0L1923.0 585.1L1923.5 585.1L1924.0 584.6L1924.5 586.5L1925.0 585.6L1925.5 586.3L1926.0 586.4L1926.5 585.4L1927.0 585.3L1927.5 585.7L1928.0 586.8L1928.5 586.2L1929.0 586.1L1929.5 586.6L1930.0 586.1L1930.5 588.0L1931.0 585.9L1931.5 587.5L1932.0 587.7L1932.5 585.6L1933.0 586.4L1933.5 586.1L1934.0 586.6L1934.5 585.2L1935.0 585.9L1935.5 585.2L1936.0 585.6L1936.5 586.7L1937.0 585.6L1937.5 584.3L1938.0 584.7L1938.5 584.5L1939.0 585.7L1939.5 584.2L1940.0 583.4L1940.5 585.4L1941.0 584.5L1941.5 584.6L1942.0 584.0L1942.5 585.6L1943.0 584.7L1943.5 583.7L1944.0 584.3L1944.5 584.6L1945.0 585.2L1945.5 585.9L1946.0 585.0L1946.5 584.9L1947.0 586.9L1947.5 585.4L1948.0 584.7L1948.5 585.2L1949.0 584.2L1949.5 585.4L1950.0 585.9L1950.5 584.7L1951.0 585.8L1951.5 584.8L1952.0 584.8L1952.5 583.9L1953.0 583.5L1953.5 582.5L1954.0 583.3L1954.5 582.2L1955.0 581.7L1955.5 580.4L1956.0 579.8L1956.5 579.2L1957.0 578.7L1957.5 577.6L1958.0 575.8L1958.5 574.9L1959.0 574.4L1959.5 571.4L1960.0 571.2L1960.5 568.1L1961.0 567.6L1961.5 565.1L1962.0 565.0L1962.5 562.9L1963.0 563.6L1963.5 563.6L1964.0 563.0L1964.5 564.3L1965.0 567.4L1965.5 568.3L1966.0 570.7L1966.5 571.4L1967.0 570.9L1967.5 574.6L1968.0 575.4L1968.5 577.0L1969.0 578.1L1969.5 579.2L1970.0 579.8L1970.5 581.8L1971.0 582.1L1971.5 581.8L1972.0 582.6L1972.5 583.9L1973.0 583.5L1973.5 583.7L1974.0 582.8L1974.5 583.4L1975.0 583.1L1975.5 582.5L1976.0 584.6L1976.5 583.7L1977.0 583.7L1977.5 583.2L1978.0 584.6L1978.5 585.5L1979.0 584.3L1979.5 584.2L1980.0 582.2L1980.5 582.6L1981.0 582.0L1981.5 582.6L1982.0 581.1L1982.5 579.4L1983.0 579.3L1983.5 578.3L1984.0 578.7L1984.5 577.5L1985.0 576.5L1985.5 575.8L1986.0 575.5L1986.5 573.8L1987.0 573.6L1987.5 572.7L1988.0 574.8L1988.5 574.5L1989.0 575.3L1989.5 575.4L1990.0 577.1L1990.5 576.0L1991.0 578.5L1991.5 577.5L1992.0 578.2L1992.5 578.6L1993.0 580.3L1993.5 580.4L1994.0 581.9L1994.5 581.7L1995.0 581.7L1995.5 583.3L1996.0 584.8L1996.5 585.0L1997.0 584.8L1997.5 585.6L1998.0 584.2L1998.5 585.2L1999.0 586.5L1999.5 585.9L2000.0 585.1L2000.5 585.9L2001.0 585.4L2001.5 586.0L2002.0 584.4L2002.5 585.1L2003.0 585.9L2003.5 585.9L2004.0 586.4L2004.5 586.0L2005.0 586.0L2005.5 586.4L2006.0 586.4L2006.5 584.8L2007.0 585.8L2007.5 585.8L2008.0 586.3L2008.5 586.6L2009.0 585.0L2009.5 586.1L2010.0 584.7L2010.5 585.8L2011.0 586.0L2011.5 586.0L2012.0 585.6L2012.5 585.6L2013.0 585.9L2013.5 585.9L2014.0 585.0L2014.5 585.2L2015.0 585.7L2015.5 586.0L2016.0 586.5L2016.5 587.7L2017.0 585.7L2017.5 585.2L2018.0 586.1L2018.5 586.7L2019.0 586.4L2019.5 585.6L2020.0 586.7L2020.5 586.9L2021.0 586.1L2021.5 586.3L2022.0 587.7L2022.5 584.9L2023.0 586.3L2023.5 586.2L2024.0 587.4L2024.5 587.2L2025.0 586.1L2025.5 587.4L2026.0 586.1L2026.5 588.0L2027.0 588.3L2027.5 586.9L2028.0 587.3L2028.5 586.8L2029.0 585.7L2029.5 587.1L2030.0 586.6L2030.5 587.0L2031.0 587.2L2031.5 587.2L2032.0 587.3L2032.5 586.5L2033.0 586.4L2033.5 586.4L2034.0 585.9L2034.5 585.9L2035.0 587.5L2035.5 586.6L2036.0 587.5L2036.5 585.2L2037.0 585.8L2037.5 585.9L2038.0 586.0L2038.5 586.0L2039.0 586.0L2039.5 585.8L2040.0 587.2L2040.5 586.2L2041.0 585.4L2041.5 585.6L2042.0 586.6L2042.5 586.5L2043.0 585.8L2043.5 586.8L2044.0 585.1L2044.5 586.1L2045.0 587.5L2045.5 584.7L2046.0 586.3L2046.5 587.0L2047.0 586.1L2047.5 585.7L2048.0 585.6L2048.5 584.9L2049.0 585.4L2049.5 586.5L2050.0 585.8L2050.5 586.4L2051.0 586.6L2051.5 587.1L2052.0 585.5L2052.5 586.3L2053.0 586.4L2053.5 586.5L2054.0 586.2L2054.5 585.4L2055.0 587.3L2055.5 587.0L2056.0 588.0L2056.5 587.1L2057.0 587.9L2057.5 587.1L2058.0 586.1L2058.5 586.7L2059.0 585.9L2059.5 586.9L2060.0 587.0L2060.5 586.4L2061.0 587.9L2061.5 587.9L2062.0 587.5L2062.5 587.9L2063.0 588.4L2063.5 587.1L2064.0 586.0L2064.5 586.2L2065.0 587.6L2065.5 587.6L2066.0 586.4L2066.5 588.4L2067.0 587.7L2067.5 588.8L2068.0 588.5L2068.5 587.5L2069.0 588.0L2069.5 587.0L2070.0 587.1L2070.5 587.4L2071.0 587.9L2071.5 588.3L2072.0 586.5L2072.5 587.4L2073.0 586.9L2073.5 586.7L2074.0 587.7L2074.5 586.4L2075.0 587.6L2075.5 586.4L2076.0 586.1L2076.5 587.6L2077.0 586.1L2077.5 586.3L2078.0 586.8L2078.5 587.1L2079.0 587.2L2079.5 586.0L2080.0 586.4L2080.5 587.7L2081.0 587.6L2081.5 586.4L2082.0 587.5L2082.5 587.5L2083.0 588.0L2083.5 586.8L2084.0 588.4L2084.5 587.1L2085.0 588.2L2085.5 588.0L2086.0 586.9L2086.5 587.5L2087.0 587.9L2087.5 588.5L2088.0 586.6L2088.5 587.2L2089.0 588.2L2089.5 588.2L2090.0 587.0L2090.5 587.1L2091.0 588.1L2091.5 587.0L2092.0 587.6L2092.5 588.2L2093.0 587.9L2093.5 586.2L2094.0 588.8L2094.5 588.8L2095.0 589.2L2095.5 588.8L2096.0 587.4L2096.5 589.9L2097.0 588.8L2097.5 589.0L2098.0 588.0L2098.5 588.0L2099.0 587.7L2099.5 588.7L2100.0 587.6L2100.5 587.2L2101.0 586.5L2101.5 588.2L2102.0 588.0L2102.5 588.1L2103.0 588.7L2103.5 589.1L2104.0 588.8L2104.5 589.0L2105.0 588.9L2105.5 589.0L2106.0 589.2L2106.5 588.4L2107.0 587.7L2107.5 589.0L2108.0 588.8L2108.5 587.2L2109.0 588.4L2109.5 587.8L2110.0 586.7L2110.5 588.1L2111.0 588.9L2111.5 588.0L2112.0 587.9L2112.5 589.0L2113.0 587.7L2113.5 587.7L2114.0 588.0L2114.5 588.7L2115.0 588.9L2115.5 587.9L2116.0 587.7L2116.5 588.1L2117.0 588.0L2117.5 587.9L2118.0 587.7L2118.5 588.8L2119.0 588.0L2119.5 590.2L2120.0 588.8L2120.5 588.0L2121.0 588.3L2121.5 588.5L2122.0 588.4L2122.5 588.3L2123.0 588.3L2123.5 587.9L2124.0 588.6L2124.5 589.7L2125.0 587.9L2125.5 588.0L2126.0 588.4L2126.5 588.5L2127.0 588.1L2127.5 588.4L2128.0 587.6L2128.5 586.9L2129.0 587.5L2129.5 587.3L2130.0 588.2L2130.5 588.3L2131.0 586.2L2131.5 588.0L2132.0 586.8L2132.5 585.7L2133.0 587.7L2133.5 587.3L2134.0 587.2L2134.5 586.2L2135.0 586.4L2135.5 587.1L2136.0 586.2L2136.5 587.2L2137.0 587.3L2137.5 587.0L2138.0 587.4L2138.5 587.1L2139.0 586.5L2139.5 586.7L2140.0 587.4L2140.5 587.9L2141.0 587.2L2141.5 586.8L2142.0 587.3L2142.5 585.9L2143.0 586.8L2143.5 587.1L2144.0 587.1L2144.5 586.7L2145.0 586.9L2145.5 586.4L2146.0 586.7L2146.5 587.0L2147.0 585.5L2147.5 585.8L2148.0 586.6L2148.5 588.1L2149.0 587.8L2149.5 588.2L2150.0 588.1L2150.5 586.9L2151.0 587.0L2151.5 586.2L2152.0 587.7L2152.5 587.2L2153.0 586.7L2153.5 586.6L2154.0 586.3L2154.5 586.1L2155.0 586.4L2155.5 587.2L2156.0 585.8L2156.5 585.8L2157.0 586.7L2157.5 587.7L2158.0 586.9L2158.5 586.9L2159.0 587.5L2159.5 586.9L2160.0 585.5L2160.5 586.2L2161.0 585.5L2161.5 586.6L2162.0 586.3L2162.5 587.1L2163.0 588.1L2163.5 586.4L2164.0 586.5L2164.5 586.1L2165.0 584.2L2165.5 585.5L2166.0 585.4L2166.5 585.9L2167.0 584.9L2167.5 584.5L2168.0 585.4L2168.5 585.0L2169.0 584.7L2169.5 584.5L2170.0 584.9L2170.5 585.8L2171.0 586.3L2171.5 584.5L2172.0 586.1L2172.5 585.4L2173.0 585.3L2173.5 585.7L2174.0 584.5L2174.5 585.4L2175.0 583.9L2175.5 584.4L2176.0 584.2L2176.5 586.2L2177.0 586.4L2177.5 586.0L2178.0 585.9L2178.5 585.0L2179.0 586.4L2179.5 586.4L2180.0 586.1L2180.5 585.3L2181.0 585.2L2181.5 585.3L2182.0 586.3L2182.5 584.6L2183.0 585.4L2183.5 586.8L2184.0 585.6L2184.5 586.2L2185.0 585.1L2185.5 584.8L2186.0 585.3L2186.5 585.1L2187.0 584.6L2187.5 583.9L2188.0 583.0L2188.5 585.0L2189.0 583.5L2189.5 583.4L2190.0 584.6L2190.5 583.2L2191.0 582.6L2191.5 583.2L2192.0 583.2L2192.5 583.3L2193.0 583.4L2193.5 583.6L2194.0 582.4L2194.5 582.4L2195.0 581.6L2195.5 580.7L2196.0 580.9L2196.5 580.5L2197.0 581.6L2197.5 580.6L2198.0 579.5L2198.5 580.1L2199.0 579.2L2199.5 580.4L2200.0 577.8L2200.5 578.6L2201.0 578.5L2201.5 578.6L2202.0 578.0L2202.5 576.9L2203.0 576.5L2203.5 578.0L2204.0 578.6L2204.5 578.5L2205.0 577.2L2205.5 577.6L2206.0 576.9L2206.5 576.6L2207.0 578.5L2207.5 578.3L2208.0 577.7L2208.5 578.1L2209.0 579.5L2209.5 579.2L2210.0 579.3L2210.5 580.0L2211.0 580.3L2211.5 580.1L2212.0 580.4L2212.5 581.7L2213.0 581.0L2213.5 580.9L2214.0 583.6L2214.5 583.3L2215.0 583.0L2215.5 582.8L2216.0 583.2L2216.5 582.3L2217.0 583.5L2217.5 584.1L2218.0 583.7L2218.5 584.3L2219.0 583.6L2219.5 584.5L2220.0 583.5L2220.5 584.8L2221.0 584.3L2221.5 584.1L2222.0 584.6L2222.5 585.3L2223.0 584.8L2223.5 586.2L2224.0 585.1L2224.5 586.3L2225.0 586.3L2225.5 585.7L2226.0 587.2L2226.5 585.4L2227.0 586.8L2227.5 586.7L2228.0 587.3L2228.5 585.8L2229.0 586.1L2229.5 586.2L2230.0 586.6L2230.5 586.5L2231.0 586.5L2231.5 586.3L2232.0 585.6L2232.5 585.0L2233.0 585.4L2233.5 585.9L2234.0 586.2L2234.5 585.4L2235.0 586.6L2235.5 585.1L2236.0 586.7L2236.5 585.6L2237.0 586.6L2237.5 586.1L2238.0 586.1L2238.5 586.3L2239.0 587.6L2239.5 586.1L2240.0 586.7L2240.5 586.2L2241.0 586.2L2241.5 586.3L2242.0 586.4L2242.5 585.0L2243.0 586.3L2243.5 586.6L2244.0 586.2L2244.5 586.9L2245.0 585.9L2245.5 587.3L2246.0 586.4L2246.5 586.7L2247.0 587.7L2247.5 587.9L2248.0 587.1L2248.5 587.1L2249.0 588.3L2249.5 585.6L2250.0 588.1L2250.5 587.7L2251.0 585.9L2251.5 587.3L2252.0 586.4L2252.5 585.9L2253.0 583.5L2253.5 584.5L2254.0 584.5L2254.5 584.3L2255.0 584.0L2255.5 584.1L2256.0 582.0L2256.5 583.9L2257.0 583.3L2257.5 584.0L2258.0 583.9L2258.5 584.1L2259.0 584.3L2259.5 585.3L2260.0 583.2L2260.5 584.8L2261.0 583.0" fill="none" stroke="#ff0000" stroke-width="7.2" stroke-linejoin="round" stroke-linecap="round"/>
<path d="M997.5 455.0L1003.0 455.0L1003.0 470.0L1010.5 471.0L1010.5 505.0L997.5 505.0Z" fill="#ff0000" stroke="#ff0000" stroke-width="3" stroke-linejoin="round"/>
<path d="M1518.5 494.0L1524.0 494.0L1529.5 500.0L1530.0 468.0L1534.0 468.0L1534.0 519.0L1518.5 519.0Z" fill="#ff0000" stroke="#ff0000" stroke-width="3" stroke-linejoin="round"/>
<path d="M229.5 1192.5L230.0 1193.3L230.5 1193.1L231.0 1193.3L231.5 1193.8L232.0 1192.2L232.5 1192.4L233.0 1191.7L233.5 1192.0L234.0 1192.6L234.5 1191.9L235.0 1191.8L235.5 1190.2L236.0 1191.3L236.5 1190.4L237.0 1191.9L237.5 1191.4L238.0 1191.7L238.5 1191.1L239.0 1190.9L239.5 1190.9L240.0 1189.9L240.5 1189.5L241.0 1189.5L241.5 1188.9L242.0 1188.9L242.5 1188.7L243.0 1188.2L243.5 1189.2L244.0 1187.8L244.5 1189.2L245.0 1188.0L245.5 1188.1L246.0 1187.6L246.5 1187.8L247.0 1187.5L247.5 1187.4L248.0 1186.5L248.5 1186.6L249.0 1187.4L249.5 1186.6L250.0 1185.6L250.5 1186.4L251.0 1185.7L251.5 1186.0L252.0 1186.1L252.5 1185.4L253.0 1184.2L253.5 1184.9L254.0 1185.4L254.5 1184.9L255.0 1185.1L255.5 1185.5L256.0 1184.5L256.5 1185.4L257.0 1185.3L257.5 1185.0L258.0 1185.2L258.5 1185.0L259.0 1185.2L259.5 1183.9L260.0 1183.8L260.5 1184.0L261.0 1183.1L261.5 1182.7L262.0 1183.0L262.5 1183.4L263.0 1183.2L263.5 1182.2L264.0 1181.7L264.5 1182.5L265.0 1182.4L265.5 1182.1L266.0 1182.5L266.5 1182.4L267.0 1181.6L267.5 1181.7L268.0 1180.3L268.5 1180.1L269.0 1180.9L269.5 1181.0L270.0 1181.1L270.5 1180.6L271.0 1180.9L271.5 1180.8L272.0 1179.1L272.5 1179.7L273.0 1180.2L273.5 1179.9L274.0 1178.5L274.5 1179.8L275.0 1179.0L275.5 1178.7L276.0 1179.0L276.5 1179.3L277.0 1177.9L277.5 1179.1L278.0 1178.6L278.5 1177.9L279.0 1178.2L279.5 1176.9L280.0 1177.7L280.5 1178.1L281.0 1177.5L281.5 1177.8L282.0 1177.9L282.5 1177.9L283.0 1178.8L283.5 1178.0L284.0 1177.8L284.5 1178.4L285.0 1179.1L285.5 1177.5L286.0 1177.9L286.5 1176.6L287.0 1178.2L287.5 1177.5L288.0 1177.7L288.5 1176.6L289.0 1176.0L289.5 1177.2L290.0 1176.9L290.5 1175.8L291.0 1175.4L291.5 1176.5L292.0 1176.2L292.5 1177.9L293.0 1175.9L293.5 1175.8L294.0 1176.1L294.5 1175.4L295.0 1176.0L295.5 1177.3L296.0 1176.2L296.5 1175.8L297.0 1175.2L297.5 1176.3L298.0 1176.2L298.5 1175.8L299.0 1174.8L299.5 1175.1L300.0 1175.1L300.5 1174.4L301.0 1175.1L301.5 1173.6L302.0 1173.8L302.5 1174.3L303.0 1174.2L303.5 1174.0L304.0 1174.8L304.5 1175.1L305.0 1174.5L305.5 1174.3L306.0 1174.6L306.5 1174.4L307.0 1173.4L307.5 1174.0L308.0 1174.7L308.5 1173.2L309.0 1173.8L309.5 1173.6L310.0 1173.4L310.5 1173.3L311.0 1174.1L311.5 1174.2L312.0 1174.2L312.5 1173.2L313.0 1173.7L313.5 1174.1L314.0 1174.4L314.5 1173.8L315.0 1173.9L315.5 1173.6L316.0 1173.2L316.5 1171.9L317.0 1172.1L317.5 1171.7L318.0 1170.7L318.5 1171.0L319.0 1173.1L319.5 1170.8L320.0 1169.9L320.5 1171.0L321.0 1172.1L321.5 1170.6L322.0 1170.4L322.5 1169.4L323.0 1168.7L323.5 1168.9L324.0 1167.7L324.5 1166.4L325.0 1165.5L325.5 1164.4L326.0 1162.4L326.5 1160.7L327.0 1158.5L327.5 1156.1L328.0 1155.1L328.5 1151.9L329.0 1149.1L329.5 1145.9L330.0 1143.4L330.5 1142.7L331.0 1139.5L331.5 1138.9L332.0 1137.5L332.5 1137.9L333.0 1138.6L333.5 1139.0L334.0 1141.1L334.5 1143.8L335.0 1146.4L335.5 1148.6L336.0 1151.4L336.5 1154.4L337.0 1156.9L337.5 1158.6L338.0 1160.0L338.5 1162.5L339.0 1163.8L339.5 1165.6L340.0 1167.8L340.5 1167.6L341.0 1168.7L341.5 1168.7L342.0 1169.5L342.5 1169.9L343.0 1171.5L343.5 1170.7L344.0 1170.3L344.5 1171.8L345.0 1169.8L345.5 1171.0L346.0 1171.2L346.5 1171.3L347.0 1170.8L347.5 1170.9L348.0 1171.0L348.5 1171.9L349.0 1170.3L349.5 1171.6L350.0 1172.1L350.5 1171.8L351.0 1171.0L351.5 1172.1L352.0 1172.2L352.5 1173.3L353.0 1173.6L353.5 1172.8L354.0 1171.5L354.5 1172.8L355.0 1172.3L355.5 1173.4L356.0 1174.0L356.5 1172.9L357.0 1174.0L357.5 1173.7L358.0 1173.0L358.5 1172.3L359.0 1173.3L359.5 1172.3L360.0 1173.9L360.5 1173.7L361.0 1174.9L361.5 1174.6L362.0 1173.7L362.5 1175.7L363.0 1176.2L363.5 1176.7L364.0 1175.6L364.5 1175.6L365.0 1176.4L365.5 1175.8L366.0 1175.6L366.5 1175.5L367.0 1177.6L367.5 1175.6L368.0 1175.3L368.5 1175.6L369.0 1176.1L369.5 1176.7L370.0 1176.5L370.5 1176.5L371.0 1176.1L371.5 1176.5L372.0 1176.0L372.5 1175.5L373.0 1177.7L373.5 1176.1L374.0 1177.0L374.5 1176.1L375.0 1176.2L375.5 1176.5L376.0 1175.6L376.5 1176.2L377.0 1176.3L377.5 1176.5L378.0 1176.3L378.5 1176.5L379.0 1176.0L379.5 1175.6L380.0 1174.2L380.5 1174.9L381.0 1176.1L381.5 1175.4L382.0 1175.6L382.5 1175.0L383.0 1174.4L383.5 1176.0L384.0 1175.3L384.5 1175.9L385.0 1175.3L385.5 1174.8L386.0 1173.6L386.5 1174.8L387.0 1174.2L387.5 1174.1L388.0 1176.1L388.5 1175.7L389.0 1175.8L389.5 1175.2L390.0 1175.2L390.5 1175.3L391.0 1175.2L391.5 1174.8L392.0 1175.1L392.5 1173.1L393.0 1175.0L393.5 1174.0L394.0 1175.0L394.5 1174.9L395.0 1173.8L395.5 1174.8L396.0 1174.6L396.5 1173.9L397.0 1173.9L397.5 1174.4L398.0 1172.8L398.5 1174.1L399.0 1174.6L399.5 1174.1L400.0 1173.3L400.5 1174.2L401.0 1175.1L401.5 1175.0L402.0 1174.1L402.5 1173.6L403.0 1173.8L403.5 1173.7L404.0 1173.2L404.5 1173.5L405.0 1174.2L405.5 1174.5L406.0 1172.3L406.5 1174.3L407.0 1173.8L407.5 1174.5L408.0 1174.0L408.5 1174.3L409.0 1174.8L409.5 1171.9L410.0 1174.5L410.5 1173.7L411.0 1172.7L411.5 1172.4L412.0 1174.0L412.5 1173.1L413.0 1174.2L413.5 1174.0L414.0 1174.0L414.5 1174.8L415.0 1174.3L415.5 1174.4L416.0 1174.2L416.5 1173.9L417.0 1174.3L417.5 1174.6L418.0 1173.1L418.5 1173.5L419.0 1173.6L419.5 1173.3L420.0 1172.6L420.5 1173.1L421.0 1173.7L421.5 1173.3L422.0 1173.9L422.5 1172.7L423.0 1172.8L423.5 1172.7L424.0 1172.9L424.5 1172.6L425.0 1172.0L425.5 1173.4L426.0 1174.0L426.5 1174.3L427.0 1173.3L427.5 1174.1L428.0 1175.2L428.5 1174.4L429.0 1174.9L429.5 1174.6L430.0 1175.3L430.5 1175.2L431.0 1175.8L431.5 1174.4L432.0 1174.1L432.5 1172.9L433.0 1173.3L433.5 1173.0L434.0 1173.5L434.5 1172.7L435.0 1174.1L435.5 1172.7L436.0 1173.4L436.5 1172.5L437.0 1173.3L437.5 1174.2L438.0 1172.6L438.5 1172.9L439.0 1172.7L439.5 1173.1L440.0 1173.2L440.5 1172.6L441.0 1173.1L441.5 1173.2L442.0 1172.9L442.5 1172.5L443.0 1173.9L443.5 1173.0L444.0 1173.7L444.5 1173.7L445.0 1172.5L445.5 1173.6L446.0 1172.4L446.5 1173.2L447.0 1173.8L447.5 1172.5L448.0 1172.2L448.5 1172.1L449.0 1173.9L449.5 1172.6L450.0 1172.0L450.5 1173.2L451.0 1172.6L451.5 1172.7L452.0 1172.0L452.5 1171.5L453.0 1172.4L453.5 1172.4L454.0 1171.8L454.5 1172.0L455.0 1172.4L455.5 1173.5L456.0 1173.5L456.5 1173.4L457.0 1172.9L457.5 1172.4L458.0 1173.4L458.5 1173.6L459.0 1173.9L459.5 1173.3L460.0 1173.1L460.5 1173.4L461.0 1172.6L461.5 1172.6L462.0 1173.6L462.5 1172.3L463.0 1172.9L463.5 1173.8L464.0 1173.3L464.5 1173.3L465.0 1172.5L465.5 1173.2L466.0 1173.1L466.5 1173.4L467.0 1173.5L467.5 1173.3L468.0 1174.3L468.5 1173.5L469.0 1173.1L469.5 1172.7L470.0 1173.0L470.5 1172.7L471.0 1174.1L471.5 1173.3L472.0 1173.0L472.5 1172.7L473.0 1172.5L473.5 1173.2L474.0 1174.1L474.5 1173.7L475.0 1172.9L475.5 1173.1L476.0 1171.9L476.5 1173.3L477.0 1172.8L477.5 1173.3L478.0 1172.0L478.5 1172.1L479.0 1172.4L479.5 1171.9L480.0 1173.1L480.5 1172.4L481.0 1172.6L481.5 1172.2L482.0 1171.9L482.5 1172.4L483.0 1172.1L483.5 1173.1L484.0 1172.1L484.5 1172.4L485.0 1171.9L485.5 1171.9L486.0 1172.4L486.5 1173.5L487.0 1172.8L487.5 1173.3L488.0 1172.8L488.5 1172.8L489.0 1171.7L489.5 1173.2L490.0 1173.8L490.5 1172.2L491.0 1173.3L491.5 1172.9L492.0 1171.8L492.5 1172.4L493.0 1171.6L493.5 1172.1L494.0 1173.1L494.5 1172.4L495.0 1171.6L495.5 1172.8L496.0 1171.2L496.5 1172.0L497.0 1171.9L497.5 1171.9L498.0 1171.6L498.5 1171.0L499.0 1173.2L499.5 1171.6L500.0 1171.8L500.5 1171.1L501.0 1172.4L501.5 1173.1L502.0 1173.0L502.5 1173.6L503.0 1172.9L503.5 1172.2L504.0 1172.0L504.5 1172.9L505.0 1171.6L505.5 1171.7L506.0 1171.2L506.5 1171.9L507.0 1173.0L507.5 1171.6L508.0 1171.7L508.5 1170.0L509.0 1172.1L509.5 1171.8L510.0 1172.6L510.5 1171.8L511.0 1171.1L511.5 1170.8L512.0 1171.9L512.5 1171.7L513.0 1171.0L513.5 1171.4L514.0 1170.9L514.5 1171.7L515.0 1170.7L515.5 1170.1L516.0 1170.8L516.5 1170.5L517.0 1171.7L517.5 1170.6L518.0 1170.2L518.5 1171.0L519.0 1170.8L519.5 1171.5L520.0 1171.4L520.5 1170.6L521.0 1171.4L521.5 1171.3L522.0 1170.7L522.5 1170.8L523.0 1171.2L523.5 1170.0L524.0 1170.1L524.5 1170.4L525.0 1170.7L525.5 1170.8L526.0 1169.9L526.5 1170.9L527.0 1171.3L527.5 1171.9L528.0 1171.1L528.5 1171.1L529.0 1170.8L529.5 1172.1L530.0 1172.6L530.5 1171.4L531.0 1172.0L531.5 1172.3L532.0 1172.0L532.5 1171.0L533.0 1171.6L533.5 1171.2L534.0 1170.4L534.5 1171.2L535.0 1171.3L535.5 1170.6L536.0 1171.2L536.5 1172.6L537.0 1170.5L537.5 1171.6L538.0 1171.7L538.5 1171.5L539.0 1171.4L539.5 1170.9L540.0 1171.8L540.5 1170.6L541.0 1170.7L541.5 1169.6L542.0 1171.1L542.5 1171.5L543.0 1170.3L543.5 1170.6L544.0 1171.6L544.5 1170.9L545.0 1170.4L545.5 1169.8L546.0 1171.5L546.5 1172.4L547.0 1170.7L547.5 1171.0L548.0 1171.4L548.5 1171.0L549.0 1171.2L549.5 1171.4L550.0 1170.8L550.5 1172.8L551.0 1173.0L551.5 1171.6L552.0 1172.6L552.5 1171.1L553.0 1171.7L553.5 1172.4L554.0 1170.8L554.5 1170.6L555.0 1171.5L555.5 1170.2L556.0 1172.5L556.5 1171.8L557.0 1171.6L557.5 1171.5L558.0 1170.6L558.5 1170.6L559.0 1171.6L559.5 1171.7L560.0 1171.2L560.5 1171.1L561.0 1170.7L561.5 1171.7L562.0 1170.0L562.5 1170.3L563.0 1170.5L563.5 1170.2L564.0 1170.4L564.5 1170.6L565.0 1172.0L565.5 1172.4L566.0 1171.6L566.5 1170.6L567.0 1171.3L567.5 1171.6L568.0 1171.3L568.5 1171.2L569.0 1171.5L569.5 1169.8L570.0 1170.6L570.5 1170.9L571.0 1171.1L571.5 1170.7L572.0 1170.5L572.5 1170.6L573.0 1170.3L573.5 1170.8L574.0 1170.5L574.5 1170.3L575.0 1171.7L575.5 1171.9L576.0 1170.9L576.5 1171.3L577.0 1171.8L577.5 1171.2L578.0 1171.2L578.5 1171.4L579.0 1169.8L579.5 1170.0L580.0 1171.0L580.5 1171.0L581.0 1172.0L581.5 1170.6L582.0 1171.3L582.5 1171.3L583.0 1171.9L583.5 1170.4L584.0 1170.4L584.5 1170.5L585.0 1170.5L585.5 1169.7L586.0 1170.1L586.5 1169.9L587.0 1172.0L587.5 1170.4L588.0 1170.6L588.5 1170.3L589.0 1170.9L589.5 1171.4L590.0 1170.6L590.5 1170.9L591.0 1172.3L591.5 1171.5L592.0 1171.2L592.5 1170.9L593.0 1171.2L593.5 1170.8L594.0 1171.4L594.5 1170.8L595.0 1170.8L595.5 1170.9L596.0 1170.7L596.5 1171.4L597.0 1172.6L597.5 1170.7L598.0 1170.0L598.5 1171.6L599.0 1171.0L599.5 1172.5L600.0 1171.5L600.5 1171.6L601.0 1170.8L601.5 1170.2L602.0 1171.2L602.5 1172.0L603.0 1171.0L603.5 1170.5L604.0 1170.8L604.5 1171.1L605.0 1171.2L605.5 1171.3L606.0 1172.9L606.5 1171.4L607.0 1170.8L607.5 1170.6L608.0 1171.9L608.5 1170.5L609.0 1172.3L609.5 1171.4L610.0 1170.7L610.5 1171.9L611.0 1171.8L611.5 1172.5L612.0 1170.9L612.5 1171.9L613.0 1171.7L613.5 1172.3L614.0 1171.2L614.5 1171.4L615.0 1173.0L615.5 1172.2L616.0 1171.1L616.5 1172.1L617.0 1171.4L617.5 1171.4L618.0 1171.0L618.5 1172.2L619.0 1171.3L619.5 1171.6L620.0 1171.2L620.5 1170.1L621.0 1170.6L621.5 1171.4L622.0 1170.0L622.5 1170.9L623.0 1170.4L623.5 1170.9L624.0 1170.8L624.5 1171.0L625.0 1170.7L625.5 1170.7L626.0 1170.2L626.5 1170.2L627.0 1171.1L627.5 1170.4L628.0 1170.9L628.5 1171.1L629.0 1169.9L629.5 1170.3L630.0 1169.5L630.5 1170.1L631.0 1169.3L631.5 1170.0L632.0 1169.5L632.5 1168.6L633.0 1170.4L633.5 1169.5L634.0 1167.8L634.5 1168.7L635.0 1168.0L635.5 1169.3L636.0 1167.7L636.5 1167.8L637.0 1167.2L637.5 1167.2L638.0 1166.3L638.5 1165.6L639.0 1165.1L639.5 1164.4L640.0 1164.3L640.5 1163.3L641.0 1162.2L641.5 1161.4L642.0 1159.9L642.5 1159.2L643.0 1156.4L643.5 1156.0L644.0 1155.1L644.5 1152.2L645.0 1149.4L645.5 1146.9L646.0 1143.1L646.5 1139.5L647.0 1136.4L647.5 1131.3L648.0 1127.9L648.5 1121.4L649.0 1115.0L649.5 1108.5L650.0 1101.9L650.5 1093.4L651.0 1087.7L651.5 1080.7L652.0 1073.2L652.5 1065.8L653.0 1060.6L653.5 1055.6L654.0 1051.4L654.5 1049.7L655.0 1049.9L655.5 1051.1L656.0 1053.5L656.5 1058.6L657.0 1064.7L657.5 1070.2L658.0 1078.5L658.5 1085.8L659.0 1092.1L659.5 1099.7L660.0 1109.0L660.5 1114.7L661.0 1121.2L661.5 1125.6L662.0 1131.7L662.5 1135.6L663.0 1139.0L663.5 1143.3L664.0 1147.5L664.5 1150.8L665.0 1152.3L665.5 1154.0L666.0 1156.1L666.5 1158.6L667.0 1160.2L667.5 1161.0L668.0 1161.9L668.5 1163.2L669.0 1163.8L669.5 1164.5L670.0 1164.1L670.5 1165.3L671.0 1167.2L671.5 1166.6L672.0 1168.4L672.5 1167.6L673.0 1167.5L673.5 1168.1L674.0 1168.4L674.5 1167.9L675.0 1168.7L675.5 1168.5L676.0 1169.9L676.5 1168.7L677.0 1169.1L677.5 1168.4L678.0 1168.8L678.5 1169.5L679.0 1169.2L679.5 1169.8L680.0 1170.2L680.5 1170.4L681.0 1169.5L681.5 1170.3L682.0 1170.9L682.5 1170.2L683.0 1170.2L683.5 1170.4L684.0 1171.7L684.5 1171.0L685.0 1171.9L685.5 1170.7L686.0 1171.6L686.5 1170.0L687.0 1170.7L687.5 1171.0L688.0 1172.0L688.5 1171.5L689.0 1171.7L689.5 1171.0L690.0 1171.2L690.5 1172.7L691.0 1173.0L691.5 1172.9L692.0 1172.9L692.5 1172.0L693.0 1173.6L693.5 1172.7L694.0 1173.4L694.5 1173.0L695.0 1171.4L695.5 1171.3L696.0 1171.7L696.5 1172.8L697.0 1173.4L697.5 1172.5L698.0 1173.2L698.5 1171.8L699.0 1172.4L699.5 1172.2L700.0 1172.7L700.5 1171.8L701.0 1172.4L701.5 1172.8L702.0 1172.2L702.5 1171.9L703.0 1172.2L703.5 1171.6L704.0 1171.6L704.5 1172.9L705.0 1172.5L705.5 1171.5L706.0 1172.5L706.5 1173.1L707.0 1173.3L707.5 1173.4L708.0 1173.6L708.5 1172.9L709.0 1172.8L709.5 1172.8L710.0 1173.8L710.5 1173.5L711.0 1173.9L711.5 1173.5L712.0 1172.2L712.5 1171.8L713.0 1172.0L713.5 1172.3L714.0 1172.9L714.5 1171.6L715.0 1171.2L715.5 1172.3L716.0 1173.0L716.5 1173.0L717.0 1173.7L717.5 1172.7L718.0 1172.7L718.5 1172.9L719.0 1172.3L719.5 1172.7L720.0 1173.9L720.5 1174.3L721.0 1173.7L721.5 1173.0L722.0 1172.6L722.5 1172.3L723.0 1171.0L723.5 1172.0L724.0 1172.2L724.5 1171.7L725.0 1171.3L725.5 1169.9L726.0 1170.5L726.5 1169.7L727.0 1166.8L727.5 1167.2L728.0 1167.0L728.5 1166.9L729.0 1164.9L729.5 1165.7L730.0 1167.0L730.5 1167.6L731.0 1168.0L731.5 1168.6L732.0 1169.8L732.5 1170.1L733.0 1171.7L733.5 1170.9L734.0 1171.9L734.5 1172.4L735.0 1172.8L735.5 1172.2L736.0 1172.3L736.5 1172.5L737.0 1172.3L737.5 1172.9L738.0 1172.2L738.5 1173.3L739.0 1173.7L739.5 1171.4L740.0 1172.1L740.5 1171.3L741.0 1172.3L741.5 1172.0L742.0 1171.6L742.5 1171.1L743.0 1171.9L743.5 1173.1L744.0 1172.8L744.5 1172.0L745.0 1171.4L745.5 1171.7L746.0 1171.0L746.5 1170.7L747.0 1171.0L747.5 1171.6L748.0 1171.3L748.5 1171.3L749.0 1170.6L749.5 1170.5L750.0 1172.2L750.5 1171.4L751.0 1172.4L751.5 1171.2L752.0 1172.4L752.5 1171.8L753.0 1171.5L753.5 1171.4L754.0 1172.9L754.5 1172.3L755.0 1171.6L755.5 1171.9L756.0 1171.1L756.5 1173.1L757.0 1173.1L757.5 1171.9L758.0 1172.3L758.5 1170.4L759.0 1172.8L759.5 1172.6L760.0 1172.5L760.5 1172.5L761.0 1172.0L761.5 1171.2L762.0 1171.2L762.5 1171.3L763.0 1171.6L763.5 1170.9L764.0 1170.0L764.5 1170.1L765.0 1168.9L765.5 1170.5L766.0 1169.1L766.5 1168.0L767.0 1168.4L767.5 1168.7L768.0 1168.0L768.5 1168.9L769.0 1166.9L769.5 1168.3L770.0 1167.1L770.5 1167.2L771.0 1167.3L771.5 1165.2L772.0 1164.4L772.5 1164.5L773.0 1163.1L773.5 1162.1L774.0 1163.1L774.5 1163.1L775.0 1161.4L775.5 1161.4L776.0 1162.8L776.5 1160.3L777.0 1159.3L777.5 1158.7L778.0 1158.4L778.5 1157.0L779.0 1156.7L779.5 1155.4L780.0 1154.8L780.5 1153.0L781.0 1151.7L781.5 1149.9L782.0 1148.2L782.5 1147.3L783.0 1145.6L783.5 1144.3L784.0 1142.3L784.5 1140.0L785.0 1139.1L785.5 1135.2L786.0 1132.4L786.5 1127.7L787.0 1125.3L787.5 1121.2L788.0 1116.1L788.5 1109.8L789.0 1105.2L789.5 1097.1L790.0 1089.1L790.5 1080.7L791.0 1072.2L791.5 1061.5L792.0 1050.7L792.5 1037.9L793.0 1024.7L793.5 1008.9L794.0 992.9L794.5 975.4L795.0 956.7L795.5 937.2L796.0 916.8L796.5 896.4L797.0 874.8L797.5 854.4L798.0 834.8L798.5 813.8L799.0 798.2L799.5 784.3L800.0 774.5L800.5 767.7L801.0 767.1L801.5 771.8L802.0 777.2L802.5 789.6L803.0 804.8L803.5 822.1L804.0 840.9L804.5 862.8L805.0 882.3L805.5 903.8L806.0 924.9L806.5 944.7L807.0 965.2L807.5 982.3L808.0 1000.4L808.5 1015.0L809.0 1030.5L809.5 1042.8L810.0 1054.5L810.5 1065.5L811.0 1076.1L811.5 1084.0L812.0 1092.2L812.5 1098.7L813.0 1104.0L813.5 1111.3L814.0 1116.3L814.5 1119.6L815.0 1124.5L815.5 1127.5L816.0 1129.5L816.5 1133.1L817.0 1136.8L817.5 1139.2L818.0 1140.9L818.5 1144.0L819.0 1144.5L819.5 1145.2L820.0 1146.4L820.5 1149.3L821.0 1148.8L821.5 1149.9L822.0 1150.7L822.5 1151.4L823.0 1152.8L823.5 1153.7L824.0 1154.5L824.5 1154.7L825.0 1155.5L825.5 1155.2L826.0 1155.2L826.5 1156.2L827.0 1155.1L827.5 1156.5L828.0 1155.9L828.5 1155.4L829.0 1153.7L829.5 1153.1L830.0 1152.3L830.5 1150.1L831.0 1147.9L831.5 1146.4L832.0 1144.5L832.5 1141.7L833.0 1140.4L833.5 1138.8L834.0 1135.7L834.5 1133.8L835.0 1133.1L835.5 1134.4L836.0 1134.4L836.5 1136.3L837.0 1138.4L837.5 1140.6L838.0 1144.8L838.5 1146.7L839.0 1149.5L839.5 1150.6L840.0 1155.5L840.5 1156.8L841.0 1158.1L841.5 1159.3L842.0 1160.7L842.5 1161.3L843.0 1163.6L843.5 1163.5L844.0 1164.9L844.5 1165.7L845.0 1167.2L845.5 1166.7L846.0 1167.1L846.5 1167.7L847.0 1167.4L847.5 1167.8L848.0 1168.5L848.5 1169.3L849.0 1169.1L849.5 1168.5L850.0 1169.3L850.5 1168.6L851.0 1167.8L851.5 1169.6L852.0 1169.0L852.5 1168.9L853.0 1168.6L853.5 1169.1L854.0 1170.5L854.5 1169.7L855.0 1171.2L855.5 1170.2L856.0 1171.0L856.5 1170.4L857.0 1170.0L857.5 1170.0L858.0 1170.4L858.5 1169.9L859.0 1169.7L859.5 1170.2L860.0 1170.5L860.5 1169.8L861.0 1169.6L861.5 1169.5L862.0 1170.8L862.5 1170.8L863.0 1169.6L863.5 1170.5L864.0 1170.7L864.5 1170.1L865.0 1172.1L865.5 1171.8L866.0 1171.0L866.5 1171.6L867.0 1170.3L867.5 1170.5L868.0 1171.1L868.5 1169.9L869.0 1170.6L869.5 1169.8L870.0 1170.7L870.5 1171.1L871.0 1169.8L871.5 1169.9L872.0 1170.3L872.5 1171.3L873.0 1170.5L873.5 1169.9L874.0 1170.7L874.5 1171.4L875.0 1170.2L875.5 1170.8L876.0 1171.8L876.5 1171.2L877.0 1171.1L877.5 1171.6L878.0 1170.6L878.5 1172.3L879.0 1171.3L879.5 1170.5L880.0 1170.9L880.5 1170.5L881.0 1170.4L881.5 1170.0L882.0 1170.5L882.5 1169.6L883.0 1171.8L883.5 1170.4L884.0 1170.8L884.5 1170.8L885.0 1172.1L885.5 1171.5L886.0 1172.3L886.5 1171.3L887.0 1171.6L887.5 1171.3L888.0 1171.0L888.5 1171.8L889.0 1171.9L889.5 1171.8L890.0 1170.4L890.5 1171.5L891.0 1170.7L891.5 1171.1L892.0 1170.5L892.5 1171.1L893.0 1172.2L893.5 1172.8L894.0 1172.8L894.5 1171.1L895.0 1171.4L895.5 1171.6L896.0 1171.3L896.5 1171.3L897.0 1169.9L897.5 1170.8L898.0 1171.2L898.5 1171.2L899.0 1170.8L899.5 1170.4L900.0 1170.9L900.5 1171.9L901.0 1171.4L901.5 1171.8L902.0 1172.3L902.5 1170.7L903.0 1171.7L903.5 1171.7L904.0 1172.2L904.5 1171.3L905.0 1171.4L905.5 1171.3L906.0 1171.8L906.5 1171.3L907.0 1171.1L907.5 1171.4L908.0 1170.9L908.5 1170.6L909.0 1171.0L909.5 1170.7L910.0 1171.0L910.5 1171.6L911.0 1170.8L911.5 1169.8L912.0 1171.8L912.5 1171.6L913.0 1171.0L913.5 1171.6L914.0 1173.1L914.5 1171.1L915.0 1171.3L915.5 1171.9L916.0 1170.1L916.5 1171.5L917.0 1172.3L917.5 1172.2L918.0 1171.9L918.5 1171.5L919.0 1171.7L919.5 1173.3L920.0 1171.8L920.5 1172.5L921.0 1171.2L921.5 1172.1L922.0 1172.5L922.5 1172.2L923.0 1170.7L923.5 1171.9L924.0 1173.2L924.5 1172.6L925.0 1171.7L925.5 1172.5L926.0 1170.8L926.5 1171.9L927.0 1171.8L927.5 1171.4L928.0 1170.9L928.5 1170.4L929.0 1171.4L929.5 1172.5L930.0 1171.8L930.5 1171.6L931.0 1171.9L931.5 1170.9L932.0 1171.4L932.5 1169.6L933.0 1171.2L933.5 1171.1L934.0 1171.5L934.5 1171.5L935.0 1171.9L935.5 1171.1L936.0 1172.2L936.5 1171.6L937.0 1172.1L937.5 1171.6L938.0 1172.1L938.5 1171.8L939.0 1171.2L939.5 1171.4L940.0 1170.6L940.5 1171.5L941.0 1171.7L941.5 1171.3L942.0 1171.4L942.5 1172.1L943.0 1172.3L943.5 1172.4L944.0 1171.3L944.5 1171.3L945.0 1172.1L945.5 1172.0L946.0 1170.4L946.5 1172.6L947.0 1172.0L947.5 1170.2L948.0 1171.9L948.5 1170.9L949.0 1171.1L949.5 1170.5L950.0 1170.6L950.5 1170.8L951.0 1171.2L951.5 1170.1L952.0 1170.9L952.5 1170.4L953.0 1170.7L953.5 1170.4L954.0 1170.5L954.5 1172.0L955.0 1170.5L955.5 1170.6L956.0 1171.6L956.5 1171.3L957.0 1171.1L957.5 1171.9L958.0 1170.8L958.5 1171.6L959.0 1172.0L959.5 1171.7L960.0 1171.1L960.5 1171.4L961.0 1171.8L961.5 1172.1L962.0 1171.4L962.5 1172.9L963.0 1172.8L963.5 1173.4L964.0 1172.6L964.5 1173.1L965.0 1170.5L965.5 1171.9L966.0 1173.1L966.5 1172.1L967.0 1171.6L967.5 1171.8L968.0 1171.6L968.5 1171.8L969.0 1170.9L969.5 1171.8L970.0 1172.3L970.5 1171.7L971.0 1171.9L971.5 1171.0L972.0 1172.0L972.5 1171.4L973.0 1170.8L973.5 1171.3L974.0 1171.2L974.5 1171.5L975.0 1171.5L975.5 1170.5L976.0 1170.3L976.5 1170.6L977.0 1169.4L977.5 1169.6L978.0 1169.4L978.5 1169.6L979.0 1169.3L979.5 1170.5L980.0 1169.6L980.5 1168.7L981.0 1167.7L981.5 1168.0L982.0 1168.5L982.5 1166.5L983.0 1168.7L983.5 1166.8L984.0 1166.3L984.5 1166.6L985.0 1165.0L985.5 1165.5L986.0 1164.8L986.5 1164.7L987.0 1163.1L987.5 1163.3L988.0 1162.9L988.5 1161.6L989.0 1160.0L989.5 1158.4L990.0 1155.8L990.5 1154.4L991.0 1152.2L991.5 1148.9L992.0 1144.0L992.5 1138.1L993.0 1129.8L993.5 1121.4L994.0 1110.9L994.5 1100.2L995.0 1087.1L995.5 1073.9L996.0 1060.4L996.5 1046.4L997.0 1034.0L997.5 1024.9L998.0 1019.3L998.5 1017.5L999.0 1018.4L999.5 1026.6L1000.0 1033.8L1000.5 1042.8L1001.0 1052.5L1001.5 1061.5L1002.0 1066.1L1002.5 1073.7L1003.0 1076.1L1003.5 1077.6L1004.0 1076.1L1004.5 1074.6L1005.0 1071.0L1005.5 1068.2L1006.0 1062.5L1006.5 1058.7L1007.0 1053.3L1007.5 1048.8L1008.0 1047.5L1008.5 1046.0L1009.0 1046.1L1009.5 1046.3L1010.0 1049.6L1010.5 1054.5L1011.0 1059.8L1011.5 1066.4L1012.0 1075.0L1012.5 1080.9L1013.0 1089.5L1013.5 1096.2L1014.0 1104.9L1014.5 1111.1L1015.0 1117.1L1015.5 1124.4L1016.0 1129.6L1016.5 1134.3L1017.0 1138.8L1017.5 1142.7L1018.0 1146.9L1018.5 1150.0L1019.0 1153.8L1019.5 1154.9L1020.0 1158.1L1020.5 1159.3L1021.0 1159.6L1021.5 1162.9L1022.0 1162.2L1022.5 1164.8L1023.0 1164.4L1023.5 1166.2L1024.0 1166.2L1024.5 1167.0L1025.0 1166.5L1025.5 1167.8L1026.0 1169.3L1026.5 1169.4L1027.0 1169.2L1027.5 1169.3L1028.0 1169.2L1028.5 1171.0L1029.0 1170.4L1029.5 1171.2L1030.0 1170.1L1030.5 1170.2L1031.0 1172.0L1031.5 1170.7L1032.0 1171.2L1032.5 1171.7L1033.0 1172.1L1033.5 1172.1L1034.0 1172.3L1034.5 1173.0L1035.0 1172.0L1035.5 1172.7L1036.0 1172.0L1036.5 1172.3L1037.0 1173.5L1037.5 1172.2L1038.0 1170.8L1038.5 1172.5L1039.0 1172.5L1039.5 1173.7L1040.0 1172.3L1040.5 1172.1L1041.0 1173.0L1041.5 1174.2L1042.0 1172.9L1042.5 1173.9L1043.0 1173.4L1043.5 1173.7L1044.0 1172.9L1044.5 1173.4L1045.0 1172.6L1045.5 1173.1L1046.0 1172.7L1046.5 1173.8L1047.0 1172.9L1047.5 1173.3L1048.0 1172.1L1048.5 1172.9L1049.0 1175.1L1049.5 1173.5L1050.0 1172.8L1050.5 1173.8L1051.0 1173.7L1051.5 1173.4L1052.0 1173.4L1052.5 1173.4L1053.0 1174.5L1053.5 1173.1L1054.0 1174.2L1054.5 1174.4L1055.0 1173.5L1055.5 1175.4L1056.0 1174.1L1056.5 1174.0L1057.0 1173.6L1057.5 1174.1L1058.0 1172.7L1058.5 1173.8L1059.0 1174.6L1059.5 1173.5L1060.0 1173.8L1060.5 1172.8L1061.0 1173.7L1061.5 1172.8L1062.0 1173.1L1062.5 1173.5L1063.0 1175.0L1063.5 1173.8L1064.0 1173.1L1064.5 1174.3L1065.0 1174.7L1065.5 1174.7L1066.0 1174.2L1066.5 1174.6L1067.0 1174.2L1067.5 1174.0L1068.0 1173.0L1068.5 1172.1L1069.0 1174.2L1069.5 1172.7L1070.0 1173.9L1070.5 1173.9L1071.0 1172.5L1071.5 1172.9L1072.0 1173.5L1072.5 1174.1L1073.0 1173.1L1073.5 1173.3L1074.0 1172.9L1074.5 1172.9L1075.0 1173.9L1075.5 1173.7L1076.0 1172.9L1076.5 1174.6L1077.0 1173.8L1077.5 1173.6L1078.0 1173.6L1078.5 1174.8L1079.0 1174.6L1079.5 1174.2L1080.0 1174.0L1080.5 1174.2L1081.0 1174.4L1081.5 1173.5L1082.0 1173.7L1082.5 1172.9L1083.0 1173.5L1083.5 1173.0L1084.0 1172.7L1084.5 1173.7L1085.0 1172.9L1085.5 1172.7L1086.0 1172.9L1086.5 1172.9L1087.0 1172.6L1087.5 1174.1L1088.0 1173.3L1088.5 1172.2L1089.0 1174.0L1089.5 1173.0L1090.0 1173.3L1090.5 1173.0L1091.0 1173.6L1091.5 1173.6L1092.0 1174.0L1092.5 1174.2L1093.0 1172.4L1093.5 1173.6L1094.0 1173.8L1094.5 1174.0L1095.0 1173.2L1095.5 1173.8L1096.0 1174.0L1096.5 1172.7L1097.0 1173.3L1097.5 1174.3L1098.0 1173.0L1098.5 1173.2L1099.0 1173.3L1099.5 1173.5L1100.0 1173.8L1100.5 1174.0L1101.0 1173.8L1101.5 1173.8L1102.0 1173.2L1102.5 1173.8L1103.0 1173.6L1103.5 1174.1L1104.0 1173.9L1104.5 1172.6L1105.0 1171.9L1105.5 1173.3L1106.0 1172.8L1106.5 1172.2L1107.0 1173.5L1107.5 1173.9L1108.0 1172.2L1108.5 1172.4L1109.0 1172.1L1109.5 1172.1L1110.0 1172.6L1110.5 1172.0L1111.0 1172.6L1111.5 1172.7L1112.0 1173.3L1112.5 1172.8L1113.0 1173.3L1113.5 1173.7L1114.0 1173.1L1114.5 1173.2L1115.0 1172.4L1115.5 1172.8L1116.0 1173.9L1116.5 1173.5L1117.0 1172.5L1117.5 1172.3L1118.0 1172.6L1118.5 1173.5L1119.0 1171.5L1119.5 1172.7L1120.0 1171.6L1120.5 1173.2L1121.0 1171.5L1121.5 1173.0L1122.0 1172.2L1122.5 1172.4L1123.0 1173.4L1123.5 1172.4L1124.0 1172.9L1124.5 1172.8L1125.0 1171.9L1125.5 1172.7L1126.0 1173.2L1126.5 1172.9L1127.0 1172.7L1127.5 1171.9L1128.0 1173.1L1128.5 1171.8L1129.0 1173.4L1129.5 1172.6L1130.0 1172.8L1130.5 1171.4L1131.0 1172.5L1131.5 1171.9L1132.0 1172.7L1132.5 1173.3L1133.0 1172.8L1133.5 1172.6L1134.0 1173.1L1134.5 1171.8L1135.0 1173.0L1135.5 1172.5L1136.0 1173.4L1136.5 1172.4L1137.0 1174.0L1137.5 1174.2L1138.0 1171.6L1138.5 1172.6L1139.0 1171.6L1139.5 1173.0L1140.0 1171.8L1140.5 1172.9L1141.0 1172.6L1141.5 1171.6L1142.0 1171.1L1142.5 1172.7L1143.0 1171.7L1143.5 1172.3L1144.0 1172.7L1144.5 1171.7L1145.0 1171.1L1145.5 1170.7L1146.0 1171.8L1146.5 1171.2L1147.0 1170.6L1147.5 1171.4L1148.0 1171.3L1148.5 1170.9L1149.0 1171.8L1149.5 1172.6L1150.0 1172.4L1150.5 1173.2L1151.0 1172.5L1151.5 1171.9L1152.0 1170.4L1152.5 1171.7L1153.0 1172.2L1153.5 1171.4L1154.0 1172.4L1154.5 1170.9L1155.0 1171.6L1155.5 1171.9L1156.0 1172.6L1156.5 1171.3L1157.0 1172.5L1157.5 1171.3L1158.0 1170.5L1158.5 1171.7L1159.0 1172.8L1159.5 1171.8L1160.0 1173.0L1160.5 1171.7L1161.0 1173.4L1161.5 1170.9L1162.0 1173.7L1162.5 1170.9L1163.0 1172.1L1163.5 1171.2L1164.0 1172.2L1164.5 1171.9L1165.0 1171.8L1165.5 1172.1L1166.0 1172.3L1166.5 1171.6L1167.0 1172.4L1167.5 1170.6L1168.0 1171.1L1168.5 1170.8L1169.0 1172.0L1169.5 1172.4L1170.0 1171.5L1170.5 1171.3L1171.0 1170.9L1171.5 1172.0L1172.0 1172.0L1172.5 1170.7L1173.0 1170.9L1173.5 1170.6L1174.0 1170.8L1174.5 1171.2L1175.0 1169.6L1175.5 1170.8L1176.0 1171.8L1176.5 1170.8L1177.0 1172.3L1177.5 1172.6L1178.0 1171.4L1178.5 1171.3L1179.0 1172.6L1179.5 1170.5L1180.0 1170.7L1180.5 1170.1L1181.0 1171.0L1181.5 1171.0L1182.0 1170.8L1182.5 1170.4L1183.0 1169.4L1183.5 1170.7L1184.0 1170.2L1184.5 1169.9L1185.0 1171.5L1185.5 1170.5L1186.0 1170.7L1186.5 1171.0L1187.0 1172.0L1187.5 1170.7L1188.0 1171.6L1188.5 1169.6L1189.0 1170.3L1189.5 1171.8L1190.0 1171.7L1190.5 1170.5L1191.0 1170.1L1191.5 1169.7L1192.0 1169.7L1192.5 1169.9L1193.0 1169.3L1193.5 1170.5L1194.0 1170.7L1194.5 1170.1L1195.0 1170.1L1195.5 1170.1L1196.0 1170.5L1196.5 1170.8L1197.0 1171.1L1197.5 1169.4L1198.0 1170.4L1198.5 1170.7L1199.0 1171.1L1199.5 1171.3L1200.0 1170.6L1200.5 1171.5L1201.0 1172.2L1201.5 1171.2L1202.0 1172.2L1202.5 1171.8L1203.0 1171.3L1203.5 1170.8L1204.0 1171.1L1204.5 1172.1L1205.0 1171.0L1205.5 1170.3L1206.0 1170.7L1206.5 1171.2L1207.0 1170.2L1207.5 1171.1L1208.0 1171.1L1208.5 1170.6L1209.0 1171.5L1209.5 1169.6L1210.0 1170.0L1210.5 1170.3L1211.0 1170.6L1211.5 1169.6L1212.0 1170.3L1212.5 1171.4L1213.0 1170.4L1213.5 1171.2L1214.0 1170.8L1214.5 1170.5L1215.0 1170.9L1215.5 1171.7L1216.0 1170.9L1216.5 1169.9L1217.0 1170.0L1217.5 1170.4L1218.0 1170.5L1218.5 1170.1L1219.0 1170.9L1219.5 1169.8L1220.0 1171.0L1220.5 1169.7L1221.0 1169.9L1221.5 1171.3L1222.0 1170.9L1222.5 1170.5L1223.0 1170.5L1223.5 1171.0L1224.0 1171.1L1224.5 1171.2L1225.0 1171.5L1225.5 1170.4L1226.0 1170.7L1226.5 1171.0L1227.0 1170.2L1227.5 1171.6L1228.0 1171.9L1228.5 1171.1L1229.0 1170.0L1229.5 1170.6L1230.0 1171.5L1230.5 1169.5L1231.0 1169.2L1231.5 1169.9L1232.0 1170.4L1232.5 1170.5L1233.0 1170.4L1233.5 1168.3L1234.0 1169.3L1234.5 1169.3L1235.0 1169.3L1235.5 1170.6L1236.0 1170.3L1236.5 1169.6L1237.0 1170.1L1237.5 1170.1L1238.0 1170.8L1238.5 1169.8L1239.0 1170.5L1239.5 1169.6L1240.0 1169.9L1240.5 1169.8L1241.0 1169.9L1241.5 1169.8L1242.0 1170.7L1242.5 1169.4L1243.0 1169.4L1243.5 1169.5L1244.0 1170.3L1244.5 1170.8L1245.0 1170.4L1245.5 1170.0L1246.0 1170.4L1246.5 1170.3L1247.0 1171.0L1247.5 1170.7L1248.0 1170.8L1248.5 1170.4L1249.0 1170.2L1249.5 1170.9L1250.0 1170.0L1250.5 1170.5L1251.0 1170.5L1251.5 1169.7L1252.0 1170.9L1252.5 1170.0L1253.0 1169.7L1253.5 1171.0L1254.0 1170.5L1254.5 1170.6L1255.0 1170.0L1255.5 1169.9L1256.0 1170.1L1256.5 1169.4L1257.0 1170.4L1257.5 1170.2L1258.0 1170.6L1258.5 1169.9L1259.0 1170.2L1259.5 1169.1L1260.0 1169.4L1260.5 1170.3L1261.0 1170.8L1261.5 1170.5L1262.0 1169.1L1262.5 1169.4L1263.0 1169.7L1263.5 1170.7L1264.0 1169.6L1264.5 1170.0L1265.0 1170.2L1265.5 1170.1L1266.0 1169.7L1266.5 1169.8L1267.0 1170.2L1267.5 1169.7L1268.0 1169.6L1268.5 1170.1L1269.0 1170.5L1269.5 1171.1L1270.0 1168.9L1270.5 1169.5L1271.0 1169.3L1271.5 1168.5L1272.0 1168.9L1272.5 1168.7L1273.0 1168.2L1273.5 1168.2L1274.0 1169.0L1274.5 1167.7L1275.0 1167.9L1275.5 1168.0L1276.0 1167.1L1276.5 1166.9L1277.0 1166.6L1277.5 1166.8L1278.0 1167.8L1278.5 1165.5L1279.0 1166.8L1279.5 1165.0L1280.0 1164.4L1280.5 1165.2L1281.0 1164.2L1281.5 1163.4L1282.0 1162.2L1282.5 1161.8L1283.0 1159.8L1283.5 1159.4L1284.0 1159.1L1284.5 1157.4L1285.0 1155.8L1285.5 1156.3L1286.0 1154.1L1286.5 1152.4L1287.0 1152.1L1287.5 1151.3L1288.0 1149.6L1288.5 1147.3L1289.0 1146.9L1289.5 1146.0L1290.0 1145.2L1290.5 1143.2L1291.0 1142.8L1291.5 1143.4L1292.0 1143.0L1292.5 1142.9L1293.0 1143.2L1293.5 1142.1L1294.0 1142.3L1294.5 1143.0L1295.0 1144.6L1295.5 1144.5L1296.0 1145.9L1296.5 1145.0L1297.0 1147.5L1297.5 1149.1L1298.0 1150.5L1298.5 1150.3L1299.0 1153.1L1299.5 1152.7L1300.0 1154.8L1300.5 1155.9L1301.0 1155.8L1301.5 1156.3L1302.0 1159.2L1302.5 1159.2L1303.0 1159.2L1303.5 1160.8L1304.0 1160.8L1304.5 1162.4L1305.0 1162.4L1305.5 1162.3L1306.0 1164.7L1306.5 1164.4L1307.0 1164.9L1307.5 1165.4L1308.0 1165.6L1308.5 1165.3L1309.0 1165.9L1309.5 1166.3L1310.0 1166.1L1310.5 1166.0L1311.0 1166.4L1311.5 1167.6L1312.0 1167.7L1312.5 1167.0L1313.0 1168.2L1313.5 1168.6L1314.0 1168.6L1314.5 1168.7L1315.0 1169.0L1315.5 1168.5L1316.0 1169.1L1316.5 1169.1L1317.0 1169.3L1317.5 1169.1L1318.0 1168.9L1318.5 1168.2L1319.0 1167.8L1319.5 1168.5L1320.0 1168.3L1320.5 1169.0L1321.0 1168.3L1321.5 1168.2L1322.0 1167.6L1322.5 1168.4L1323.0 1168.3L1323.5 1169.1L1324.0 1168.4L1324.5 1169.1L1325.0 1167.8L1325.5 1167.5L1326.0 1169.2L1326.5 1168.7L1327.0 1169.3L1327.5 1168.0L1328.0 1167.5L1328.5 1169.5L1329.0 1168.8L1329.5 1168.3L1330.0 1169.6L1330.5 1168.6L1331.0 1168.3L1331.5 1169.0L1332.0 1168.5L1332.5 1168.3L1333.0 1169.0L1333.5 1168.8L1334.0 1168.6L1334.5 1168.7L1335.0 1167.9L1335.5 1169.1L1336.0 1169.7L1336.5 1168.6L1337.0 1169.3L1337.5 1169.9L1338.0 1168.6L1338.5 1168.1L1339.0 1168.0L1339.5 1168.2L1340.0 1168.9L1340.5 1168.5L1341.0 1169.5L1341.5 1168.3L1342.0 1169.3L1342.5 1168.0L1343.0 1168.4L1343.5 1168.5L1344.0 1168.2L1344.5 1168.3L1345.0 1168.8L1345.5 1168.2L1346.0 1168.3L1346.5 1167.9L1347.0 1168.0L1347.5 1167.5L1348.0 1168.7L1348.5 1167.6L1349.0 1168.4L1349.5 1168.0L1350.0 1168.1L1350.5 1168.0L1351.0 1168.4L1351.5 1168.6L1352.0 1169.3L1352.5 1168.3L1353.0 1168.4L1353.5 1167.7L1354.0 1169.7L1354.5 1168.0L1355.0 1168.9L1355.5 1168.7L1356.0 1167.2L1356.5 1167.6L1357.0 1168.3L1357.5 1167.8L1358.0 1166.9L1358.5 1167.5L1359.0 1168.1L1359.5 1167.2L1360.0 1167.4L1360.5 1167.6L1361.0 1168.0L1361.5 1166.5L1362.0 1165.8L1362.5 1166.2L1363.0 1165.8L1363.5 1165.2L1364.0 1165.8L1364.5 1165.0L1365.0 1165.9L1365.5 1164.7L1366.0 1163.1L1366.5 1163.5L1367.0 1163.9L1367.5 1162.7L1368.0 1162.2L1368.5 1161.8L1369.0 1161.1L1369.5 1161.4L1370.0 1159.8L1370.5 1158.7L1371.0 1159.2L1371.5 1157.1L1372.0 1156.9L1372.5 1154.8L1373.0 1153.9L1373.5 1152.3L1374.0 1150.3L1374.5 1149.3L1375.0 1148.5L1375.5 1145.0L1376.0 1145.0L1376.5 1142.4L1377.0 1140.9L1377.5 1137.3L1378.0 1135.8L1378.5 1132.7L1379.0 1131.1L1379.5 1126.7L1380.0 1124.7L1380.5 1120.4L1381.0 1118.3L1381.5 1114.0L1382.0 1110.4L1382.5 1106.8L1383.0 1104.1L1383.5 1102.1L1384.0 1097.2L1384.5 1094.4L1385.0 1091.7L1385.5 1089.1L1386.0 1086.3L1386.5 1084.4L1387.0 1081.4L1387.5 1079.1L1388.0 1078.9L1388.5 1077.5L1389.0 1077.4L1389.5 1078.0L1390.0 1079.6L1390.5 1080.6L1391.0 1081.7L1391.5 1083.5L1392.0 1086.5L1392.5 1088.6L1393.0 1090.7L1393.5 1094.4L1394.0 1098.4L1394.5 1100.6L1395.0 1104.2L1395.5 1108.7L1396.0 1112.1L1396.5 1115.2L1397.0 1117.0L1397.5 1121.1L1398.0 1124.8L1398.5 1127.8L1399.0 1129.7L1399.5 1132.6L1400.0 1134.7L1400.5 1137.4L1401.0 1140.3L1401.5 1142.8L1402.0 1144.0L1402.5 1146.6L1403.0 1148.1L1403.5 1150.6L1404.0 1150.7L1404.5 1152.9L1405.0 1152.6L1405.5 1155.5L1406.0 1156.3L1406.5 1157.4L1407.0 1158.2L1407.5 1158.9L1408.0 1159.4L1408.5 1161.2L1409.0 1160.4L1409.5 1161.5L1410.0 1162.8L1410.5 1162.7L1411.0 1162.8L1411.5 1163.2L1412.0 1163.8L1412.5 1164.8L1413.0 1163.7L1413.5 1162.8L1414.0 1165.2L1414.5 1164.7L1415.0 1164.9L1415.5 1164.9L1416.0 1165.3L1416.5 1164.6L1417.0 1166.2L1417.5 1165.2L1418.0 1166.5L1418.5 1164.9L1419.0 1166.8L1419.5 1166.3L1420.0 1165.2L1420.5 1166.7L1421.0 1167.0L1421.5 1167.1L1422.0 1166.4L1422.5 1168.4L1423.0 1166.9L1423.5 1168.1L1424.0 1166.3L1424.5 1168.1L1425.0 1168.2L1425.5 1167.6L1426.0 1168.7L1426.5 1167.6L1427.0 1168.2L1427.5 1167.9L1428.0 1167.8L1428.5 1166.8L1429.0 1167.6L1429.5 1167.6L1430.0 1167.5L1430.5 1167.6L1431.0 1167.4L1431.5 1167.6L1432.0 1167.9L1432.5 1168.3L1433.0 1167.6L1433.5 1168.4L1434.0 1169.2L1434.5 1168.9L1435.0 1167.8L1435.5 1169.3L1436.0 1167.4L1436.5 1168.3L1437.0 1169.4L1437.5 1169.1L1438.0 1169.0L1438.5 1168.5L1439.0 1168.3L1439.5 1169.5L1440.0 1169.0L1440.5 1170.0L1441.0 1168.7L1441.5 1168.4L1442.0 1168.7L1442.5 1168.0L1443.0 1168.7L1443.5 1168.7L1444.0 1168.6L1444.5 1170.1L1445.0 1170.1L1445.5 1169.1L1446.0 1169.1L1446.5 1170.3L1447.0 1170.3L1447.5 1169.2L1448.0 1169.7L1448.5 1169.9L1449.0 1169.6L1449.5 1169.9L1450.0 1169.5L1450.5 1170.5L1451.0 1170.2L1451.5 1169.0L1452.0 1169.6L1452.5 1169.6L1453.0 1170.6L1453.5 1169.6L1454.0 1170.6L1454.5 1170.7L1455.0 1169.4L1455.5 1170.4L1456.0 1169.8L1456.5 1170.2L1457.0 1168.9L1457.5 1169.7L1458.0 1168.7L1458.5 1170.1L1459.0 1168.2L1459.5 1169.4L1460.0 1168.5L1460.5 1169.0L1461.0 1169.1L1461.5 1169.4L1462.0 1169.9L1462.5 1170.3L1463.0 1170.5L1463.5 1170.1L1464.0 1169.5L1464.5 1170.6L1465.0 1169.4L1465.5 1170.3L1466.0 1169.9L1466.5 1169.6L1467.0 1170.2L1467.5 1169.2L1468.0 1169.6L1468.5 1169.6L1469.0 1170.3L1469.5 1170.1L1470.0 1169.9L1470.5 1169.5L1471.0 1170.5L1471.5 1170.1L1472.0 1169.0L1472.5 1170.2L1473.0 1170.5L1473.5 1169.8L1474.0 1170.5L1474.5 1169.9L1475.0 1169.6L1475.5 1170.1L1476.0 1169.6L1476.5 1169.4L1477.0 1169.9L1477.5 1168.4L1478.0 1170.3L1478.5 1169.4L1479.0 1169.9L1479.5 1170.3L1480.0 1170.4L1480.5 1169.5L1481.0 1169.8L1481.5 1170.3L1482.0 1170.6L1482.5 1169.1L1483.0 1170.0L1483.5 1168.8L1484.0 1169.0L1484.5 1169.4L1485.0 1169.5L1485.5 1168.8L1486.0 1168.8L1486.5 1169.4L1487.0 1168.9L1487.5 1169.7L1488.0 1169.0L1488.5 1170.3L1489.0 1169.4L1489.5 1169.7L1490.0 1169.2L1490.5 1170.0L1491.0 1169.7L1491.5 1169.7L1492.0 1169.1L1492.5 1169.4L1493.0 1169.2L1493.5 1169.7L1494.0 1169.0L1494.5 1168.9L1495.0 1169.1L1495.5 1168.8L1496.0 1168.5L1496.5 1168.2L1497.0 1168.4L1497.5 1169.1L1498.0 1168.7L1498.5 1168.6L1499.0 1167.9L1499.5 1169.0L1500.0 1168.2L1500.5 1168.7L1501.0 1168.4L1501.5 1168.8L1502.0 1166.8L1502.5 1166.2L1503.0 1167.0L1503.5 1165.6L1504.0 1166.7L1504.5 1166.4L1505.0 1166.3L1505.5 1166.6L1506.0 1165.2L1506.5 1166.3L1507.0 1166.6L1507.5 1166.8L1508.0 1164.8L1508.5 1164.9L1509.0 1166.1L1509.5 1164.2L1510.0 1165.2L1510.5 1164.5L1511.0 1164.5L1511.5 1162.8L1512.0 1162.8L1512.5 1163.0L1513.0 1163.5L1513.5 1163.2L1514.0 1161.7L1514.5 1161.8L1515.0 1161.2L1515.5 1159.5L1516.0 1158.7L1516.5 1157.2L1517.0 1156.4L1517.5 1155.2L1518.0 1155.1L1518.5 1153.3L1519.0 1150.6L1519.5 1148.8L1520.0 1146.1L1520.5 1142.6L1521.0 1141.2L1521.5 1138.4L1522.0 1134.1L1522.5 1131.5L1523.0 1127.5L1523.5 1123.2L1524.0 1117.5L1524.5 1114.4L1525.0 1110.6L1525.5 1105.9L1526.0 1102.8L1526.5 1100.9L1527.0 1099.5L1527.5 1097.5L1528.0 1096.2L1528.5 1095.2L1529.0 1094.8L1529.5 1095.2L1530.0 1096.1L1530.5 1095.6L1531.0 1096.6L1531.5 1094.2L1532.0 1093.0L1532.5 1092.0L1533.0 1090.1L1533.5 1087.3L1534.0 1083.1L1534.5 1079.7L1535.0 1076.3L1535.5 1070.5L1536.0 1065.2L1536.5 1060.3L1537.0 1054.2L1537.5 1047.8L1538.0 1042.5L1538.5 1034.6L1539.0 1029.2L1539.5 1022.7L1540.0 1018.2L1540.5 1012.3L1541.0 1009.1L1541.5 1005.4L1542.0 1004.9L1542.5 1002.1L1543.0 1003.1L1543.5 1002.4L1544.0 1004.4L1544.5 1008.0L1545.0 1010.6L1545.5 1015.8L1546.0 1022.7L1546.5 1028.6L1547.0 1034.3L1547.5 1041.8L1548.0 1048.4L1548.5 1055.5L1549.0 1061.7L1549.5 1069.7L1550.0 1075.7L1550.5 1083.3L1551.0 1087.9L1551.5 1096.3L1552.0 1100.4L1552.5 1105.3L1553.0 1110.7L1553.5 1116.5L1554.0 1121.0L1554.5 1124.6L1555.0 1129.6L1555.5 1133.8L1556.0 1135.9L1556.5 1139.1L1557.0 1142.1L1557.5 1144.7L1558.0 1145.4L1558.5 1149.4L1559.0 1150.2L1559.5 1151.9L1560.0 1154.1L1560.5 1153.1L1561.0 1156.3L1561.5 1157.0L1562.0 1158.6L1562.5 1158.8L1563.0 1160.3L1563.5 1160.9L1564.0 1160.0L1564.5 1161.3L1565.0 1161.4L1565.5 1162.1L1566.0 1162.0L1566.5 1162.1L1567.0 1163.0L1567.5 1163.0L1568.0 1163.7L1568.5 1165.1L1569.0 1164.3L1569.5 1164.8L1570.0 1166.2L1570.5 1166.5L1571.0 1165.1L1571.5 1166.3L1572.0 1166.1L1572.5 1166.6L1573.0 1167.1L1573.5 1167.4L1574.0 1167.4L1574.5 1167.7L1575.0 1168.0L1575.5 1168.8L1576.0 1168.5L1576.5 1167.2L1577.0 1168.9L1577.5 1168.2L1578.0 1167.4L1578.5 1167.6L1579.0 1168.5L1579.5 1168.3L1580.0 1168.7L1580.5 1167.7L1581.0 1168.5L1581.5 1170.1L1582.0 1168.1L1582.5 1168.5L1583.0 1169.5L1583.5 1169.6L1584.0 1169.1L1584.5 1169.7L1585.0 1169.7L1585.5 1169.4L1586.0 1169.6L1586.5 1169.4L1587.0 1170.0L1587.5 1170.1L1588.0 1169.6L1588.5 1170.4L1589.0 1169.7L1589.5 1170.3L1590.0 1170.8L1590.5 1171.4L1591.0 1170.7L1591.5 1171.4L1592.0 1171.1L1592.5 1171.2L1593.0 1171.1L1593.5 1171.0L1594.0 1171.3L1594.5 1170.5L1595.0 1171.6L1595.5 1171.0L1596.0 1172.4L1596.5 1171.1L1597.0 1171.3L1597.5 1171.5L1598.0 1171.7L1598.5 1172.4L1599.0 1172.4L1599.5 1171.1L1600.0 1171.1L1600.5 1172.3L1601.0 1171.8L1601.5 1171.6L1602.0 1171.8L1602.5 1172.4L1603.0 1172.4L1603.5 1170.7L1604.0 1171.8L1604.5 1171.9L1605.0 1171.5L1605.5 1172.9L1606.0 1172.9L1606.5 1172.1L1607.0 1173.0L1607.5 1172.1L1608.0 1173.1L1608.5 1172.6L1609.0 1172.3L1609.5 1172.7L1610.0 1172.1L1610.5 1173.2L1611.0 1172.2L1611.5 1172.7L1612.0 1171.7L1612.5 1171.5L1613.0 1172.2L1613.5 1172.3L1614.0 1172.8L1614.5 1171.8L1615.0 1172.0L1615.5 1172.0L1616.0 1172.9L1616.5 1171.7L1617.0 1171.0L1617.5 1170.7L1618.0 1171.0L1618.5 1171.4L1619.0 1170.7L1619.5 1170.9L1620.0 1170.8L1620.5 1171.4L1621.0 1171.7L1621.5 1170.7L1622.0 1170.4L1622.5 1171.7L1623.0 1171.9L1623.5 1170.8L1624.0 1169.7L1624.5 1169.7L1625.0 1170.4L1625.5 1169.0L1626.0 1169.2L1626.5 1170.7L1627.0 1168.8L1627.5 1168.8L1628.0 1170.5L1628.5 1168.7L1629.0 1169.6L1629.5 1168.3L1630.0 1167.3L1630.5 1167.9L1631.0 1167.2L1631.5 1167.8L1632.0 1166.6L1632.5 1167.8L1633.0 1167.8L1633.5 1168.1L1634.0 1168.1L1634.5 1167.7L1635.0 1169.3L1635.5 1169.4L1636.0 1169.9L1636.5 1169.9L1637.0 1170.1L1637.5 1169.7L1638.0 1169.4L1638.5 1169.6L1639.0 1170.6L1639.5 1169.4L1640.0 1170.8L1640.5 1171.8L1641.0 1170.7L1641.5 1172.3L1642.0 1170.3L1642.5 1171.4L1643.0 1169.9L1643.5 1171.3L1644.0 1172.2L1644.5 1171.0L1645.0 1170.5L1645.5 1170.6L1646.0 1171.7L1646.5 1172.0L1647.0 1171.9L1647.5 1171.6L1648.0 1171.2L1648.5 1171.6L1649.0 1171.2L1649.5 1170.8L1650.0 1172.3L1650.5 1172.3L1651.0 1172.4L1651.5 1172.9L1652.0 1171.2L1652.5 1170.5L1653.0 1171.8L1653.5 1171.8L1654.0 1171.4L1654.5 1172.5L1655.0 1172.0L1655.5 1172.5L1656.0 1172.3L1656.5 1171.5L1657.0 1171.8L1657.5 1171.1L1658.0 1171.4L1658.5 1171.1L1659.0 1170.3L1659.5 1171.3L1660.0 1170.7L1660.5 1170.9L1661.0 1171.1L1661.5 1172.7L1662.0 1171.7L1662.5 1171.4L1663.0 1171.0L1663.5 1170.4L1664.0 1171.3L1664.5 1171.4L1665.0 1170.8L1665.5 1171.5L1666.0 1171.2L1666.5 1171.3L1667.0 1170.8L1667.5 1172.2L1668.0 1171.6L1668.5 1170.7L1669.0 1171.2L1669.5 1171.7L1670.0 1170.7L1670.5 1171.8L1671.0 1170.9L1671.5 1169.9L1672.0 1171.4L1672.5 1170.8L1673.0 1171.4L1673.5 1171.2L1674.0 1172.0L1674.5 1171.5L1675.0 1172.0L1675.5 1171.0L1676.0 1171.5L1676.5 1170.9L1677.0 1171.2L1677.5 1172.5L1678.0 1170.8L1678.5 1171.7L1679.0 1171.2L1679.5 1171.6L1680.0 1170.8L1680.5 1170.9L1681.0 1170.2L1681.5 1172.1L1682.0 1171.2L1682.5 1171.3L1683.0 1170.3L1683.5 1171.8L1684.0 1171.4L1684.5 1170.8L1685.0 1171.3L1685.5 1170.9L1686.0 1171.6L1686.5 1169.9L1687.0 1171.2L1687.5 1171.0L1688.0 1171.4L1688.5 1170.4L1689.0 1170.4L1689.5 1170.2L1690.0 1171.4L1690.5 1170.9L1691.0 1171.2L1691.5 1171.1L1692.0 1171.3L1692.5 1170.4L1693.0 1171.1L1693.5 1171.9L1694.0 1171.3L1694.5 1170.5L1695.0 1170.8L1695.5 1171.1L1696.0 1171.2L1696.5 1171.3L1697.0 1171.1L1697.5 1171.3L1698.0 1171.8L1698.5 1171.7L1699.0 1171.0L1699.5 1172.8L1700.0 1171.5L1700.5 1171.2L1701.0 1172.4L1701.5 1172.6L1702.0 1171.8L1702.5 1172.4L1703.0 1171.4L1703.5 1171.3L1704.0 1170.7L1704.5 1171.6L1705.0 1171.2L1705.5 1172.1L1706.0 1171.0L1706.5 1172.1L1707.0 1171.3L1707.5 1172.4L1708.0 1171.4L1708.5 1172.3L1709.0 1171.1L1709.5 1171.6L1710.0 1171.2L1710.5 1171.9L1711.0 1170.1L1711.5 1170.5L1712.0 1171.2L1712.5 1171.0L1713.0 1170.9L1713.5 1171.1L1714.0 1170.7L1714.5 1171.3L1715.0 1171.8L1715.5 1170.5L1716.0 1171.8L1716.5 1170.7L1717.0 1170.1L1717.5 1170.8L1718.0 1170.8L1718.5 1170.8L1719.0 1169.9L1719.5 1170.6L1720.0 1170.3L1720.5 1171.5L1721.0 1170.7L1721.5 1170.7L1722.0 1170.4L1722.5 1171.1L1723.0 1172.3L1723.5 1170.3L1724.0 1170.9L1724.5 1171.9L1725.0 1171.9L1725.5 1171.3L1726.0 1171.0L1726.5 1170.9L1727.0 1170.4L1727.5 1170.7L1728.0 1170.7L1728.5 1170.3L1729.0 1169.1L1729.5 1169.8L1730.0 1169.5L1730.5 1170.6L1731.0 1169.1L1731.5 1169.3L1732.0 1168.9L1732.5 1172.1L1733.0 1171.0L1733.5 1169.7L1734.0 1170.2L1734.5 1168.3L1735.0 1169.1L1735.5 1170.8L1736.0 1169.1L1736.5 1168.5L1737.0 1168.8L1737.5 1168.9L1738.0 1169.3L1738.5 1169.4L1739.0 1169.0L1739.5 1168.2L1740.0 1168.8L1740.5 1169.0L1741.0 1168.1L1741.5 1169.3L1742.0 1168.9L1742.5 1170.2L1743.0 1169.4L1743.5 1168.9L1744.0 1168.7L1744.5 1170.2L1745.0 1169.5L1745.5 1169.0L1746.0 1169.0L1746.5 1167.6L1747.0 1168.9L1747.5 1168.0L1748.0 1168.0L1748.5 1168.8L1749.0 1168.5L1749.5 1167.4L1750.0 1168.9L1750.5 1168.5L1751.0 1169.2L1751.5 1168.6L1752.0 1168.6L1752.5 1167.8L1753.0 1167.8L1753.5 1167.3L1754.0 1168.1L1754.5 1167.2L1755.0 1167.5L1755.5 1169.0L1756.0 1167.8L1756.5 1168.6L1757.0 1166.4L1757.5 1166.2L1758.0 1166.5L1758.5 1167.2L1759.0 1166.2L1759.5 1167.6L1760.0 1165.9L1760.5 1167.5L1761.0 1165.9L1761.5 1166.0L1762.0 1166.7L1762.5 1166.0L1763.0 1165.8L1763.5 1165.4L1764.0 1165.9L1764.5 1165.1L1765.0 1166.1L1765.5 1165.5L1766.0 1165.1L1766.5 1163.8L1767.0 1166.1L1767.5 1164.1L1768.0 1163.4L1768.5 1163.1L1769.0 1161.8L1769.5 1162.7L1770.0 1161.7L1770.5 1161.7L1771.0 1163.3L1771.5 1162.0L1772.0 1161.8L1772.5 1163.1L1773.0 1161.5L1773.5 1163.4L1774.0 1162.1L1774.5 1162.4L1775.0 1162.4L1775.5 1162.6L1776.0 1163.5L1776.5 1164.5L1777.0 1163.8L1777.5 1163.1L1778.0 1162.8L1778.5 1164.9L1779.0 1163.9L1779.5 1163.6L1780.0 1164.4L1780.5 1164.4L1781.0 1164.4L1781.5 1163.9L1782.0 1163.5L1782.5 1165.0L1783.0 1164.5L1783.5 1164.4L1784.0 1164.0L1784.5 1165.0L1785.0 1164.9L1785.5 1165.3L1786.0 1166.0L1786.5 1165.0L1787.0 1165.0L1787.5 1165.2L1788.0 1165.0L1788.5 1165.9L1789.0 1166.7L1789.5 1166.8L1790.0 1166.0L1790.5 1165.6L1791.0 1166.8L1791.5 1166.7L1792.0 1166.7L1792.5 1167.4L1793.0 1166.2L1793.5 1167.0L1794.0 1166.6L1794.5 1167.4L1795.0 1166.8L1795.5 1167.2L1796.0 1167.4L1796.5 1167.3L1797.0 1167.6L1797.5 1167.6L1798.0 1169.2L1798.5 1166.8L1799.0 1168.5L1799.5 1168.0L1800.0 1167.3L1800.5 1167.9L1801.0 1167.6L1801.5 1169.0L1802.0 1169.2L1802.5 1169.0L1803.0 1169.6L1803.5 1167.8L1804.0 1168.0L1804.5 1168.9L1805.0 1169.7L1805.5 1169.7L1806.0 1168.8L1806.5 1169.2L1807.0 1169.8L1807.5 1168.5L1808.0 1169.4L1808.5 1169.7L1809.0 1169.5L1809.5 1169.5L1810.0 1168.5L1810.5 1167.3L1811.0 1167.7L1811.5 1167.8L1812.0 1168.3L1812.5 1168.7L1813.0 1168.2L1813.5 1168.3L1814.0 1168.8L1814.5 1166.7L1815.0 1168.0L1815.5 1168.1L1816.0 1168.4L1816.5 1168.9L1817.0 1168.3L1817.5 1166.8L1818.0 1167.8L1818.5 1166.7L1819.0 1167.7L1819.5 1166.9L1820.0 1166.9L1820.5 1167.4L1821.0 1166.5L1821.5 1166.9L1822.0 1166.8L1822.5 1167.2L1823.0 1166.7L1823.5 1166.3L1824.0 1166.0L1824.5 1167.6L1825.0 1167.6L1825.5 1166.7L1826.0 1166.1L1826.5 1167.5L1827.0 1167.0L1827.5 1167.3L1828.0 1166.6L1828.5 1167.3L1829.0 1166.6L1829.5 1166.2L1830.0 1166.9L1830.5 1165.4L1831.0 1165.8L1831.5 1165.7L1832.0 1165.4L1832.5 1165.7L1833.0 1165.0L1833.5 1164.1L1834.0 1166.2L1834.5 1164.9L1835.0 1164.7L1835.5 1164.3L1836.0 1165.0L1836.5 1164.9L1837.0 1164.1L1837.5 1165.4L1838.0 1165.3L1838.5 1163.5L1839.0 1164.9L1839.5 1164.0L1840.0 1164.7L1840.5 1164.7L1841.0 1164.8L1841.5 1164.6L1842.0 1165.5L1842.5 1164.2L1843.0 1164.1L1843.5 1164.0L1844.0 1163.4L1844.5 1164.9L1845.0 1163.4L1845.5 1163.9L1846.0 1163.0L1846.5 1162.3L1847.0 1162.6L1847.5 1161.3L1848.0 1161.5L1848.5 1161.7L1849.0 1160.4L1849.5 1159.9L1850.0 1158.8L1850.5 1158.2L1851.0 1157.1L1851.5 1155.9L1852.0 1154.1L1852.5 1153.1L1853.0 1151.2L1853.5 1150.5L1854.0 1149.2L1854.5 1147.4L1855.0 1146.2L1855.5 1145.3L1856.0 1144.1L1856.5 1143.2L1857.0 1142.1L1857.5 1141.4L1858.0 1141.7L1858.5 1141.5L1859.0 1142.4L1859.5 1143.9L1860.0 1143.8L1860.5 1144.2L1861.0 1145.9L1861.5 1147.1L1862.0 1149.5L1862.5 1150.4L1863.0 1153.0L1863.5 1153.4L1864.0 1154.8L1864.5 1156.9L1865.0 1156.5L1865.5 1158.0L1866.0 1159.5L1866.5 1159.6L1867.0 1160.4L1867.5 1160.2L1868.0 1160.1L1868.5 1160.8L1869.0 1161.9L1869.5 1160.9L1870.0 1160.6L1870.5 1160.6L1871.0 1162.6L1871.5 1160.8L1872.0 1160.9L1872.5 1160.5L1873.0 1161.7L1873.5 1160.0L1874.0 1160.2L1874.5 1160.8L1875.0 1159.4L1875.5 1160.6L1876.0 1160.7L1876.5 1160.3L1877.0 1158.7L1877.5 1159.6L1878.0 1159.9L1878.5 1161.0L1879.0 1161.4L1879.5 1161.2L1880.0 1160.7L1880.5 1160.6L1881.0 1160.7L1881.5 1160.6L1882.0 1161.1L1882.5 1161.4L1883.0 1161.8L1883.5 1163.0L1884.0 1161.7L1884.5 1163.9L1885.0 1163.7L1885.5 1164.3L1886.0 1164.3L1886.5 1164.5L1887.0 1165.7L1887.5 1165.1L1888.0 1164.9L1888.5 1165.4L1889.0 1165.5L1889.5 1166.7L1890.0 1165.8L1890.5 1165.7L1891.0 1165.7L1891.5 1165.5L1892.0 1166.4L1892.5 1165.8L1893.0 1166.8L1893.5 1164.5L1894.0 1166.1L1894.5 1166.2L1895.0 1165.8L1895.5 1164.8L1896.0 1165.7L1896.5 1165.5L1897.0 1166.8L1897.5 1166.7L1898.0 1166.6L1898.5 1165.9L1899.0 1166.2L1899.5 1165.9L1900.0 1166.5L1900.5 1165.9L1901.0 1166.4L1901.5 1166.3L1902.0 1165.9L1902.5 1166.2L1903.0 1165.5L1903.5 1165.2L1904.0 1166.0L1904.5 1165.8L1905.0 1165.6L1905.5 1166.5L1906.0 1167.3L1906.5 1167.1L1907.0 1167.6L1907.5 1166.7L1908.0 1168.1L1908.5 1166.5L1909.0 1167.0L1909.5 1167.7L1910.0 1165.9L1910.5 1166.7L1911.0 1166.7L1911.5 1167.4L1912.0 1165.8L1912.5 1166.3L1913.0 1164.5L1913.5 1165.7L1914.0 1164.5L1914.5 1164.9L1915.0 1166.1L1915.5 1165.4L1916.0 1165.1L1916.5 1166.4L1917.0 1166.1L1917.5 1166.1L1918.0 1165.6L1918.5 1166.1L1919.0 1165.8L1919.5 1166.6L1920.0 1166.3L1920.5 1166.5L1921.0 1166.3L1921.5 1166.5L1922.0 1167.3L1922.5 1166.1L1923.0 1167.0L1923.5 1166.7L1924.0 1166.5L1924.5 1165.2L1925.0 1166.8L1925.5 1165.9L1926.0 1166.1L1926.5 1165.5L1927.0 1165.7L1927.5 1165.4L1928.0 1165.4L1928.5 1166.2L1929.0 1165.3L1929.5 1165.4L1930.0 1166.7L1930.5 1167.1L1931.0 1166.4L1931.5 1165.1L1932.0 1166.4L1932.5 1166.8L1933.0 1166.4L1933.5 1166.1L1934.0 1165.9L1934.5 1166.5L1935.0 1167.8L1935.5 1166.4L1936.0 1166.0L1936.5 1165.6L1937.0 1166.2L1937.5 1165.1L1938.0 1165.8L1938.5 1165.9L1939.0 1165.7L1939.5 1166.0L1940.0 1165.7L1940.5 1165.0L1941.0 1164.3L1941.5 1165.8L1942.0 1164.0L1942.5 1164.6L1943.0 1166.5L1943.5 1164.9L1944.0 1166.2L1944.5 1164.9L1945.0 1165.4L1945.5 1165.4L1946.0 1165.7L1946.5 1165.1L1947.0 1164.6L1947.5 1165.2L1948.0 1164.4L1948.5 1164.4L1949.0 1165.9L1949.5 1164.6L1950.0 1166.0L1950.5 1165.6L1951.0 1164.3L1951.5 1164.7L1952.0 1164.9L1952.5 1165.7L1953.0 1165.0L1953.5 1165.8L1954.0 1165.1L1954.5 1165.5L1955.0 1164.7L1955.5 1165.2L1956.0 1164.4L1956.5 1164.6L1957.0 1164.0L1957.5 1162.0L1958.0 1163.7L1958.5 1162.4L1959.0 1161.4L1959.5 1161.3L1960.0 1160.7L1960.5 1161.3L1961.0 1159.9L1961.5 1159.4L1962.0 1159.6L1962.5 1157.3L1963.0 1156.4L1963.5 1156.6L1964.0 1155.2L1964.5 1156.0L1965.0 1154.3L1965.5 1154.1L1966.0 1155.1L1966.5 1155.6L1967.0 1154.8L1967.5 1154.9L1968.0 1154.7L1968.5 1155.9L1969.0 1156.5L1969.5 1156.7L1970.0 1157.8L1970.5 1159.3L1971.0 1159.3L1971.5 1158.4L1972.0 1161.8L1972.5 1162.2L1973.0 1161.3L1973.5 1163.3L1974.0 1162.4L1974.5 1163.8L1975.0 1164.0L1975.5 1163.6L1976.0 1164.5L1976.5 1164.4L1977.0 1164.4L1977.5 1163.5L1978.0 1164.5L1978.5 1163.7L1979.0 1164.3L1979.5 1163.6L1980.0 1163.2L1980.5 1162.0L1981.0 1163.5L1981.5 1162.4L1982.0 1161.7L1982.5 1161.3L1983.0 1161.3L1983.5 1161.8L1984.0 1159.5L1984.5 1160.9L1985.0 1159.5L1985.5 1159.3L1986.0 1159.4L1986.5 1159.3L1987.0 1158.6L1987.5 1158.6L1988.0 1159.0L1988.5 1157.9L1989.0 1157.1L1989.5 1157.7L1990.0 1158.0L1990.5 1159.4L1991.0 1158.4L1991.5 1157.7L1992.0 1158.2L1992.5 1160.0L1993.0 1160.2L1993.5 1159.5L1994.0 1159.6L1994.5 1161.4L1995.0 1160.5L1995.5 1161.4L1996.0 1162.4L1996.5 1162.8L1997.0 1162.1L1997.5 1163.3L1998.0 1162.5L1998.5 1163.8L1999.0 1163.2L1999.5 1162.7L2000.0 1164.7L2000.5 1164.0L2001.0 1164.8L2001.5 1164.6L2002.0 1166.4L2002.5 1165.7L2003.0 1164.7L2003.5 1166.2L2004.0 1165.5L2004.5 1165.9L2005.0 1163.8L2005.5 1164.8L2006.0 1163.9L2006.5 1164.5L2007.0 1164.4L2007.5 1164.6L2008.0 1163.2L2008.5 1164.2L2009.0 1163.6L2009.5 1165.2L2010.0 1164.9L2010.5 1165.3L2011.0 1165.5L2011.5 1165.3L2012.0 1164.8L2012.5 1165.4L2013.0 1164.1L2013.5 1165.1L2014.0 1164.8L2014.5 1164.9L2015.0 1165.2L2015.5 1164.9L2016.0 1165.8L2016.5 1165.2L2017.0 1164.6L2017.5 1164.4L2018.0 1164.3L2018.5 1165.7L2019.0 1164.6L2019.5 1165.5L2020.0 1164.4L2020.5 1165.1L2021.0 1164.3L2021.5 1165.7L2022.0 1165.6L2022.5 1165.1L2023.0 1164.3L2023.5 1163.5L2024.0 1165.0L2024.5 1165.9L2025.0 1164.6L2025.5 1165.4L2026.0 1164.7L2026.5 1165.4L2027.0 1164.3L2027.5 1165.5L2028.0 1164.4L2028.5 1164.8L2029.0 1166.0L2029.5 1165.3L2030.0 1165.1L2030.5 1164.8L2031.0 1165.3L2031.5 1164.9L2032.0 1164.9L2032.5 1166.3L2033.0 1165.3L2033.5 1165.6L2034.0 1165.5L2034.5 1165.5L2035.0 1166.3L2035.5 1165.6L2036.0 1165.7L2036.5 1165.4L2037.0 1165.8L2037.5 1166.6L2038.0 1165.5L2038.5 1165.5L2039.0 1166.7L2039.5 1166.0L2040.0 1166.8L2040.5 1165.3L2041.0 1165.8L2041.5 1165.7L2042.0 1166.4L2042.5 1165.1L2043.0 1166.3L2043.5 1165.8L2044.0 1166.0L2044.5 1166.2L2045.0 1166.4L2045.5 1164.2L2046.0 1166.0L2046.5 1166.2L2047.0 1165.5L2047.5 1166.3L2048.0 1166.4L2048.5 1166.6L2049.0 1165.3L2049.5 1166.4L2050.0 1164.7L2050.5 1165.7L2051.0 1165.6L2051.5 1165.5L2052.0 1165.4L2052.5 1166.0L2053.0 1165.5L2053.5 1165.6L2054.0 1166.4L2054.5 1165.0L2055.0 1165.7L2055.5 1165.5L2056.0 1165.5L2056.5 1166.7L2057.0 1166.4L2057.5 1167.0L2058.0 1166.4L2058.5 1164.1L2059.0 1165.7L2059.5 1165.6L2060.0 1165.6L2060.5 1166.8L2061.0 1165.5L2061.5 1166.6L2062.0 1166.1L2062.5 1166.0L2063.0 1165.7L2063.5 1167.1L2064.0 1166.1L2064.5 1165.3L2065.0 1166.3L2065.5 1165.5L2066.0 1167.2L2066.5 1165.8L2067.0 1166.2L2067.5 1166.8L2068.0 1165.9L2068.5 1167.3L2069.0 1166.6L2069.5 1166.7L2070.0 1166.7L2070.5 1166.6L2071.0 1166.5L2071.5 1167.8L2072.0 1166.5L2072.5 1166.3L2073.0 1167.8L2073.5 1167.7L2074.0 1166.8L2074.5 1166.7L2075.0 1167.5L2075.5 1167.0L2076.0 1166.9L2076.5 1166.9L2077.0 1166.6L2077.5 1167.3L2078.0 1166.0L2078.5 1166.0L2079.0 1165.6L2079.5 1166.3L2080.0 1165.8L2080.5 1166.5L2081.0 1165.7L2081.5 1165.9L2082.0 1166.5L2082.5 1166.3L2083.0 1165.9L2083.5 1166.3L2084.0 1166.3L2084.5 1166.8L2085.0 1167.1L2085.5 1167.9L2086.0 1167.6L2086.5 1167.4L2087.0 1166.6L2087.5 1167.4L2088.0 1166.2L2088.5 1165.7L2089.0 1167.1L2089.5 1167.0L2090.0 1164.6L2090.5 1167.3L2091.0 1165.5L2091.5 1165.9L2092.0 1166.6L2092.5 1166.3L2093.0 1166.7L2093.5 1165.8L2094.0 1167.3L2094.5 1166.3L2095.0 1166.2L2095.5 1167.5L2096.0 1166.5L2096.5 1166.8L2097.0 1166.8L2097.5 1165.9L2098.0 1165.4L2098.5 1166.5L2099.0 1166.0L2099.5 1167.0L2100.0 1166.7L2100.5 1164.2L2101.0 1167.3L2101.5 1165.7L2102.0 1166.9L2102.5 1167.0L2103.0 1166.7L2103.5 1166.8L2104.0 1167.4L2104.5 1167.0L2105.0 1166.6L2105.5 1166.7L2106.0 1166.4L2106.5 1166.1L2107.0 1166.2L2107.5 1166.0L2108.0 1166.9L2108.5 1165.9L2109.0 1165.6L2109.5 1167.0L2110.0 1166.1L2110.5 1167.1L2111.0 1166.4L2111.5 1165.8L2112.0 1166.6L2112.5 1167.4L2113.0 1165.7L2113.5 1166.0L2114.0 1165.2L2114.5 1166.3L2115.0 1165.8L2115.5 1167.1L2116.0 1164.4L2116.5 1166.2L2117.0 1165.9L2117.5 1166.3L2118.0 1165.6L2118.5 1166.1L2119.0 1165.4L2119.5 1165.7L2120.0 1166.4L2120.5 1164.3L2121.0 1166.4L2121.5 1165.1L2122.0 1165.4L2122.5 1166.3L2123.0 1166.0L2123.5 1165.8L2124.0 1165.5L2124.5 1164.6L2125.0 1165.7L2125.5 1165.2L2126.0 1165.2L2126.5 1165.0L2127.0 1165.8L2127.5 1166.2L2128.0 1165.1L2128.5 1164.6L2129.0 1165.9L2129.5 1164.7L2130.0 1165.4L2130.5 1165.6L2131.0 1165.5L2131.5 1164.9L2132.0 1165.0L2132.5 1165.5L2133.0 1165.1L2133.5 1165.7L2134.0 1166.2L2134.5 1166.0L2135.0 1164.7L2135.5 1164.9L2136.0 1165.1L2136.5 1164.9L2137.0 1165.1L2137.5 1165.1L2138.0 1163.9L2138.5 1164.0L2139.0 1165.1L2139.5 1165.3L2140.0 1165.0L2140.5 1164.7L2141.0 1164.9L2141.5 1163.9L2142.0 1164.0L2142.5 1164.8L2143.0 1166.5L2143.5 1165.4L2144.0 1164.7L2144.5 1164.3L2145.0 1164.4L2145.5 1164.2L2146.0 1165.4L2146.5 1163.4L2147.0 1164.3L2147.5 1163.7L2148.0 1164.3L2148.5 1164.7L2149.0 1164.5L2149.5 1164.6L2150.0 1164.1L2150.5 1164.0L2151.0 1165.8L2151.5 1164.3L2152.0 1164.5L2152.5 1164.0L2153.0 1165.0L2153.5 1164.0L2154.0 1164.6L2154.5 1164.1L2155.0 1164.2L2155.5 1164.8L2156.0 1165.2L2156.5 1163.9L2157.0 1165.2L2157.5 1164.4L2158.0 1164.8L2158.5 1164.8L2159.0 1163.8L2159.5 1163.8L2160.0 1164.4L2160.5 1165.1L2161.0 1163.3L2161.5 1165.5L2162.0 1164.2L2162.5 1163.2L2163.0 1164.0L2163.5 1163.5L2164.0 1165.1L2164.5 1163.4L2165.0 1163.1L2165.5 1163.0L2166.0 1162.9L2166.5 1163.8L2167.0 1164.1L2167.5 1163.7L2168.0 1163.2L2168.5 1164.4L2169.0 1163.6L2169.5 1163.4L2170.0 1164.0L2170.5 1163.1L2171.0 1161.0L2171.5 1162.9L2172.0 1161.5L2172.5 1161.6L2173.0 1161.8L2173.5 1162.1L2174.0 1162.1L2174.5 1161.8L2175.0 1162.7L2175.5 1162.6L2176.0 1162.2L2176.5 1161.4L2177.0 1162.7L2177.5 1161.6L2178.0 1161.8L2178.5 1162.0L2179.0 1161.8L2179.5 1160.7L2180.0 1161.8L2180.5 1161.1L2181.0 1161.1L2181.5 1161.9L2182.0 1162.3L2182.5 1161.3L2183.0 1160.4L2183.5 1160.3L2184.0 1161.2L2184.5 1160.4L2185.0 1159.4L2185.5 1161.5L2186.0 1160.6L2186.5 1159.9L2187.0 1159.8L2187.5 1159.3L2188.0 1158.8L2188.5 1160.2L2189.0 1159.7L2189.5 1161.3L2190.0 1159.8L2190.5 1160.2L2191.0 1160.5L2191.5 1159.1L2192.0 1160.2L2192.5 1159.1L2193.0 1161.4L2193.5 1158.6L2194.0 1158.5L2194.5 1160.3L2195.0 1158.2L2195.5 1159.1L2196.0 1158.4L2196.5 1156.6L2197.0 1157.5L2197.5 1156.8L2198.0 1158.6L2198.5 1156.5L2199.0 1157.9L2199.5 1156.4L2200.0 1156.5L2200.5 1157.6L2201.0 1155.7L2201.5 1156.0L2202.0 1156.3L2202.5 1155.2L2203.0 1156.2L2203.5 1156.6L2204.0 1156.1L2204.5 1155.4L2205.0 1154.9L2205.5 1155.9L2206.0 1156.2L2206.5 1155.2L2207.0 1156.7L2207.5 1157.4L2208.0 1157.6L2208.5 1158.4L2209.0 1157.0L2209.5 1157.8L2210.0 1157.1L2210.5 1158.4L2211.0 1157.7L2211.5 1157.7L2212.0 1157.8L2212.5 1156.4L2213.0 1158.4L2213.5 1157.8L2214.0 1158.3L2214.5 1158.7L2215.0 1160.7L2215.5 1159.3L2216.0 1158.8L2216.5 1159.3L2217.0 1159.1L2217.5 1159.2L2218.0 1159.5L2218.5 1159.9L2219.0 1158.7L2219.5 1159.5L2220.0 1159.3L2220.5 1160.0L2221.0 1160.8L2221.5 1160.4L2222.0 1158.9L2222.5 1161.2L2223.0 1161.4L2223.5 1161.3L2224.0 1160.6L2224.5 1162.0L2225.0 1160.8L2225.5 1160.3L2226.0 1161.9L2226.5 1159.4L2227.0 1161.2L2227.5 1161.2L2228.0 1160.7L2228.5 1160.3L2229.0 1161.7L2229.5 1161.4L2230.0 1161.6L2230.5 1160.5L2231.0 1160.3L2231.5 1160.3L2232.0 1159.7L2232.5 1161.4L2233.0 1161.5L2233.5 1161.3L2234.0 1160.0L2234.5 1160.9L2235.0 1161.4L2235.5 1161.3L2236.0 1160.5L2236.5 1161.1L2237.0 1161.5L2237.5 1159.3L2238.0 1159.8L2238.5 1159.1L2239.0 1159.1L2239.5 1159.5L2240.0 1160.2L2240.5 1160.4L2241.0 1159.9L2241.5 1160.6L2242.0 1160.6L2242.5 1160.0L2243.0 1160.2L2243.5 1159.4L2244.0 1159.3L2244.5 1158.8L2245.0 1159.5L2245.5 1158.7L2246.0 1160.1L2246.5 1159.2L2247.0 1159.7L2247.5 1159.3L2248.0 1158.8L2248.5 1159.6L2249.0 1158.8L2249.5 1159.3L2250.0 1158.8L2250.5 1160.4L2251.0 1158.7L2251.5 1158.6L2252.0 1158.1L2252.5 1159.1L2253.0 1158.4L2253.5 1158.4L2254.0 1159.3L2254.5 1159.4L2255.0 1158.3L2255.5 1157.5L2256.0 1158.7L2256.5 1158.3L2257.0 1157.8L2257.5 1158.3L2258.0 1157.9L2258.5 1157.0L2259.0 1158.0L2259.5 1157.4L2260.0 1158.0L2260.5 1156.9L2261.0 1157.9" fill="none" stroke="#008000" stroke-width="7.2" stroke-linejoin="round" stroke-linecap="round"/>
<path d="M1001.5 1041.0L1015.5 1041.0L1015.5 1086.0L1001.5 1086.0Z" fill="#008000" stroke="#008000" stroke-width="3" stroke-linejoin="round"/>
<path d="M1520.5 1094.0L1535.0 1094.0L1535.0 1115.0L1520.5 1115.0Z" fill="#008000" stroke="#008000" stroke-width="3" stroke-linejoin="round"/>
<path d="M229.5 1719.5L230.0 1716.1L230.5 1718.9L231.0 1718.2L231.5 1718.8L232.0 1717.9L232.5 1718.8L233.0 1717.4L233.5 1717.1L234.0 1717.9L234.5 1717.8L235.0 1717.2L235.5 1717.4L236.0 1718.3L236.5 1718.8L237.0 1718.0L237.5 1718.3L238.0 1717.1L238.5 1719.3L239.0 1718.1L239.5 1719.1L240.0 1718.5L240.5 1719.8L241.0 1719.2L241.5 1718.6L242.0 1719.3L242.5 1717.6L243.0 1719.3L243.5 1717.6L244.0 1719.0L244.5 1719.6L245.0 1718.8L245.5 1718.7L246.0 1718.6L246.5 1718.8L247.0 1719.8L247.5 1719.6L248.0 1718.6L248.5 1717.9L249.0 1719.2L249.5 1717.7L250.0 1718.2L250.5 1717.9L251.0 1719.1L251.5 1718.7L252.0 1719.3L252.5 1719.3L253.0 1718.8L253.5 1719.7L254.0 1720.5L254.5 1719.6L255.0 1720.1L255.5 1719.5L256.0 1720.6L256.5 1720.2L257.0 1720.5L257.5 1720.2L258.0 1721.4L258.5 1720.1L259.0 1720.2L259.5 1720.2L260.0 1721.2L260.5 1720.3L261.0 1720.3L261.5 1721.5L262.0 1721.9L262.5 1721.2L263.0 1719.0L263.5 1720.4L264.0 1720.0L264.5 1720.0L265.0 1720.5L265.5 1722.0L266.0 1720.0L266.5 1720.0L267.0 1720.9L267.5 1720.4L268.0 1720.2L268.5 1719.8L269.0 1720.2L269.5 1720.5L270.0 1718.9L270.5 1718.9L271.0 1720.8L271.5 1720.9L272.0 1720.2L272.5 1720.1L273.0 1720.5L273.5 1719.9L274.0 1720.9L274.5 1722.2L275.0 1721.7L275.5 1722.2L276.0 1721.1L276.5 1721.3L277.0 1721.9L277.5 1720.2L278.0 1720.9L278.5 1721.0L279.0 1721.6L279.5 1722.3L280.0 1722.0L280.5 1720.6L281.0 1721.9L281.5 1721.7L282.0 1721.9L282.5 1723.9L283.0 1721.4L283.5 1722.4L284.0 1721.9L284.5 1723.1L285.0 1722.6L285.5 1722.4L286.0 1722.3L286.5 1722.9L287.0 1721.3L287.5 1721.9L288.0 1721.9L288.5 1723.7L289.0 1722.3L289.5 1722.1L290.0 1722.3L290.5 1724.3L291.0 1722.7L291.5 1723.5L292.0 1723.3L292.5 1722.5L293.0 1722.0L293.5 1722.5L294.0 1722.5L294.5 1721.5L295.0 1724.9L295.5 1723.8L296.0 1723.1L296.5 1722.8L297.0 1722.6L297.5 1723.9L298.0 1722.9L298.5 1723.4L299.0 1721.6L299.5 1722.8L300.0 1724.0L300.5 1722.7L301.0 1723.5L301.5 1723.0L302.0 1724.0L302.5 1724.1L303.0 1723.3L303.5 1723.4L304.0 1724.0L304.5 1723.6L305.0 1722.8L305.5 1723.3L306.0 1723.3L306.5 1722.2L307.0 1722.8L307.5 1724.8L308.0 1723.2L308.5 1722.8L309.0 1724.5L309.5 1722.5L310.0 1721.4L310.5 1721.7L311.0 1721.7L311.5 1722.7L312.0 1723.3L312.5 1721.0L313.0 1723.0L313.5 1721.2L314.0 1721.7L314.5 1721.1L315.0 1720.6L315.5 1719.8L316.0 1719.2L316.5 1717.1L317.0 1716.8L317.5 1716.0L318.0 1714.6L318.5 1714.1L319.0 1711.0L319.5 1708.2L320.0 1706.1L320.5 1702.2L321.0 1698.3L321.5 1694.3L322.0 1693.6L322.5 1689.9L323.0 1687.5L323.5 1684.5L324.0 1683.9L324.5 1684.3L325.0 1683.4L325.5 1683.7L326.0 1686.4L326.5 1690.3L327.0 1691.6L327.5 1693.9L328.0 1697.3L328.5 1701.0L329.0 1705.5L329.5 1708.1L330.0 1709.6L330.5 1711.2L331.0 1714.0L331.5 1716.0L332.0 1717.3L332.5 1719.0L333.0 1719.8L333.5 1722.8L334.0 1720.6L334.5 1723.3L335.0 1723.2L335.5 1725.3L336.0 1724.8L336.5 1725.5L337.0 1725.8L337.5 1725.7L338.0 1726.8L338.5 1725.3L339.0 1727.0L339.5 1726.6L340.0 1726.7L340.5 1727.8L341.0 1727.7L341.5 1728.4L342.0 1725.5L342.5 1726.2L343.0 1727.8L343.5 1726.4L344.0 1727.0L344.5 1728.5L345.0 1727.9L345.5 1726.4L346.0 1727.5L346.5 1727.7L347.0 1727.5L347.5 1727.4L348.0 1727.5L348.5 1726.5L349.0 1727.8L349.5 1727.2L350.0 1728.5L350.5 1728.8L351.0 1727.9L351.5 1729.0L352.0 1729.0L352.5 1729.0L353.0 1729.8L353.5 1729.0L354.0 1728.8L354.5 1729.2L355.0 1728.8L355.5 1729.6L356.0 1727.1L356.5 1728.5L357.0 1727.3L357.5 1728.1L358.0 1729.2L358.5 1729.3L359.0 1729.9L359.5 1729.8L360.0 1727.9L360.5 1729.1L361.0 1730.9L361.5 1731.0L362.0 1730.2L362.5 1728.8L363.0 1731.6L363.5 1728.8L364.0 1730.7L364.5 1730.7L365.0 1731.0L365.5 1730.3L366.0 1731.0L366.5 1732.0L367.0 1730.9L367.5 1730.3L368.0 1731.1L368.5 1730.8L369.0 1730.4L369.5 1730.0L370.0 1731.1L370.5 1730.7L371.0 1730.0L371.5 1731.1L372.0 1731.0L372.5 1731.3L373.0 1730.3L373.5 1730.9L374.0 1731.6L374.5 1732.1L375.0 1731.8L375.5 1731.6L376.0 1731.8L376.5 1732.0L377.0 1732.5L377.5 1731.4L378.0 1730.9L378.5 1732.0L379.0 1730.0L379.5 1731.6L380.0 1731.3L380.5 1732.2L381.0 1732.5L381.5 1732.4L382.0 1731.5L382.5 1732.3L383.0 1732.0L383.5 1732.8L384.0 1733.0L384.5 1732.6L385.0 1733.3L385.5 1734.0L386.0 1732.9L386.5 1733.7L387.0 1732.3L387.5 1732.9L388.0 1733.8L388.5 1731.9L389.0 1732.5L389.5 1732.3L390.0 1733.7L390.5 1733.6L391.0 1732.1L391.5 1732.7L392.0 1730.8L392.5 1733.4L393.0 1733.1L393.5 1733.9L394.0 1731.3L394.5 1733.6L395.0 1733.2L395.5 1731.8L396.0 1733.0L396.5 1733.5L397.0 1734.4L397.5 1734.0L398.0 1733.7L398.5 1734.2L399.0 1733.8L399.5 1733.4L400.0 1733.4L400.5 1734.2L401.0 1734.5L401.5 1735.2L402.0 1733.9L402.5 1735.3L403.0 1734.9L403.5 1735.4L404.0 1734.4L404.5 1734.7L405.0 1735.3L405.5 1736.1L406.0 1736.0L406.5 1736.7L407.0 1736.3L407.5 1736.9L408.0 1736.5L408.5 1735.7L409.0 1736.3L409.5 1736.0L410.0 1737.1L410.5 1736.0L411.0 1736.1L411.5 1736.1L412.0 1737.2L412.5 1737.0L413.0 1736.8L413.5 1735.3L414.0 1735.2L414.5 1736.8L415.0 1736.8L415.5 1737.3L416.0 1735.1L416.5 1736.0L417.0 1735.1L417.5 1735.7L418.0 1736.5L418.5 1737.4L419.0 1736.3L419.5 1736.4L420.0 1736.9L420.5 1737.8L421.0 1738.9L421.5 1736.0L422.0 1737.5L422.5 1737.4L423.0 1738.8L423.5 1738.2L424.0 1739.0L424.5 1737.1L425.0 1738.0L425.5 1737.7L426.0 1737.4L426.5 1737.8L427.0 1737.4L427.5 1739.6L428.0 1738.3L428.5 1737.4L429.0 1737.6L429.5 1739.5L430.0 1738.0L430.5 1738.9L431.0 1738.8L431.5 1739.0L432.0 1739.0L432.5 1738.3L433.0 1738.1L433.5 1737.3L434.0 1738.6L434.5 1739.1L435.0 1738.8L435.5 1739.0L436.0 1738.1L436.5 1740.3L437.0 1738.7L437.5 1738.4L438.0 1738.7L438.5 1738.6L439.0 1738.9L439.5 1736.7L440.0 1738.8L440.5 1738.1L441.0 1738.4L441.5 1739.2L442.0 1739.0L442.5 1737.9L443.0 1738.7L443.5 1740.3L444.0 1739.9L444.5 1739.5L445.0 1739.2L445.5 1739.9L446.0 1739.6L446.5 1739.1L447.0 1738.9L447.5 1739.8L448.0 1739.6L448.5 1740.0L449.0 1739.2L449.5 1740.2L450.0 1739.4L450.5 1740.6L451.0 1740.2L451.5 1739.5L452.0 1739.3L452.5 1740.0L453.0 1740.1L453.5 1741.1L454.0 1740.2L454.5 1739.3L455.0 1740.2L455.5 1741.7L456.0 1741.6L456.5 1740.3L457.0 1740.5L457.5 1740.9L458.0 1740.1L458.5 1740.6L459.0 1740.6L459.5 1740.1L460.0 1740.2L460.5 1740.4L461.0 1740.9L461.5 1739.8L462.0 1741.2L462.5 1740.3L463.0 1740.3L463.5 1740.4L464.0 1744.1L464.5 1742.0L465.0 1741.7L465.5 1741.4L466.0 1741.0L466.5 1741.0L467.0 1741.4L467.5 1741.4L468.0 1741.3L468.5 1742.1L469.0 1739.3L469.5 1741.3L470.0 1741.9L470.5 1741.3L471.0 1741.4L471.5 1742.5L472.0 1741.5L472.5 1743.2L473.0 1741.8L473.5 1741.8L474.0 1740.6L474.5 1740.5L475.0 1741.2L475.5 1741.6L476.0 1741.4L476.5 1740.7L477.0 1742.0L477.5 1741.6L478.0 1741.6L478.5 1741.4L479.0 1743.1L479.5 1743.1L480.0 1742.4L480.5 1742.0L481.0 1742.5L481.5 1743.5L482.0 1744.4L482.5 1742.6L483.0 1742.4L483.5 1741.8L484.0 1745.1L484.5 1742.1L485.0 1743.7L485.5 1743.5L486.0 1744.2L486.5 1742.6L487.0 1742.1L487.5 1743.4L488.0 1743.4L488.5 1743.8L489.0 1742.2L489.5 1742.8L490.0 1743.1L490.5 1742.3L491.0 1743.2L491.5 1743.9L492.0 1742.9L492.5 1741.8L493.0 1743.7L493.5 1743.6L494.0 1743.6L494.5 1743.6L495.0 1741.7L495.5 1743.0L496.0 1742.9L496.5 1742.4L497.0 1742.8L497.5 1742.1L498.0 1744.0L498.5 1742.8L499.0 1742.4L499.5 1743.4L500.0 1743.7L500.5 1744.1L501.0 1743.4L501.5 1743.6L502.0 1744.4L502.5 1745.5L503.0 1744.2L503.5 1743.2L504.0 1744.1L504.5 1743.6L505.0 1743.0L505.5 1743.5L506.0 1743.7L506.5 1744.4L507.0 1745.1L507.5 1745.3L508.0 1745.0L508.5 1744.1L509.0 1744.5L509.5 1744.3L510.0 1745.4L510.5 1743.7L511.0 1743.6L511.5 1744.9L512.0 1744.1L512.5 1743.3L513.0 1743.8L513.5 1743.6L514.0 1743.7L514.5 1744.0L515.0 1743.9L515.5 1743.6L516.0 1743.3L516.5 1742.5L517.0 1743.3L517.5 1744.4L518.0 1743.9L518.5 1743.3L519.0 1743.7L519.5 1743.4L520.0 1744.1L520.5 1745.6L521.0 1745.4L521.5 1745.4L522.0 1745.1L522.5 1744.4L523.0 1743.7L523.5 1744.7L524.0 1744.4L524.5 1745.6L525.0 1745.0L525.5 1744.7L526.0 1745.0L526.5 1746.6L527.0 1744.1L527.5 1745.8L528.0 1745.4L528.5 1744.8L529.0 1744.5L529.5 1745.3L530.0 1745.5L530.5 1746.3L531.0 1746.4L531.5 1745.9L532.0 1745.1L532.5 1745.8L533.0 1745.3L533.5 1744.6L534.0 1745.9L534.5 1744.9L535.0 1744.3L535.5 1745.3L536.0 1744.0L536.5 1745.2L537.0 1745.4L537.5 1744.8L538.0 1745.3L538.5 1746.8L539.0 1746.1L539.5 1746.1L540.0 1745.7L540.5 1745.3L541.0 1745.6L541.5 1745.9L542.0 1746.2L542.5 1746.0L543.0 1745.6L543.5 1747.2L544.0 1745.2L544.5 1746.5L545.0 1746.9L545.5 1746.1L546.0 1745.6L546.5 1745.9L547.0 1747.4L547.5 1746.3L548.0 1745.9L548.5 1746.5L549.0 1745.9L549.5 1744.6L550.0 1746.2L550.5 1746.8L551.0 1747.2L551.5 1746.4L552.0 1745.5L552.5 1747.2L553.0 1746.3L553.5 1746.9L554.0 1747.2L554.5 1746.9L555.0 1746.4L555.5 1745.7L556.0 1746.1L556.5 1746.4L557.0 1746.3L557.5 1746.9L558.0 1745.4L558.5 1746.1L559.0 1746.8L559.5 1746.3L560.0 1746.5L560.5 1745.7L561.0 1746.7L561.5 1747.2L562.0 1745.1L562.5 1746.3L563.0 1744.4L563.5 1745.3L564.0 1743.8L564.5 1745.7L565.0 1745.8L565.5 1746.2L566.0 1747.2L566.5 1747.0L567.0 1747.2L567.5 1746.6L568.0 1747.5L568.5 1747.2L569.0 1747.4L569.5 1748.6L570.0 1748.1L570.5 1747.6L571.0 1747.7L571.5 1745.8L572.0 1747.2L572.5 1746.0L573.0 1746.9L573.5 1747.6L574.0 1747.4L574.5 1747.6L575.0 1747.4L575.5 1747.3L576.0 1747.5L576.5 1748.5L577.0 1748.3L577.5 1746.1L578.0 1747.5L578.5 1748.3L579.0 1747.2L579.5 1747.3L580.0 1747.0L580.5 1746.5L581.0 1747.3L581.5 1746.9L582.0 1747.1L582.5 1746.1L583.0 1746.5L583.5 1747.6L584.0 1747.7L584.5 1748.4L585.0 1747.3L585.5 1748.7L586.0 1748.9L586.5 1748.6L587.0 1749.2L587.5 1748.7L588.0 1748.2L588.5 1747.7L589.0 1746.6L589.5 1747.3L590.0 1747.7L590.5 1745.9L591.0 1747.6L591.5 1746.4L592.0 1746.4L592.5 1746.9L593.0 1747.3L593.5 1748.2L594.0 1747.3L594.5 1748.3L595.0 1747.0L595.5 1747.3L596.0 1747.7L596.5 1747.2L597.0 1747.0L597.5 1747.9L598.0 1748.2L598.5 1748.4L599.0 1748.0L599.5 1749.8L600.0 1748.9L600.5 1748.8L601.0 1750.0L601.5 1749.9L602.0 1748.4L602.5 1749.8L603.0 1748.1L603.5 1749.0L604.0 1750.3L604.5 1749.1L605.0 1748.4L605.5 1748.1L606.0 1747.0L606.5 1747.9L607.0 1748.1L607.5 1747.4L608.0 1748.4L608.5 1748.8L609.0 1748.7L609.5 1748.7L610.0 1748.1L610.5 1747.7L611.0 1748.4L611.5 1747.1L612.0 1747.9L612.5 1749.0L613.0 1749.3L613.5 1748.3L614.0 1746.8L614.5 1749.6L615.0 1749.1L615.5 1748.7L616.0 1749.6L616.5 1749.4L617.0 1748.2L617.5 1748.1L618.0 1749.7L618.5 1747.3L619.0 1749.5L619.5 1749.5L620.0 1749.8L620.5 1749.9L621.0 1749.7L621.5 1749.8L622.0 1749.5L622.5 1749.3L623.0 1749.5L623.5 1748.7L624.0 1747.8L624.5 1748.4L625.0 1747.6L625.5 1748.4L626.0 1750.2L626.5 1749.1L627.0 1748.7L627.5 1748.6L628.0 1747.6L628.5 1748.3L629.0 1747.9L629.5 1748.0L630.0 1747.5L630.5 1746.9L631.0 1744.9L631.5 1746.4L632.0 1744.7L632.5 1743.5L633.0 1742.1L633.5 1741.3L634.0 1740.3L634.5 1738.5L635.0 1735.3L635.5 1733.0L636.0 1729.8L636.5 1728.8L637.0 1726.3L637.5 1723.3L638.0 1718.8L638.5 1714.8L639.0 1708.7L639.5 1704.4L640.0 1698.1L640.5 1691.1L641.0 1683.3L641.5 1677.7L642.0 1667.5L642.5 1661.9L643.0 1653.4L643.5 1646.9L644.0 1639.7L644.5 1635.0L645.0 1630.4L645.5 1627.2L646.0 1626.7L646.5 1627.1L647.0 1631.2L647.5 1636.1L648.0 1641.4L648.5 1648.0L649.0 1656.0L649.5 1661.5L650.0 1670.7L650.5 1677.8L651.0 1684.7L651.5 1692.3L652.0 1697.3L652.5 1704.2L653.0 1709.6L653.5 1713.4L654.0 1718.4L654.5 1722.8L655.0 1726.8L655.5 1728.7L656.0 1732.8L656.5 1734.4L657.0 1736.6L657.5 1738.2L658.0 1740.6L658.5 1741.1L659.0 1742.8L659.5 1743.8L660.0 1744.5L660.5 1743.7L661.0 1745.7L661.5 1745.9L662.0 1746.9L662.5 1746.4L663.0 1746.8L663.5 1747.5L664.0 1747.6L664.5 1748.2L665.0 1748.2L665.5 1747.9L666.0 1748.6L666.5 1750.0L667.0 1750.9L667.5 1750.5L668.0 1750.1L668.5 1751.0L669.0 1751.2L669.5 1752.9L670.0 1752.1L670.5 1751.4L671.0 1750.1L671.5 1751.1L672.0 1751.3L672.5 1752.4L673.0 1753.5L673.5 1752.2L674.0 1751.2L674.5 1752.6L675.0 1751.4L675.5 1753.5L676.0 1753.4L676.5 1752.9L677.0 1751.5L677.5 1752.3L678.0 1753.6L678.5 1752.1L679.0 1752.4L679.5 1753.1L680.0 1753.1L680.5 1753.3L681.0 1753.3L681.5 1753.1L682.0 1752.7L682.5 1752.9L683.0 1753.1L683.5 1751.9L684.0 1753.0L684.5 1752.9L685.0 1752.9L685.5 1753.1L686.0 1752.3L686.5 1752.1L687.0 1753.2L687.5 1752.9L688.0 1753.5L688.5 1753.0L689.0 1753.0L689.5 1754.3L690.0 1754.1L690.5 1754.6L691.0 1755.1L691.5 1755.0L692.0 1754.9L692.5 1753.5L693.0 1752.6L693.5 1753.0L694.0 1752.6L694.5 1752.2L695.0 1753.8L695.5 1752.1L696.0 1753.9L696.5 1753.9L697.0 1755.1L697.5 1753.7L698.0 1754.7L698.5 1752.6L699.0 1752.7L699.5 1753.6L700.0 1752.0L700.5 1753.4L701.0 1752.6L701.5 1751.4L702.0 1754.0L702.5 1752.1L703.0 1754.7L703.5 1751.7L704.0 1752.1L704.5 1752.8L705.0 1752.8L705.5 1751.6L706.0 1752.6L706.5 1752.9L707.0 1753.2L707.5 1751.7L708.0 1752.6L708.5 1753.1L709.0 1754.0L709.5 1753.8L710.0 1753.5L710.5 1753.7L711.0 1754.7L711.5 1752.9L712.0 1753.7L712.5 1751.8L713.0 1754.4L713.5 1753.6L714.0 1751.9L714.5 1753.8L715.0 1753.9L715.5 1753.8L716.0 1753.4L716.5 1754.2L717.0 1753.1L717.5 1753.2L718.0 1753.0L718.5 1753.2L719.0 1752.3L719.5 1754.2L720.0 1753.0L720.5 1752.3L721.0 1752.7L721.5 1753.2L722.0 1753.1L722.5 1753.9L723.0 1753.1L723.5 1752.7L724.0 1753.6L724.5 1754.2L725.0 1752.7L725.5 1752.0L726.0 1752.5L726.5 1753.0L727.0 1752.3L727.5 1753.1L728.0 1752.2L728.5 1753.5L729.0 1751.7L729.5 1752.0L730.0 1753.0L730.5 1753.3L731.0 1753.4L731.5 1752.1L732.0 1752.6L732.5 1752.9L733.0 1753.5L733.5 1752.0L734.0 1750.9L734.5 1752.0L735.0 1751.6L735.5 1752.7L736.0 1751.8L736.5 1751.7L737.0 1750.8L737.5 1751.4L738.0 1752.2L738.5 1751.7L739.0 1751.1L739.5 1752.5L740.0 1751.5L740.5 1752.1L741.0 1751.5L741.5 1753.0L742.0 1752.1L742.5 1752.3L743.0 1752.2L743.5 1751.6L744.0 1750.2L744.5 1752.2L745.0 1750.4L745.5 1751.1L746.0 1750.3L746.5 1749.9L747.0 1749.4L747.5 1749.2L748.0 1750.2L748.5 1750.2L749.0 1750.6L749.5 1750.6L750.0 1750.0L750.5 1751.4L751.0 1752.1L751.5 1751.0L752.0 1750.2L752.5 1749.8L753.0 1750.5L753.5 1749.3L754.0 1750.3L754.5 1749.3L755.0 1749.1L755.5 1749.9L756.0 1748.9L756.5 1748.7L757.0 1749.4L757.5 1750.6L758.0 1748.9L758.5 1750.4L759.0 1748.5L759.5 1749.9L760.0 1750.1L760.5 1750.4L761.0 1747.7L761.5 1748.5L762.0 1747.2L762.5 1747.6L763.0 1746.6L763.5 1746.5L764.0 1745.2L764.5 1744.4L765.0 1744.6L765.5 1744.8L766.0 1743.0L766.5 1742.3L767.0 1741.5L767.5 1742.1L768.0 1739.1L768.5 1738.4L769.0 1738.6L769.5 1738.7L770.0 1738.0L770.5 1737.1L771.0 1736.2L771.5 1734.8L772.0 1733.3L772.5 1731.6L773.0 1731.0L773.5 1728.8L774.0 1728.1L774.5 1726.5L775.0 1723.5L775.5 1721.4L776.0 1718.7L776.5 1717.0L777.0 1713.6L777.5 1710.1L778.0 1706.8L778.5 1703.7L779.0 1698.3L779.5 1693.4L780.0 1687.4L780.5 1680.7L781.0 1674.2L781.5 1666.3L782.0 1656.9L782.5 1648.2L783.0 1636.4L783.5 1624.9L784.0 1611.8L784.5 1597.5L785.0 1580.0L785.5 1564.7L786.0 1547.3L786.5 1526.1L787.0 1506.8L787.5 1484.9L788.0 1462.3L788.5 1441.2L789.0 1419.6L789.5 1397.7L790.0 1379.4L790.5 1363.4L791.0 1348.9L791.5 1338.8L792.0 1333.6L792.5 1333.6L793.0 1338.6L793.5 1346.2L794.0 1358.8L794.5 1376.1L795.0 1395.3L795.5 1415.8L796.0 1437.6L796.5 1458.4L797.0 1479.3L797.5 1501.1L798.0 1522.1L798.5 1540.4L799.0 1559.7L799.5 1577.7L800.0 1592.5L800.5 1609.5L801.0 1622.1L801.5 1632.7L802.0 1644.1L802.5 1654.6L803.0 1664.9L803.5 1672.7L804.0 1679.2L804.5 1685.9L805.0 1691.5L805.5 1696.6L806.0 1700.1L806.5 1704.5L807.0 1707.9L807.5 1710.4L808.0 1715.3L808.5 1716.8L809.0 1719.6L809.5 1722.0L810.0 1724.6L810.5 1726.2L811.0 1727.9L811.5 1730.0L812.0 1729.9L812.5 1732.4L813.0 1733.8L813.5 1732.8L814.0 1733.6L814.5 1735.3L815.0 1736.5L815.5 1736.1L816.0 1735.9L816.5 1738.5L817.0 1737.6L817.5 1736.5L818.0 1738.9L818.5 1739.5L819.0 1739.8L819.5 1739.8L820.0 1740.7L820.5 1738.3L821.0 1737.4L821.5 1736.5L822.0 1738.2L822.5 1735.7L823.0 1733.7L823.5 1732.7L824.0 1733.3L824.5 1732.0L825.0 1731.9L825.5 1730.7L826.0 1730.6L826.5 1731.5L827.0 1732.2L827.5 1734.1L828.0 1734.8L828.5 1736.5L829.0 1738.4L829.5 1739.2L830.0 1741.2L830.5 1743.0L831.0 1743.8L831.5 1745.2L832.0 1746.2L832.5 1747.4L833.0 1747.6L833.5 1748.1L834.0 1748.8L834.5 1748.5L835.0 1749.2L835.5 1748.9L836.0 1748.2L836.5 1749.8L837.0 1748.2L837.5 1749.5L838.0 1750.8L838.5 1750.4L839.0 1749.2L839.5 1750.7L840.0 1750.1L840.5 1749.6L841.0 1750.4L841.5 1750.3L842.0 1750.6L842.5 1751.1L843.0 1750.1L843.5 1751.9L844.0 1752.8L844.5 1751.4L845.0 1750.9L845.5 1751.3L846.0 1752.8L846.5 1751.7L847.0 1752.2L847.5 1753.5L848.0 1751.7L848.5 1752.2L849.0 1751.6L849.5 1751.7L850.0 1752.0L850.5 1751.4L851.0 1752.3L851.5 1752.3L852.0 1753.2L852.5 1752.8L853.0 1752.4L853.5 1753.5L854.0 1752.2L854.5 1753.0L855.0 1751.8L855.5 1753.2L856.0 1751.8L856.5 1752.8L857.0 1751.5L857.5 1752.6L858.0 1751.7L858.5 1752.2L859.0 1752.2L859.5 1753.4L860.0 1753.5L860.5 1753.6L861.0 1753.5L861.5 1753.2L862.0 1753.6L862.5 1754.5L863.0 1752.9L863.5 1752.6L864.0 1753.4L864.5 1754.4L865.0 1753.1L865.5 1752.9L866.0 1752.4L866.5 1752.7L867.0 1752.6L867.5 1752.6L868.0 1754.0L868.5 1754.0L869.0 1753.4L869.5 1753.3L870.0 1753.8L870.5 1753.5L871.0 1753.7L871.5 1754.1L872.0 1753.7L872.5 1754.5L873.0 1756.3L873.5 1753.8L874.0 1754.1L874.5 1753.5L875.0 1753.8L875.5 1754.1L876.0 1754.3L876.5 1753.9L877.0 1753.5L877.5 1754.4L878.0 1754.1L878.5 1755.1L879.0 1754.5L879.5 1754.2L880.0 1754.3L880.5 1753.2L881.0 1755.4L881.5 1754.1L882.0 1755.1L882.5 1755.3L883.0 1754.1L883.5 1754.0L884.0 1755.7L884.5 1754.9L885.0 1755.5L885.5 1756.4L886.0 1755.7L886.5 1754.6L887.0 1755.3L887.5 1756.4L888.0 1755.2L888.5 1756.4L889.0 1754.4L889.5 1754.8L890.0 1754.0L890.5 1754.4L891.0 1756.4L891.5 1755.8L892.0 1755.2L892.5 1754.9L893.0 1756.2L893.5 1755.5L894.0 1754.6L894.5 1756.6L895.0 1754.7L895.5 1755.9L896.0 1755.7L896.5 1755.8L897.0 1756.8L897.5 1756.3L898.0 1755.2L898.5 1756.7L899.0 1755.7L899.5 1754.5L900.0 1754.5L900.5 1755.3L901.0 1754.4L901.5 1755.9L902.0 1755.9L902.5 1755.7L903.0 1754.6L903.5 1755.1L904.0 1756.2L904.5 1755.7L905.0 1755.3L905.5 1754.9L906.0 1755.7L906.5 1756.4L907.0 1755.8L907.5 1757.5L908.0 1757.7L908.5 1756.4L909.0 1754.7L909.5 1755.8L910.0 1756.8L910.5 1755.4L911.0 1755.3L911.5 1755.7L912.0 1757.7L912.5 1755.3L913.0 1754.3L913.5 1756.0L914.0 1756.0L914.5 1756.3L915.0 1755.9L915.5 1756.1L916.0 1755.5L916.5 1756.5L917.0 1755.9L917.5 1756.2L918.0 1755.4L918.5 1756.9L919.0 1756.0L919.5 1755.2L920.0 1755.4L920.5 1754.9L921.0 1755.1L921.5 1756.1L922.0 1756.2L922.5 1756.4L923.0 1756.3L923.5 1755.6L924.0 1756.1L924.5 1757.6L925.0 1756.0L925.5 1755.3L926.0 1756.5L926.5 1755.8L927.0 1755.9L927.5 1756.0L928.0 1755.4L928.5 1756.7L929.0 1756.3L929.5 1756.6L930.0 1755.7L930.5 1755.4L931.0 1756.1L931.5 1757.6L932.0 1755.1L932.5 1756.9L933.0 1755.9L933.5 1756.7L934.0 1755.7L934.5 1756.3L935.0 1756.3L935.5 1757.4L936.0 1755.7L936.5 1756.1L937.0 1755.7L937.5 1756.1L938.0 1755.3L938.5 1755.5L939.0 1755.6L939.5 1755.5L940.0 1754.3L940.5 1754.6L941.0 1756.0L941.5 1754.6L942.0 1755.3L942.5 1755.2L943.0 1754.6L943.5 1755.7L944.0 1755.9L944.5 1757.4L945.0 1754.6L945.5 1755.4L946.0 1756.3L946.5 1755.8L947.0 1754.4L947.5 1756.3L948.0 1756.0L948.5 1755.3L949.0 1755.3L949.5 1755.7L950.0 1756.2L950.5 1755.8L951.0 1755.5L951.5 1756.0L952.0 1756.6L952.5 1755.3L953.0 1756.8L953.5 1755.6L954.0 1755.9L954.5 1755.9L955.0 1756.2L955.5 1756.1L956.0 1754.5L956.5 1755.5L957.0 1757.0L957.5 1755.6L958.0 1756.4L958.5 1755.2L959.0 1755.7L959.5 1756.8L960.0 1755.6L960.5 1754.9L961.0 1755.1L961.5 1754.2L962.0 1755.7L962.5 1754.9L963.0 1755.5L963.5 1755.7L964.0 1755.1L964.5 1754.7L965.0 1754.7L965.5 1754.9L966.0 1755.2L966.5 1755.7L967.0 1754.1L967.5 1755.0L968.0 1753.6L968.5 1753.7L969.0 1754.4L969.5 1753.7L970.0 1752.6L970.5 1752.5L971.0 1753.7L971.5 1752.7L972.0 1752.4L972.5 1751.6L973.0 1753.3L973.5 1752.5L974.0 1751.3L974.5 1752.2L975.0 1750.6L975.5 1749.5L976.0 1749.1L976.5 1748.6L977.0 1745.9L977.5 1746.6L978.0 1745.2L978.5 1743.7L979.0 1741.3L979.5 1739.1L980.0 1734.1L980.5 1732.3L981.0 1729.6L981.5 1725.2L982.0 1720.6L982.5 1714.6L983.0 1709.8L983.5 1702.4L984.0 1697.0L984.5 1690.5L985.0 1682.3L985.5 1675.3L986.0 1667.5L986.5 1660.2L987.0 1652.2L987.5 1644.9L988.0 1640.0L988.5 1636.6L989.0 1635.4L989.5 1635.5L990.0 1636.6L990.5 1639.9L991.0 1643.4L991.5 1649.1L992.0 1652.8L992.5 1659.5L993.0 1663.4L993.5 1666.2L994.0 1668.2L994.5 1670.2L995.0 1669.6L995.5 1669.1L996.0 1666.8L996.5 1661.6L997.0 1656.4L997.5 1650.7L998.0 1643.5L998.5 1638.7L999.0 1631.4L999.5 1626.7L1000.0 1622.6L1000.5 1620.6L1001.0 1622.2L1001.5 1624.8L1002.0 1629.1L1002.5 1636.5L1003.0 1643.9L1003.5 1653.6L1004.0 1664.5L1004.5 1674.1L1005.0 1682.3L1005.5 1691.9L1006.0 1700.0L1006.5 1707.3L1007.0 1714.3L1007.5 1717.6L1008.0 1724.2L1008.5 1727.7L1009.0 1732.5L1009.5 1734.4L1010.0 1737.8L1010.5 1740.5L1011.0 1740.4L1011.5 1741.9L1012.0 1743.3L1012.5 1744.5L1013.0 1744.0L1013.5 1746.5L1014.0 1748.1L1014.5 1746.8L1015.0 1747.9L1015.5 1746.0L1016.0 1747.7L1016.5 1749.4L1017.0 1749.5L1017.5 1750.0L1018.0 1750.7L1018.5 1750.1L1019.0 1750.2L1019.5 1750.2L1020.0 1750.7L1020.5 1749.1L1021.0 1751.4L1021.5 1749.1L1022.0 1749.7L1022.5 1751.1L1023.0 1752.1L1023.5 1752.0L1024.0 1752.9L1024.5 1751.7L1025.0 1751.8L1025.5 1753.1L1026.0 1752.0L1026.5 1753.1L1027.0 1753.2L1027.5 1752.7L1028.0 1751.2L1028.5 1752.2L1029.0 1750.9L1029.5 1752.9L1030.0 1751.8L1030.5 1752.5L1031.0 1752.5L1031.5 1750.6L1032.0 1752.2L1032.5 1752.0L1033.0 1753.0L1033.5 1751.4L1034.0 1751.6L1034.5 1752.0L1035.0 1751.6L1035.5 1753.2L1036.0 1752.6L1036.5 1753.4L1037.0 1753.2L1037.5 1753.6L1038.0 1752.1L1038.5 1753.3L1039.0 1753.5L1039.5 1752.1L1040.0 1752.6L1040.5 1751.8L1041.0 1753.5L1041.5 1753.9L1042.0 1752.3L1042.5 1752.9L1043.0 1753.0L1043.5 1753.1L1044.0 1752.6L1044.5 1753.7L1045.0 1752.1L1045.5 1753.7L1046.0 1753.2L1046.5 1753.4L1047.0 1752.7L1047.5 1752.3L1048.0 1753.0L1048.5 1754.0L1049.0 1753.2L1049.5 1752.8L1050.0 1753.6L1050.5 1753.6L1051.0 1753.1L1051.5 1753.8L1052.0 1754.4L1052.5 1754.6L1053.0 1755.1L1053.5 1755.3L1054.0 1754.4L1054.5 1754.0L1055.0 1753.3L1055.5 1754.9L1056.0 1754.4L1056.5 1754.5L1057.0 1752.8L1057.5 1753.3L1058.0 1752.4L1058.5 1752.3L1059.0 1751.9L1059.5 1752.8L1060.0 1753.6L1060.5 1753.8L1061.0 1753.3L1061.5 1753.6L1062.0 1755.1L1062.5 1755.1L1063.0 1754.9L1063.5 1754.4L1064.0 1755.1L1064.5 1753.2L1065.0 1753.0L1065.5 1754.4L1066.0 1753.8L1066.5 1754.2L1067.0 1752.5L1067.5 1753.2L1068.0 1752.2L1068.5 1752.9L1069.0 1753.6L1069.5 1752.8L1070.0 1752.5L1070.5 1752.0L1071.0 1753.0L1071.5 1752.6L1072.0 1751.9L1072.5 1753.0L1073.0 1752.3L1073.5 1754.0L1074.0 1754.7L1074.5 1754.0L1075.0 1754.9L1075.5 1752.2L1076.0 1751.9L1076.5 1753.1L1077.0 1752.2L1077.5 1753.6L1078.0 1754.0L1078.5 1753.9L1079.0 1753.8L1079.5 1753.1L1080.0 1753.1L1080.5 1753.4L1081.0 1753.4L1081.5 1753.8L1082.0 1752.8L1082.5 1752.8L1083.0 1752.4L1083.5 1753.7L1084.0 1753.1L1084.5 1752.8L1085.0 1752.4L1085.5 1751.1L1086.0 1752.0L1086.5 1750.8L1087.0 1752.5L1087.5 1751.5L1088.0 1753.2L1088.5 1751.7L1089.0 1752.5L1089.5 1752.2L1090.0 1751.6L1090.5 1751.3L1091.0 1750.7L1091.5 1752.0L1092.0 1751.2L1092.5 1753.1L1093.0 1751.5L1093.5 1751.8L1094.0 1752.2L1094.5 1752.6L1095.0 1753.4L1095.5 1752.6L1096.0 1752.4L1096.5 1752.7L1097.0 1754.1L1097.5 1753.7L1098.0 1751.6L1098.5 1752.9L1099.0 1752.1L1099.5 1753.0L1100.0 1753.4L1100.5 1753.0L1101.0 1753.5L1101.5 1754.3L1102.0 1751.9L1102.5 1753.4L1103.0 1753.6L1103.5 1753.8L1104.0 1753.4L1104.5 1753.7L1105.0 1752.9L1105.5 1752.9L1106.0 1751.2L1106.5 1752.4L1107.0 1751.1L1107.5 1752.3L1108.0 1753.0L1108.5 1751.9L1109.0 1752.2L1109.5 1752.4L1110.0 1753.2L1110.5 1753.1L1111.0 1753.4L1111.5 1752.4L1112.0 1752.4L1112.5 1751.5L1113.0 1754.0L1113.5 1751.7L1114.0 1753.0L1114.5 1752.5L1115.0 1752.4L1115.5 1751.6L1116.0 1752.2L1116.5 1752.3L1117.0 1752.6L1117.5 1752.2L1118.0 1752.6L1118.5 1751.8L1119.0 1753.1L1119.5 1751.5L1120.0 1754.5L1120.5 1751.7L1121.0 1751.7L1121.5 1752.2L1122.0 1751.7L1122.5 1752.5L1123.0 1752.7L1123.5 1751.3L1124.0 1751.6L1124.5 1751.2L1125.0 1751.9L1125.5 1752.2L1126.0 1752.1L1126.5 1751.8L1127.0 1751.9L1127.5 1752.2L1128.0 1752.5L1128.5 1751.6L1129.0 1752.7L1129.5 1751.8L1130.0 1752.2L1130.5 1752.6L1131.0 1750.9L1131.5 1750.2L1132.0 1750.9L1132.5 1751.7L1133.0 1751.0L1133.5 1751.7L1134.0 1752.5L1134.5 1751.1L1135.0 1752.4L1135.5 1752.3L1136.0 1750.9L1136.5 1752.3L1137.0 1752.2L1137.5 1752.4L1138.0 1751.7L1138.5 1751.7L1139.0 1751.6L1139.5 1751.3L1140.0 1752.0L1140.5 1752.4L1141.0 1751.3L1141.5 1752.7L1142.0 1750.7L1142.5 1751.3L1143.0 1750.2L1143.5 1752.1L1144.0 1751.6L1144.5 1752.0L1145.0 1750.4L1145.5 1752.2L1146.0 1751.6L1146.5 1751.4L1147.0 1751.4L1147.5 1750.8L1148.0 1751.5L1148.5 1752.2L1149.0 1750.8L1149.5 1751.7L1150.0 1750.8L1150.5 1749.8L1151.0 1751.4L1151.5 1752.5L1152.0 1752.2L1152.5 1750.9L1153.0 1752.2L1153.5 1751.9L1154.0 1751.2L1154.5 1750.5L1155.0 1751.7L1155.5 1751.1L1156.0 1751.2L1156.5 1752.2L1157.0 1750.9L1157.5 1751.9L1158.0 1753.0L1158.5 1751.5L1159.0 1752.2L1159.5 1752.0L1160.0 1750.2L1160.5 1750.9L1161.0 1751.0L1161.5 1751.2L1162.0 1750.9L1162.5 1752.3L1163.0 1750.9L1163.5 1751.4L1164.0 1752.3L1164.5 1753.3L1165.0 1751.2L1165.5 1751.5L1166.0 1751.6L1166.5 1752.3L1167.0 1753.1L1167.5 1752.4L1168.0 1752.9L1168.5 1753.6L1169.0 1752.1L1169.5 1752.5L1170.0 1753.8L1170.5 1752.8L1171.0 1752.0L1171.5 1752.1L1172.0 1753.4L1172.5 1751.6L1173.0 1751.9L1173.5 1753.2L1174.0 1753.8L1174.5 1754.0L1175.0 1752.5L1175.5 1753.2L1176.0 1750.6L1176.5 1752.6L1177.0 1755.7L1177.5 1755.0L1178.0 1754.4L1178.5 1753.2L1179.0 1753.2L1179.5 1754.8L1180.0 1754.1L1180.5 1753.7L1181.0 1754.8L1181.5 1754.4L1182.0 1753.4L1182.5 1753.9L1183.0 1755.8L1183.5 1753.5L1184.0 1755.1L1184.5 1754.0L1185.0 1753.8L1185.5 1753.6L1186.0 1754.7L1186.5 1754.9L1187.0 1755.1L1187.5 1754.0L1188.0 1754.8L1188.5 1754.1L1189.0 1754.3L1189.5 1755.2L1190.0 1755.2L1190.5 1753.7L1191.0 1754.7L1191.5 1753.4L1192.0 1753.9L1192.5 1755.7L1193.0 1755.2L1193.5 1754.0L1194.0 1754.8L1194.5 1755.3L1195.0 1755.6L1195.5 1755.9L1196.0 1754.3L1196.5 1755.0L1197.0 1755.4L1197.5 1754.0L1198.0 1755.3L1198.5 1756.1L1199.0 1755.6L1199.5 1755.4L1200.0 1754.8L1200.5 1755.2L1201.0 1755.6L1201.5 1755.0L1202.0 1755.9L1202.5 1755.5L1203.0 1753.9L1203.5 1755.2L1204.0 1754.2L1204.5 1754.6L1205.0 1753.5L1205.5 1754.4L1206.0 1753.7L1206.5 1755.2L1207.0 1754.2L1207.5 1754.1L1208.0 1753.5L1208.5 1753.7L1209.0 1755.4L1209.5 1754.0L1210.0 1754.1L1210.5 1754.7L1211.0 1754.0L1211.5 1754.6L1212.0 1753.6L1212.5 1752.9L1213.0 1753.7L1213.5 1755.2L1214.0 1754.6L1214.5 1754.7L1215.0 1755.1L1215.5 1755.1L1216.0 1755.1L1216.5 1754.7L1217.0 1755.0L1217.5 1754.9L1218.0 1753.9L1218.5 1754.8L1219.0 1754.5L1219.5 1754.3L1220.0 1754.1L1220.5 1754.7L1221.0 1754.1L1221.5 1754.9L1222.0 1753.6L1222.5 1755.2L1223.0 1753.8L1223.5 1755.1L1224.0 1754.8L1224.5 1754.6L1225.0 1754.4L1225.5 1755.0L1226.0 1755.5L1226.5 1753.4L1227.0 1754.5L1227.5 1754.8L1228.0 1754.9L1228.5 1754.6L1229.0 1753.9L1229.5 1755.2L1230.0 1753.9L1230.5 1754.9L1231.0 1754.9L1231.5 1754.0L1232.0 1753.9L1232.5 1754.4L1233.0 1755.7L1233.5 1754.9L1234.0 1754.0L1234.5 1754.9L1235.0 1755.7L1235.5 1755.8L1236.0 1753.4L1236.5 1754.8L1237.0 1754.9L1237.5 1753.6L1238.0 1752.8L1238.5 1755.2L1239.0 1753.9L1239.5 1752.9L1240.0 1753.3L1240.5 1754.7L1241.0 1755.9L1241.5 1755.0L1242.0 1753.7L1242.5 1755.6L1243.0 1753.1L1243.5 1755.3L1244.0 1755.3L1244.5 1756.3L1245.0 1755.3L1245.5 1755.7L1246.0 1755.0L1246.5 1755.1L1247.0 1755.2L1247.5 1756.5L1248.0 1754.6L1248.5 1754.7L1249.0 1754.1L1249.5 1755.0L1250.0 1754.4L1250.5 1755.4L1251.0 1755.0L1251.5 1754.1L1252.0 1754.1L1252.5 1753.6L1253.0 1753.1L1253.5 1754.4L1254.0 1754.3L1254.5 1753.7L1255.0 1754.9L1255.5 1755.5L1256.0 1754.4L1256.5 1755.5L1257.0 1755.1L1257.5 1754.3L1258.0 1754.8L1258.5 1755.5L1259.0 1754.5L1259.5 1754.2L1260.0 1755.3L1260.5 1754.6L1261.0 1754.6L1261.5 1753.6L1262.0 1754.4L1262.5 1755.0L1263.0 1752.9L1263.5 1752.6L1264.0 1753.2L1264.5 1753.5L1265.0 1752.6L1265.5 1752.1L1266.0 1754.6L1266.5 1752.9L1267.0 1752.2L1267.5 1750.9L1268.0 1753.4L1268.5 1751.4L1269.0 1753.3L1269.5 1752.7L1270.0 1752.1L1270.5 1751.5L1271.0 1752.1L1271.5 1750.7L1272.0 1750.9L1272.5 1749.9L1273.0 1749.6L1273.5 1750.5L1274.0 1749.6L1274.5 1747.7L1275.0 1747.0L1275.5 1746.8L1276.0 1746.0L1276.5 1745.5L1277.0 1743.9L1277.5 1742.7L1278.0 1743.0L1278.5 1741.3L1279.0 1740.9L1279.5 1738.6L1280.0 1739.2L1280.5 1737.5L1281.0 1736.5L1281.5 1735.7L1282.0 1733.2L1282.5 1733.8L1283.0 1732.3L1283.5 1731.1L1284.0 1732.2L1284.5 1733.3L1285.0 1731.5L1285.5 1733.5L1286.0 1731.5L1286.5 1733.7L1287.0 1734.2L1287.5 1735.8L1288.0 1738.4L1288.5 1738.4L1289.0 1737.9L1289.5 1741.3L1290.0 1740.4L1290.5 1741.9L1291.0 1742.8L1291.5 1744.4L1292.0 1745.2L1292.5 1747.2L1293.0 1746.9L1293.5 1748.1L1294.0 1748.1L1294.5 1750.0L1295.0 1749.3L1295.5 1749.8L1296.0 1752.0L1296.5 1752.5L1297.0 1752.3L1297.5 1754.5L1298.0 1752.6L1298.5 1754.7L1299.0 1755.0L1299.5 1752.9L1300.0 1754.6L1300.5 1754.6L1301.0 1754.1L1301.5 1754.3L1302.0 1754.4L1302.5 1753.9L1303.0 1753.6L1303.5 1755.0L1304.0 1754.8L1304.5 1754.7L1305.0 1755.7L1305.5 1754.9L1306.0 1755.0L1306.5 1756.2L1307.0 1755.8L1307.5 1756.1L1308.0 1756.8L1308.5 1757.3L1309.0 1755.4L1309.5 1755.6L1310.0 1754.9L1310.5 1755.6L1311.0 1756.8L1311.5 1756.0L1312.0 1758.2L1312.5 1756.3L1313.0 1755.5L1313.5 1756.3L1314.0 1758.3L1314.5 1756.3L1315.0 1756.7L1315.5 1755.9L1316.0 1755.8L1316.5 1757.3L1317.0 1755.8L1317.5 1755.1L1318.0 1755.8L1318.5 1756.1L1319.0 1756.8L1319.5 1756.8L1320.0 1757.5L1320.5 1756.3L1321.0 1756.7L1321.5 1756.6L1322.0 1757.5L1322.5 1755.8L1323.0 1756.3L1323.5 1754.6L1324.0 1756.1L1324.5 1756.0L1325.0 1756.2L1325.5 1757.9L1326.0 1757.6L1326.5 1755.5L1327.0 1758.0L1327.5 1757.5L1328.0 1757.0L1328.5 1756.7L1329.0 1756.8L1329.5 1756.7L1330.0 1757.3L1330.5 1756.9L1331.0 1758.0L1331.5 1756.7L1332.0 1756.5L1332.5 1756.6L1333.0 1756.6L1333.5 1756.6L1334.0 1756.4L1334.5 1755.2L1335.0 1755.0L1335.5 1754.8L1336.0 1756.0L1336.5 1756.5L1337.0 1755.9L1337.5 1756.0L1338.0 1755.5L1338.5 1755.6L1339.0 1755.5L1339.5 1756.6L1340.0 1754.9L1340.5 1754.9L1341.0 1756.2L1341.5 1755.8L1342.0 1756.5L1342.5 1755.9L1343.0 1756.5L1343.5 1756.0L1344.0 1755.0L1344.5 1756.5L1345.0 1757.1L1345.5 1755.6L1346.0 1756.0L1346.5 1756.7L1347.0 1757.0L1347.5 1756.1L1348.0 1757.7L1348.5 1755.5L1349.0 1757.0L1349.5 1755.1L1350.0 1755.4L1350.5 1754.7L1351.0 1755.9L1351.5 1755.5L1352.0 1753.8L1352.5 1752.9L1353.0 1756.1L1353.5 1754.2L1354.0 1753.1L1354.5 1753.3L1355.0 1753.3L1355.5 1754.3L1356.0 1753.4L1356.5 1752.6L1357.0 1751.7L1357.5 1752.9L1358.0 1750.8L1358.5 1752.3L1359.0 1752.1L1359.5 1751.1L1360.0 1750.1L1360.5 1750.5L1361.0 1750.5L1361.5 1751.6L1362.0 1750.8L1362.5 1748.2L1363.0 1747.7L1363.5 1746.5L1364.0 1746.4L1364.5 1744.8L1365.0 1744.4L1365.5 1742.9L1366.0 1741.3L1366.5 1739.7L1367.0 1738.0L1367.5 1737.9L1368.0 1734.9L1368.5 1734.6L1369.0 1730.8L1369.5 1728.0L1370.0 1727.5L1370.5 1724.5L1371.0 1722.7L1371.5 1719.6L1372.0 1716.5L1372.5 1714.0L1373.0 1709.7L1373.5 1707.4L1374.0 1705.1L1374.5 1700.0L1375.0 1695.8L1375.5 1692.7L1376.0 1688.3L1376.5 1684.9L1377.0 1682.8L1377.5 1677.7L1378.0 1674.2L1378.5 1672.6L1379.0 1669.2L1379.5 1666.8L1380.0 1664.7L1380.5 1663.9L1381.0 1664.0L1381.5 1663.0L1382.0 1662.2L1382.5 1663.0L1383.0 1664.0L1383.5 1666.0L1384.0 1669.2L1384.5 1671.6L1385.0 1674.6L1385.5 1677.7L1386.0 1680.1L1386.5 1684.4L1387.0 1688.4L1387.5 1692.6L1388.0 1695.0L1388.5 1698.9L1389.0 1701.6L1389.5 1706.7L1390.0 1709.4L1390.5 1713.2L1391.0 1716.5L1391.5 1718.6L1392.0 1722.7L1392.5 1726.2L1393.0 1727.3L1393.5 1729.7L1394.0 1731.3L1394.5 1733.5L1395.0 1736.8L1395.5 1737.0L1396.0 1739.5L1396.5 1739.9L1397.0 1740.5L1397.5 1742.2L1398.0 1743.7L1398.5 1744.3L1399.0 1745.3L1399.5 1746.0L1400.0 1746.4L1400.5 1748.4L1401.0 1748.4L1401.5 1748.6L1402.0 1748.6L1402.5 1749.8L1403.0 1749.5L1403.5 1749.7L1404.0 1750.5L1404.5 1751.9L1405.0 1750.9L1405.5 1751.1L1406.0 1750.5L1406.5 1751.6L1407.0 1751.1L1407.5 1751.2L1408.0 1751.3L1408.5 1751.8L1409.0 1751.4L1409.5 1752.1L1410.0 1752.2L1410.5 1751.7L1411.0 1751.2L1411.5 1752.9L1412.0 1752.2L1412.5 1752.0L1413.0 1753.6L1413.5 1753.6L1414.0 1754.8L1414.5 1755.3L1415.0 1753.3L1415.5 1754.6L1416.0 1755.1L1416.5 1753.3L1417.0 1754.7L1417.5 1754.3L1418.0 1753.7L1418.5 1753.6L1419.0 1754.2L1419.5 1755.3L1420.0 1755.3L1420.5 1753.2L1421.0 1755.0L1421.5 1753.7L1422.0 1754.8L1422.5 1754.2L1423.0 1754.8L1423.5 1754.7L1424.0 1755.4L1424.5 1754.5L1425.0 1755.5L1425.5 1755.0L1426.0 1754.8L1426.5 1756.7L1427.0 1755.7L1427.5 1755.3L1428.0 1755.6L1428.5 1756.1L1429.0 1755.4L1429.5 1754.9L1430.0 1755.4L1430.5 1754.9L1431.0 1754.9L1431.5 1756.7L1432.0 1756.0L1432.5 1756.3L1433.0 1754.9L1433.5 1754.3L1434.0 1755.7L1434.5 1756.1L1435.0 1755.6L1435.5 1755.9L1436.0 1755.0L1436.5 1756.2L1437.0 1755.5L1437.5 1756.0L1438.0 1756.4L1438.5 1755.3L1439.0 1755.1L1439.5 1755.0L1440.0 1755.8L1440.5 1755.3L1441.0 1756.0L1441.5 1755.7L1442.0 1756.5L1442.5 1755.8L1443.0 1756.5L1443.5 1755.9L1444.0 1754.3L1444.5 1756.8L1445.0 1756.3L1445.5 1755.8L1446.0 1755.0L1446.5 1754.1L1447.0 1755.5L1447.5 1754.8L1448.0 1754.6L1448.5 1754.7L1449.0 1754.3L1449.5 1756.2L1450.0 1754.9L1450.5 1755.6L1451.0 1755.7L1451.5 1756.0L1452.0 1755.4L1452.5 1756.0L1453.0 1754.9L1453.5 1756.6L1454.0 1753.7L1454.5 1755.4L1455.0 1756.7L1455.5 1754.6L1456.0 1756.2L1456.5 1756.5L1457.0 1755.0L1457.5 1756.2L1458.0 1754.8L1458.5 1755.4L1459.0 1754.9L1459.5 1754.0L1460.0 1753.8L1460.5 1754.1L1461.0 1753.9L1461.5 1755.4L1462.0 1755.6L1462.5 1756.1L1463.0 1755.6L1463.5 1755.1L1464.0 1754.9L1464.5 1756.9L1465.0 1754.0L1465.5 1754.0L1466.0 1756.2L1466.5 1755.6L1467.0 1755.0L1467.5 1755.5L1468.0 1756.0L1468.5 1754.3L1469.0 1755.1L1469.5 1755.8L1470.0 1756.0L1470.5 1756.4L1471.0 1755.6L1471.5 1755.1L1472.0 1754.6L1472.5 1755.2L1473.0 1754.8L1473.5 1755.1L1474.0 1755.6L1474.5 1755.1L1475.0 1753.0L1475.5 1754.7L1476.0 1753.3L1476.5 1753.0L1477.0 1755.7L1477.5 1754.5L1478.0 1753.9L1478.5 1754.1L1479.0 1755.2L1479.5 1756.1L1480.0 1755.6L1480.5 1754.3L1481.0 1753.6L1481.5 1754.3L1482.0 1755.2L1482.5 1754.7L1483.0 1753.6L1483.5 1754.6L1484.0 1754.7L1484.5 1753.3L1485.0 1754.7L1485.5 1755.3L1486.0 1754.7L1486.5 1753.6L1487.0 1753.8L1487.5 1754.0L1488.0 1753.5L1488.5 1754.2L1489.0 1753.9L1489.5 1753.9L1490.0 1753.8L1490.5 1753.3L1491.0 1752.4L1491.5 1753.4L1492.0 1752.8L1492.5 1753.7L1493.0 1753.4L1493.5 1752.6L1494.0 1753.1L1494.5 1752.2L1495.0 1751.2L1495.5 1753.0L1496.0 1752.7L1496.5 1751.5L1497.0 1750.4L1497.5 1750.6L1498.0 1751.9L1498.5 1751.3L1499.0 1750.9L1499.5 1750.9L1500.0 1750.1L1500.5 1749.9L1501.0 1751.1L1501.5 1750.2L1502.0 1749.9L1502.5 1749.9L1503.0 1750.0L1503.5 1749.6L1504.0 1748.5L1504.5 1748.7L1505.0 1749.6L1505.5 1748.0L1506.0 1748.7L1506.5 1746.9L1507.0 1745.3L1507.5 1745.6L1508.0 1744.7L1508.5 1743.7L1509.0 1742.6L1509.5 1740.5L1510.0 1741.2L1510.5 1739.4L1511.0 1737.4L1511.5 1735.0L1512.0 1734.3L1512.5 1731.7L1513.0 1729.5L1513.5 1726.8L1514.0 1724.6L1514.5 1721.5L1515.0 1717.5L1515.5 1715.7L1516.0 1713.8L1516.5 1709.9L1517.0 1707.9L1517.5 1707.3L1518.0 1703.6L1518.5 1703.9L1519.0 1700.8L1519.5 1699.5L1520.0 1699.2L1520.5 1698.2L1521.0 1698.1L1521.5 1695.1L1522.0 1694.6L1522.5 1692.8L1523.0 1690.5L1523.5 1688.9L1524.0 1685.3L1524.5 1682.2L1525.0 1677.6L1525.5 1674.2L1526.0 1667.9L1526.5 1663.0L1527.0 1657.9L1527.5 1651.7L1528.0 1644.6L1528.5 1638.7L1529.0 1631.9L1529.5 1625.4L1530.0 1618.0L1530.5 1612.0L1531.0 1605.4L1531.5 1598.0L1532.0 1593.3L1532.5 1588.6L1533.0 1584.9L1533.5 1580.8L1534.0 1578.7L1534.5 1579.0L1535.0 1580.7L1535.5 1581.3L1536.0 1585.4L1536.5 1588.7L1537.0 1593.6L1537.5 1599.2L1538.0 1605.1L1538.5 1611.9L1539.0 1619.5L1539.5 1627.2L1540.0 1633.7L1540.5 1641.4L1541.0 1647.6L1541.5 1655.4L1542.0 1662.9L1542.5 1669.5L1543.0 1674.9L1543.5 1680.9L1544.0 1686.2L1544.5 1691.2L1545.0 1697.3L1545.5 1701.1L1546.0 1706.9L1546.5 1708.6L1547.0 1712.6L1547.5 1716.2L1548.0 1720.4L1548.5 1723.2L1549.0 1725.2L1549.5 1725.8L1550.0 1730.4L1550.5 1730.6L1551.0 1734.5L1551.5 1735.0L1552.0 1735.7L1552.5 1736.9L1553.0 1739.3L1553.5 1738.7L1554.0 1739.1L1554.5 1739.1L1555.0 1741.6L1555.5 1742.0L1556.0 1744.0L1556.5 1744.2L1557.0 1745.8L1557.5 1745.5L1558.0 1745.7L1558.5 1747.7L1559.0 1747.3L1559.5 1747.6L1560.0 1748.1L1560.5 1749.2L1561.0 1748.4L1561.5 1750.4L1562.0 1749.6L1562.5 1748.9L1563.0 1749.2L1563.5 1750.1L1564.0 1750.0L1564.5 1750.5L1565.0 1751.0L1565.5 1751.2L1566.0 1751.2L1566.5 1751.0L1567.0 1750.2L1567.5 1752.7L1568.0 1752.2L1568.5 1752.6L1569.0 1752.5L1569.5 1753.1L1570.0 1752.7L1570.5 1753.4L1571.0 1752.3L1571.5 1752.5L1572.0 1753.1L1572.5 1753.0L1573.0 1753.7L1573.5 1752.4L1574.0 1753.4L1574.5 1752.8L1575.0 1752.1L1575.5 1754.0L1576.0 1753.8L1576.5 1753.2L1577.0 1753.4L1577.5 1754.4L1578.0 1753.9L1578.5 1753.9L1579.0 1754.5L1579.5 1754.4L1580.0 1753.2L1580.5 1755.0L1581.0 1753.9L1581.5 1753.9L1582.0 1752.2L1582.5 1751.9L1583.0 1754.3L1583.5 1754.0L1584.0 1754.2L1584.5 1754.6L1585.0 1755.0L1585.5 1755.5L1586.0 1755.7L1586.5 1754.2L1587.0 1754.3L1587.5 1754.8L1588.0 1755.7L1588.5 1755.5L1589.0 1754.3L1589.5 1753.9L1590.0 1755.0L1590.5 1754.7L1591.0 1755.5L1591.5 1755.6L1592.0 1755.2L1592.5 1754.4L1593.0 1754.2L1593.5 1755.2L1594.0 1755.8L1594.5 1755.1L1595.0 1755.4L1595.5 1754.6L1596.0 1755.5L1596.5 1755.0L1597.0 1754.5L1597.5 1754.1L1598.0 1754.3L1598.5 1754.4L1599.0 1755.8L1599.5 1755.2L1600.0 1755.5L1600.5 1753.8L1601.0 1755.9L1601.5 1755.1L1602.0 1754.9L1602.5 1753.9L1603.0 1754.6L1603.5 1755.9L1604.0 1755.1L1604.5 1755.2L1605.0 1754.5L1605.5 1755.3L1606.0 1755.4L1606.5 1755.1L1607.0 1754.3L1607.5 1754.8L1608.0 1755.2L1608.5 1757.8L1609.0 1754.5L1609.5 1757.0L1610.0 1756.8L1610.5 1756.0L1611.0 1756.6L1611.5 1756.3L1612.0 1756.3L1612.5 1755.5L1613.0 1754.4L1613.5 1757.5L1614.0 1756.5L1614.5 1754.5L1615.0 1756.1L1615.5 1755.0L1616.0 1755.2L1616.5 1754.2L1617.0 1754.4L1617.5 1756.6L1618.0 1754.8L1618.5 1755.2L1619.0 1755.7L1619.5 1756.2L1620.0 1754.9L1620.5 1756.3L1621.0 1756.3L1621.5 1755.1L1622.0 1754.9L1622.5 1756.1L1623.0 1755.8L1623.5 1757.0L1624.0 1754.7L1624.5 1756.3L1625.0 1755.7L1625.5 1755.1L1626.0 1756.2L1626.5 1755.4L1627.0 1756.3L1627.5 1757.3L1628.0 1755.6L1628.5 1756.6L1629.0 1756.3L1629.5 1755.7L1630.0 1756.0L1630.5 1756.2L1631.0 1756.2L1631.5 1755.6L1632.0 1755.8L1632.5 1757.2L1633.0 1755.8L1633.5 1755.8L1634.0 1757.1L1634.5 1756.9L1635.0 1755.1L1635.5 1756.7L1636.0 1757.6L1636.5 1757.0L1637.0 1756.0L1637.5 1757.1L1638.0 1755.8L1638.5 1757.4L1639.0 1757.3L1639.5 1757.3L1640.0 1756.8L1640.5 1757.2L1641.0 1756.4L1641.5 1757.4L1642.0 1757.0L1642.5 1755.2L1643.0 1755.2L1643.5 1756.5L1644.0 1757.2L1644.5 1757.4L1645.0 1756.2L1645.5 1756.8L1646.0 1756.4L1646.5 1755.6L1647.0 1756.0L1647.5 1757.1L1648.0 1756.1L1648.5 1757.8L1649.0 1755.6L1649.5 1756.5L1650.0 1756.9L1650.5 1756.9L1651.0 1756.9L1651.5 1755.8L1652.0 1756.7L1652.5 1757.9L1653.0 1757.4L1653.5 1757.3L1654.0 1756.9L1654.5 1756.7L1655.0 1757.0L1655.5 1756.6L1656.0 1757.9L1656.5 1757.0L1657.0 1757.0L1657.5 1756.9L1658.0 1756.6L1658.5 1755.8L1659.0 1756.9L1659.5 1756.2L1660.0 1756.1L1660.5 1756.7L1661.0 1757.6L1661.5 1755.9L1662.0 1756.6L1662.5 1757.6L1663.0 1755.7L1663.5 1756.9L1664.0 1756.4L1664.5 1757.4L1665.0 1757.7L1665.5 1756.6L1666.0 1757.1L1666.5 1756.9L1667.0 1758.0L1667.5 1754.3L1668.0 1756.1L1668.5 1756.5L1669.0 1756.2L1669.5 1757.6L1670.0 1757.2L1670.5 1756.4L1671.0 1755.3L1671.5 1757.1L1672.0 1756.3L1672.5 1756.1L1673.0 1757.0L1673.5 1757.8L1674.0 1756.8L1674.5 1757.5L1675.0 1754.9L1675.5 1756.7L1676.0 1757.7L1676.5 1756.9L1677.0 1755.7L1677.5 1755.0L1678.0 1756.2L1678.5 1755.2L1679.0 1755.2L1679.5 1754.7L1680.0 1755.2L1680.5 1756.0L1681.0 1755.2L1681.5 1754.8L1682.0 1754.5L1682.5 1755.2L1683.0 1755.6L1683.5 1755.5L1684.0 1753.7L1684.5 1755.8L1685.0 1755.3L1685.5 1755.4L1686.0 1754.8L1686.5 1756.5L1687.0 1757.0L1687.5 1756.3L1688.0 1757.2L1688.5 1755.8L1689.0 1755.3L1689.5 1754.3L1690.0 1755.6L1690.5 1755.8L1691.0 1757.1L1691.5 1755.3L1692.0 1756.1L1692.5 1756.1L1693.0 1755.8L1693.5 1755.8L1694.0 1756.4L1694.5 1755.0L1695.0 1755.6L1695.5 1755.7L1696.0 1756.6L1696.5 1756.4L1697.0 1756.2L1697.5 1756.5L1698.0 1754.1L1698.5 1755.7L1699.0 1755.0L1699.5 1754.3L1700.0 1756.2L1700.5 1755.5L1701.0 1755.1L1701.5 1754.3L1702.0 1755.3L1702.5 1756.3L1703.0 1755.4L1703.5 1755.7L1704.0 1755.8L1704.5 1754.8L1705.0 1754.7L1705.5 1754.7L1706.0 1754.7L1706.5 1754.4L1707.0 1754.8L1707.5 1754.5L1708.0 1755.6L1708.5 1754.3L1709.0 1755.9L1709.5 1754.2L1710.0 1754.5L1710.5 1755.6L1711.0 1755.1L1711.5 1754.2L1712.0 1756.0L1712.5 1756.4L1713.0 1753.8L1713.5 1755.5L1714.0 1754.9L1714.5 1755.1L1715.0 1755.9L1715.5 1753.5L1716.0 1754.3L1716.5 1755.7L1717.0 1755.2L1717.5 1755.4L1718.0 1754.6L1718.5 1754.6L1719.0 1754.7L1719.5 1755.5L1720.0 1754.9L1720.5 1755.2L1721.0 1756.4L1721.5 1753.2L1722.0 1754.7L1722.5 1754.3L1723.0 1753.5L1723.5 1754.0L1724.0 1753.3L1724.5 1753.1L1725.0 1754.1L1725.5 1755.5L1726.0 1754.0L1726.5 1754.7L1727.0 1753.9L1727.5 1753.6L1728.0 1753.1L1728.5 1754.2L1729.0 1754.5L1729.5 1753.0L1730.0 1752.8L1730.5 1754.8L1731.0 1753.7L1731.5 1752.9L1732.0 1754.5L1732.5 1754.0L1733.0 1753.4L1733.5 1753.8L1734.0 1753.3L1734.5 1755.5L1735.0 1751.8L1735.5 1752.7L1736.0 1753.9L1736.5 1753.6L1737.0 1752.2L1737.5 1752.8L1738.0 1752.7L1738.5 1753.7L1739.0 1753.5L1739.5 1753.4L1740.0 1752.5L1740.5 1753.0L1741.0 1752.6L1741.5 1751.9L1742.0 1752.0L1742.5 1752.5L1743.0 1752.2L1743.5 1752.1L1744.0 1751.9L1744.5 1751.8L1745.0 1753.2L1745.5 1752.0L1746.0 1752.5L1746.5 1753.4L1747.0 1753.7L1747.5 1753.0L1748.0 1752.4L1748.5 1751.6L1749.0 1752.0L1749.5 1752.8L1750.0 1753.2L1750.5 1752.1L1751.0 1753.0L1751.5 1752.9L1752.0 1752.5L1752.5 1751.3L1753.0 1750.8L1753.5 1752.4L1754.0 1750.0L1754.5 1751.0L1755.0 1752.9L1755.5 1750.6L1756.0 1749.6L1756.5 1750.8L1757.0 1749.5L1757.5 1749.5L1758.0 1748.3L1758.5 1748.8L1759.0 1750.1L1759.5 1748.6L1760.0 1748.2L1760.5 1748.5L1761.0 1748.5L1761.5 1749.2L1762.0 1749.0L1762.5 1748.9L1763.0 1747.5L1763.5 1748.1L1764.0 1746.9L1764.5 1749.3L1765.0 1747.8L1765.5 1748.1L1766.0 1749.6L1766.5 1749.3L1767.0 1748.6L1767.5 1748.5L1768.0 1748.3L1768.5 1749.1L1769.0 1750.7L1769.5 1748.1L1770.0 1750.2L1770.5 1750.2L1771.0 1748.8L1771.5 1749.7L1772.0 1749.9L1772.5 1749.6L1773.0 1750.0L1773.5 1751.5L1774.0 1750.4L1774.5 1750.1L1775.0 1749.8L1775.5 1750.4L1776.0 1750.6L1776.5 1751.0L1777.0 1751.8L1777.5 1750.7L1778.0 1750.0L1778.5 1751.3L1779.0 1751.3L1779.5 1750.8L1780.0 1751.7L1780.5 1750.8L1781.0 1751.4L1781.5 1750.8L1782.0 1751.0L1782.5 1751.1L1783.0 1749.9L1783.5 1750.9L1784.0 1750.2L1784.5 1748.9L1785.0 1750.1L1785.5 1751.2L1786.0 1751.4L1786.5 1749.9L1787.0 1750.5L1787.5 1749.5L1788.0 1750.7L1788.5 1749.0L1789.0 1749.4L1789.5 1750.9L1790.0 1751.0L1790.5 1750.1L1791.0 1751.1L1791.5 1751.9L1792.0 1750.7L1792.5 1751.1L1793.0 1749.8L1793.5 1749.4L1794.0 1751.5L1794.5 1750.2L1795.0 1750.1L1795.5 1749.1L1796.0 1750.5L1796.5 1750.8L1797.0 1751.1L1797.5 1750.4L1798.0 1751.2L1798.5 1750.4L1799.0 1749.7L1799.5 1750.0L1800.0 1750.0L1800.5 1749.9L1801.0 1750.0L1801.5 1751.1L1802.0 1750.3L1802.5 1749.6L1803.0 1750.2L1803.5 1750.2L1804.0 1750.2L1804.5 1750.2L1805.0 1749.5L1805.5 1751.1L1806.0 1749.2L1806.5 1749.6L1807.0 1749.3L1807.5 1750.2L1808.0 1750.1L1808.5 1750.8L1809.0 1749.9L1809.5 1751.3L1810.0 1750.2L1810.5 1752.3L1811.0 1751.1L1811.5 1752.5L1812.0 1752.3L1812.5 1750.2L1813.0 1752.4L1813.5 1750.7L1814.0 1748.9L1814.5 1750.5L1815.0 1750.5L1815.5 1751.6L1816.0 1748.7L1816.5 1748.1L1817.0 1750.3L1817.5 1749.9L1818.0 1749.4L1818.5 1750.2L1819.0 1751.5L1819.5 1750.3L1820.0 1751.1L1820.5 1749.9L1821.0 1749.8L1821.5 1750.4L1822.0 1751.8L1822.5 1751.6L1823.0 1751.1L1823.5 1750.1L1824.0 1750.4L1824.5 1750.2L1825.0 1748.7L1825.5 1749.3L1826.0 1750.7L1826.5 1748.6L1827.0 1749.7L1827.5 1749.2L1828.0 1749.4L1828.5 1750.4L1829.0 1749.1L1829.5 1750.0L1830.0 1749.0L1830.5 1750.0L1831.0 1748.5L1831.5 1749.8L1832.0 1748.8L1832.5 1748.0L1833.0 1747.8L1833.5 1747.1L1834.0 1749.4L1834.5 1748.1L1835.0 1749.4L1835.5 1750.0L1836.0 1746.9L1836.5 1748.3L1837.0 1747.4L1837.5 1747.5L1838.0 1747.3L1838.5 1745.6L1839.0 1746.7L1839.5 1745.0L1840.0 1745.3L1840.5 1743.3L1841.0 1742.1L1841.5 1740.7L1842.0 1741.7L1842.5 1738.0L1843.0 1735.1L1843.5 1736.2L1844.0 1734.2L1844.5 1733.7L1845.0 1732.5L1845.5 1731.8L1846.0 1730.0L1846.5 1729.2L1847.0 1728.9L1847.5 1728.5L1848.0 1726.3L1848.5 1728.4L1849.0 1726.3L1849.5 1727.5L1850.0 1728.7L1850.5 1728.2L1851.0 1729.4L1851.5 1732.1L1852.0 1733.5L1852.5 1732.4L1853.0 1734.7L1853.5 1736.4L1854.0 1738.7L1854.5 1739.1L1855.0 1740.3L1855.5 1740.9L1856.0 1741.9L1856.5 1743.7L1857.0 1743.3L1857.5 1744.1L1858.0 1743.2L1858.5 1744.1L1859.0 1744.4L1859.5 1745.8L1860.0 1746.0L1860.5 1746.1L1861.0 1747.5L1861.5 1745.9L1862.0 1747.3L1862.5 1747.0L1863.0 1746.6L1863.5 1746.6L1864.0 1746.9L1864.5 1747.5L1865.0 1747.2L1865.5 1745.3L1866.0 1746.3L1866.5 1745.7L1867.0 1747.0L1867.5 1746.9L1868.0 1746.6L1868.5 1746.4L1869.0 1746.4L1869.5 1744.7L1870.0 1746.5L1870.5 1746.4L1871.0 1746.0L1871.5 1745.6L1872.0 1745.6L1872.5 1746.0L1873.0 1746.0L1873.5 1744.7L1874.0 1746.9L1874.5 1747.2L1875.0 1748.3L1875.5 1748.9L1876.0 1748.2L1876.5 1747.7L1877.0 1747.8L1877.5 1748.7L1878.0 1749.2L1878.5 1747.6L1879.0 1749.4L1879.5 1748.9L1880.0 1749.3L1880.5 1749.3L1881.0 1750.2L1881.5 1749.3L1882.0 1750.1L1882.5 1749.1L1883.0 1751.0L1883.5 1750.8L1884.0 1750.0L1884.5 1749.9L1885.0 1749.4L1885.5 1750.4L1886.0 1750.4L1886.5 1749.9L1887.0 1749.8L1887.5 1750.0L1888.0 1749.5L1888.5 1750.1L1889.0 1750.5L1889.5 1751.7L1890.0 1749.9L1890.5 1749.3L1891.0 1750.5L1891.5 1750.0L1892.0 1749.4L1892.5 1750.3L1893.0 1749.4L1893.5 1751.0L1894.0 1750.7L1894.5 1749.9L1895.0 1750.1L1895.5 1751.6L1896.0 1749.8L1896.5 1749.8L1897.0 1750.2L1897.5 1750.0L1898.0 1749.9L1898.5 1750.4L1899.0 1748.8L1899.5 1750.2L1900.0 1751.3L1900.5 1751.4L1901.0 1750.0L1901.5 1750.7L1902.0 1751.1L1902.5 1749.7L1903.0 1750.2L1903.5 1750.3L1904.0 1748.8L1904.5 1750.6L1905.0 1750.2L1905.5 1749.9L1906.0 1749.7L1906.5 1748.5L1907.0 1750.3L1907.5 1751.0L1908.0 1751.4L1908.5 1750.8L1909.0 1750.4L1909.5 1750.4L1910.0 1751.6L1910.5 1752.1L1911.0 1750.4L1911.5 1748.8L1912.0 1751.2L1912.5 1752.2L1913.0 1749.7L1913.5 1750.4L1914.0 1749.7L1914.5 1751.5L1915.0 1753.4L1915.5 1753.0L1916.0 1751.1L1916.5 1751.3L1917.0 1752.5L1917.5 1752.2L1918.0 1751.2L1918.5 1752.8L1919.0 1751.7L1919.5 1752.3L1920.0 1752.3L1920.5 1751.8L1921.0 1751.0L1921.5 1751.4L1922.0 1752.1L1922.5 1751.8L1923.0 1753.1L1923.5 1753.3L1924.0 1753.1L1924.5 1753.3L1925.0 1754.2L1925.5 1752.4L1926.0 1752.7L1926.5 1754.2L1927.0 1752.7L1927.5 1752.5L1928.0 1752.8L1928.5 1752.6L1929.0 1751.4L1929.5 1752.2L1930.0 1752.6L1930.5 1751.4L1931.0 1751.5L1931.5 1752.5L1932.0 1751.2L1932.5 1751.1L1933.0 1752.1L1933.5 1752.9L1934.0 1752.4L1934.5 1751.2L1935.0 1752.5L1935.5 1753.3L1936.0 1754.5L1936.5 1753.3L1937.0 1755.1L1937.5 1752.6L1938.0 1753.2L1938.5 1753.5L1939.0 1753.9L1939.5 1753.6L1940.0 1754.1L1940.5 1753.3L1941.0 1753.8L1941.5 1754.0L1942.0 1753.7L1942.5 1753.5L1943.0 1753.3L1943.5 1752.9L1944.0 1755.3L1944.5 1752.9L1945.0 1754.5L1945.5 1754.3L1946.0 1753.4L1946.5 1753.3L1947.0 1752.8L1947.5 1753.2L1948.0 1752.2L1948.5 1752.7L1949.0 1753.7L1949.5 1753.0L1950.0 1750.8L1950.5 1751.6L1951.0 1750.6L1951.5 1749.2L1952.0 1750.4L1952.5 1747.9L1953.0 1749.2L1953.5 1750.2L1954.0 1749.6L1954.5 1747.7L1955.0 1748.4L1955.5 1748.7L1956.0 1749.2L1956.5 1750.2L1957.0 1750.5L1957.5 1751.5L1958.0 1750.0L1958.5 1751.1L1959.0 1751.9L1959.5 1752.0L1960.0 1751.1L1960.5 1752.9L1961.0 1753.5L1961.5 1753.4L1962.0 1753.1L1962.5 1754.8L1963.0 1754.6L1963.5 1754.1L1964.0 1754.8L1964.5 1754.5L1965.0 1754.2L1965.5 1754.2L1966.0 1754.0L1966.5 1754.9L1967.0 1754.4L1967.5 1755.6L1968.0 1755.0L1968.5 1755.8L1969.0 1754.5L1969.5 1754.8L1970.0 1755.0L1970.5 1755.7L1971.0 1755.5L1971.5 1754.9L1972.0 1754.6L1972.5 1754.5L1973.0 1754.5L1973.5 1754.5L1974.0 1752.2L1974.5 1753.7L1975.0 1752.6L1975.5 1752.5L1976.0 1751.6L1976.5 1752.8L1977.0 1753.2L1977.5 1752.8L1978.0 1751.4L1978.5 1751.0L1979.0 1752.8L1979.5 1751.9L1980.0 1751.1L1980.5 1752.9L1981.0 1750.6L1981.5 1752.8L1982.0 1752.0L1982.5 1753.8L1983.0 1752.5L1983.5 1752.7L1984.0 1753.2L1984.5 1752.7L1985.0 1752.9L1985.5 1753.8L1986.0 1754.0L1986.5 1753.6L1987.0 1754.7L1987.5 1756.7L1988.0 1754.6L1988.5 1756.5L1989.0 1758.3L1989.5 1756.7L1990.0 1758.4L1990.5 1758.1L1991.0 1757.6L1991.5 1758.7L1992.0 1758.6L1992.5 1758.1L1993.0 1757.8L1993.5 1758.7L1994.0 1758.6L1994.5 1757.9L1995.0 1757.6L1995.5 1757.9L1996.0 1757.9L1996.5 1757.8L1997.0 1759.2L1997.5 1758.0L1998.0 1759.2L1998.5 1758.8L1999.0 1758.7L1999.5 1758.3L2000.0 1757.9L2000.5 1758.1L2001.0 1759.7L2001.5 1759.3L2002.0 1758.4L2002.5 1759.4L2003.0 1758.6L2003.5 1758.8L2004.0 1757.9L2004.5 1758.1L2005.0 1758.1L2005.5 1759.1L2006.0 1759.2L2006.5 1758.6L2007.0 1758.8L2007.5 1758.6L2008.0 1758.8L2008.5 1759.7L2009.0 1758.7L2009.5 1760.1L2010.0 1759.9L2010.5 1759.8L2011.0 1759.3L2011.5 1758.9L2012.0 1760.1L2012.5 1758.7L2013.0 1758.0L2013.5 1757.5L2014.0 1757.6L2014.5 1758.1L2015.0 1758.0L2015.5 1758.8L2016.0 1757.8L2016.5 1757.8L2017.0 1758.7L2017.5 1758.0L2018.0 1760.0L2018.5 1758.0L2019.0 1758.8L2019.5 1758.5L2020.0 1759.5L2020.5 1760.4L2021.0 1759.1L2021.5 1758.1L2022.0 1759.4L2022.5 1759.4L2023.0 1759.7L2023.5 1758.5L2024.0 1758.5L2024.5 1758.4L2025.0 1758.6L2025.5 1758.9L2026.0 1760.2L2026.5 1759.9L2027.0 1759.2L2027.5 1758.1L2028.0 1760.5L2028.5 1760.0L2029.0 1760.1L2029.5 1757.2L2030.0 1760.6L2030.5 1757.9L2031.0 1757.9L2031.5 1758.3L2032.0 1758.8L2032.5 1759.6L2033.0 1757.0L2033.5 1759.3L2034.0 1759.7L2034.5 1760.0L2035.0 1759.8L2035.5 1759.4L2036.0 1758.6L2036.5 1758.0L2037.0 1758.5L2037.5 1757.8L2038.0 1759.5L2038.5 1758.9L2039.0 1759.0L2039.5 1759.6L2040.0 1759.7L2040.5 1758.9L2041.0 1758.2L2041.5 1757.4L2042.0 1759.2L2042.5 1757.4L2043.0 1758.4L2043.5 1758.4L2044.0 1758.1L2044.5 1758.8L2045.0 1759.4L2045.5 1759.9L2046.0 1758.6L2046.5 1757.9L2047.0 1759.1L2047.5 1758.5L2048.0 1758.5L2048.5 1759.2L2049.0 1760.2L2049.5 1759.4L2050.0 1759.4L2050.5 1760.0L2051.0 1759.5L2051.5 1758.0L2052.0 1758.3L2052.5 1758.5L2053.0 1760.1L2053.5 1757.7L2054.0 1758.7L2054.5 1756.7L2055.0 1758.2L2055.5 1757.9L2056.0 1758.0L2056.5 1759.1L2057.0 1757.9L2057.5 1759.1L2058.0 1758.4L2058.5 1758.0L2059.0 1757.4L2059.5 1759.5L2060.0 1758.2L2060.5 1759.3L2061.0 1759.9L2061.5 1758.2L2062.0 1758.7L2062.5 1759.4L2063.0 1758.3L2063.5 1756.9L2064.0 1758.8L2064.5 1757.5L2065.0 1756.8L2065.5 1757.0L2066.0 1758.3L2066.5 1756.5L2067.0 1756.8L2067.5 1756.1L2068.0 1757.6L2068.5 1757.0L2069.0 1758.0L2069.5 1757.4L2070.0 1756.8L2070.5 1757.4L2071.0 1757.3L2071.5 1756.4L2072.0 1757.0L2072.5 1757.9L2073.0 1756.8L2073.5 1754.7L2074.0 1754.7L2074.5 1755.6L2075.0 1757.0L2075.5 1756.8L2076.0 1757.4L2076.5 1756.8L2077.0 1756.8L2077.5 1756.5L2078.0 1757.0L2078.5 1757.0L2079.0 1756.8L2079.5 1756.1L2080.0 1755.7L2080.5 1757.4L2081.0 1756.5L2081.5 1756.6L2082.0 1755.9L2082.5 1756.4L2083.0 1756.7L2083.5 1756.3L2084.0 1756.0L2084.5 1757.1L2085.0 1757.4L2085.5 1756.0L2086.0 1756.4L2086.5 1758.0L2087.0 1756.6L2087.5 1756.8L2088.0 1756.8L2088.5 1757.6L2089.0 1757.5L2089.5 1758.2L2090.0 1756.7L2090.5 1757.0L2091.0 1757.4L2091.5 1757.1L2092.0 1756.4L2092.5 1756.8L2093.0 1756.7L2093.5 1756.8L2094.0 1755.9L2094.5 1757.5L2095.0 1756.5L2095.5 1756.6L2096.0 1755.2L2096.5 1756.5L2097.0 1757.5L2097.5 1757.8L2098.0 1756.2L2098.5 1758.5L2099.0 1759.0L2099.5 1757.2L2100.0 1758.4L2100.5 1756.9L2101.0 1758.1L2101.5 1758.1L2102.0 1758.5L2102.5 1758.4L2103.0 1757.4L2103.5 1757.8L2104.0 1758.0L2104.5 1757.3L2105.0 1758.3L2105.5 1757.3L2106.0 1757.9L2106.5 1758.5L2107.0 1757.4L2107.5 1758.5L2108.0 1756.2L2108.5 1757.7L2109.0 1759.8L2109.5 1757.4L2110.0 1757.2L2110.5 1758.4L2111.0 1757.5L2111.5 1757.3L2112.0 1757.3L2112.5 1758.7L2113.0 1757.8L2113.5 1756.5L2114.0 1758.5L2114.5 1758.5L2115.0 1758.1L2115.5 1757.6L2116.0 1757.0L2116.5 1758.9L2117.0 1755.8L2117.5 1757.9L2118.0 1758.1L2118.5 1758.1L2119.0 1758.3L2119.5 1758.4L2120.0 1757.3L2120.5 1758.0L2121.0 1758.0L2121.5 1757.8L2122.0 1758.0L2122.5 1757.7L2123.0 1758.6L2123.5 1756.4L2124.0 1757.0L2124.5 1758.3L2125.0 1756.4L2125.5 1757.3L2126.0 1756.9L2126.5 1755.6L2127.0 1756.9L2127.5 1757.2L2128.0 1756.7L2128.5 1758.0L2129.0 1757.9L2129.5 1757.8L2130.0 1756.6L2130.5 1758.0L2131.0 1758.1L2131.5 1758.1L2132.0 1758.3L2132.5 1756.9L2133.0 1757.1L2133.5 1756.4L2134.0 1757.5L2134.5 1756.6L2135.0 1758.2L2135.5 1757.9L2136.0 1756.4L2136.5 1757.9L2137.0 1757.1L2137.5 1755.9L2138.0 1758.0L2138.5 1756.8L2139.0 1757.1L2139.5 1757.8L2140.0 1757.7L2140.5 1759.2L2141.0 1757.5L2141.5 1757.1L2142.0 1756.6L2142.5 1755.4L2143.0 1756.6L2143.5 1757.1L2144.0 1758.7L2144.5 1757.0L2145.0 1756.0L2145.5 1757.3L2146.0 1756.9L2146.5 1757.2L2147.0 1756.7L2147.5 1756.0L2148.0 1755.3L2148.5 1756.3L2149.0 1756.5L2149.5 1757.0L2150.0 1758.0L2150.5 1756.9L2151.0 1756.6L2151.5 1755.3L2152.0 1757.8L2152.5 1756.3L2153.0 1756.7L2153.5 1756.4L2154.0 1757.1L2154.5 1756.7L2155.0 1756.8L2155.5 1756.7L2156.0 1757.8L2156.5 1756.3L2157.0 1756.9L2157.5 1758.4L2158.0 1756.7L2158.5 1759.0L2159.0 1757.4L2159.5 1758.6L2160.0 1758.7L2160.5 1757.3L2161.0 1757.9L2161.5 1758.8L2162.0 1757.9L2162.5 1759.4L2163.0 1758.3L2163.5 1757.6L2164.0 1758.6L2164.5 1757.9L2165.0 1759.0L2165.5 1756.7L2166.0 1758.9L2166.5 1759.2L2167.0 1758.8L2167.5 1757.6L2168.0 1755.9L2168.5 1756.7L2169.0 1757.5L2169.5 1758.5L2170.0 1757.5L2170.5 1756.8L2171.0 1757.3L2171.5 1758.1L2172.0 1756.7L2172.5 1756.9L2173.0 1757.0L2173.5 1757.2L2174.0 1757.2L2174.5 1757.3L2175.0 1755.5L2175.5 1757.0L2176.0 1756.5L2176.5 1755.8L2177.0 1756.6L2177.5 1756.5L2178.0 1756.2L2178.5 1756.9L2179.0 1756.0L2179.5 1756.0L2180.0 1755.7L2180.5 1755.4L2181.0 1755.1L2181.5 1754.7L2182.0 1755.9L2182.5 1754.9L2183.0 1754.7L2183.5 1755.2L2184.0 1754.1L2184.5 1755.4L2185.0 1752.9L2185.5 1753.7L2186.0 1752.8L2186.5 1753.2L2187.0 1753.8L2187.5 1753.5L2188.0 1754.8L2188.5 1753.3L2189.0 1753.4L2189.5 1753.1L2190.0 1752.6L2190.5 1753.7L2191.0 1754.2L2191.5 1752.1L2192.0 1751.4L2192.5 1751.3L2193.0 1752.0L2193.5 1752.3L2194.0 1752.3L2194.5 1750.1L2195.0 1750.6L2195.5 1751.5L2196.0 1752.1L2196.5 1751.4L2197.0 1751.3L2197.5 1752.2L2198.0 1751.3L2198.5 1750.7L2199.0 1752.7L2199.5 1752.4L2200.0 1751.8L2200.5 1752.3L2201.0 1751.9L2201.5 1753.7L2202.0 1753.4L2202.5 1754.0L2203.0 1753.8L2203.5 1753.4L2204.0 1755.8L2204.5 1754.6L2205.0 1755.1L2205.5 1755.8L2206.0 1756.3L2206.5 1755.5L2207.0 1754.1L2207.5 1755.6L2208.0 1755.1L2208.5 1755.8L2209.0 1756.9L2209.5 1756.6L2210.0 1756.4L2210.5 1756.8L2211.0 1757.4L2211.5 1758.5L2212.0 1758.4L2212.5 1757.2L2213.0 1758.5L2213.5 1758.4L2214.0 1758.7L2214.5 1758.6L2215.0 1758.7L2215.5 1758.9L2216.0 1758.3L2216.5 1759.3L2217.0 1759.3L2217.5 1757.8L2218.0 1757.4L2218.5 1758.0L2219.0 1758.4L2219.5 1758.2L2220.0 1757.9L2220.5 1758.1L2221.0 1759.0L2221.5 1759.7L2222.0 1758.3L2222.5 1758.7L2223.0 1757.9L2223.5 1758.3L2224.0 1758.6L2224.5 1758.7L2225.0 1759.1L2225.5 1758.2L2226.0 1758.9L2226.5 1758.2L2227.0 1759.4L2227.5 1759.3L2228.0 1758.9L2228.5 1759.5L2229.0 1759.4L2229.5 1759.7L2230.0 1761.0L2230.5 1760.6L2231.0 1758.9L2231.5 1760.7L2232.0 1759.4L2232.5 1760.8L2233.0 1759.2L2233.5 1758.6L2234.0 1759.1L2234.5 1758.5L2235.0 1759.2L2235.5 1758.0L2236.0 1758.0L2236.5 1756.6L2237.0 1757.8L2237.5 1757.6L2238.0 1757.3L2238.5 1758.4L2239.0 1758.2L2239.5 1757.8L2240.0 1757.4L2240.5 1756.8L2241.0 1756.6L2241.5 1758.1L2242.0 1758.0L2242.5 1757.4L2243.0 1758.4L2243.5 1758.1L2244.0 1758.3L2244.5 1759.8L2245.0 1758.1L2245.5 1759.5L2246.0 1758.9L2246.5 1758.1L2247.0 1758.5L2247.5 1757.9L2248.0 1757.3L2248.5 1755.7L2249.0 1755.7L2249.5 1755.6L2250.0 1755.8L2250.5 1756.0L2251.0 1756.7L2251.5 1755.6L2252.0 1756.2L2252.5 1755.9L2253.0 1755.8L2253.5 1754.6L2254.0 1754.3L2254.5 1754.6L2255.0 1753.7L2255.5 1753.6L2256.0 1752.1L2256.5 1753.6L2257.0 1753.1L2257.5 1751.8L2258.0 1753.0L2258.5 1753.0L2259.0 1751.7L2259.5 1750.6L2260.0 1751.3L2260.5 1750.9L2261.0 1751.1" fill="none" stroke="#0000ff" stroke-width="7.2" stroke-linejoin="round" stroke-linecap="round"/>
<path d="M985.5 1632.0L998.0 1632.0L998.0 1680.0L985.5 1680.0Z" fill="#0000ff" stroke="#0000ff" stroke-width="3" stroke-linejoin="round"/>
<path d="M1511.0 1700.0L1525.0 1700.0L1525.0 1711.0L1511.0 1711.0Z" fill="#0000ff" stroke="#0000ff" stroke-width="3" stroke-linejoin="round"/>
<path d="M229.5 2313.9L230.0 2312.5L230.5 2311.8L231.0 2310.7L231.5 2313.4L232.0 2314.9L232.5 2313.7L233.0 2314.5L233.5 2314.9L234.0 2313.1L234.5 2316.2L235.0 2312.9L235.5 2313.7L236.0 2316.1L236.5 2313.6L237.0 2313.8L237.5 2312.9L238.0 2313.4L238.5 2311.2L239.0 2312.7L239.5 2315.1L240.0 2313.9L240.5 2313.2L241.0 2313.5L241.5 2313.7L242.0 2313.4L242.5 2313.9L243.0 2311.4L243.5 2313.8L244.0 2312.0L244.5 2313.3L245.0 2312.2L245.5 2311.5L246.0 2312.6L246.5 2311.7L247.0 2313.7L247.5 2312.8L248.0 2313.3L248.5 2311.7L249.0 2314.4L249.5 2312.6L250.0 2314.2L250.5 2312.9L251.0 2311.0L251.5 2312.3L252.0 2311.5L252.5 2312.7L253.0 2313.8L253.5 2312.6L254.0 2313.1L254.5 2310.9L255.0 2312.7L255.5 2312.4L256.0 2313.4L256.5 2311.5L257.0 2312.6L257.5 2312.3L258.0 2310.7L258.5 2311.2L259.0 2313.0L259.5 2311.3L260.0 2311.7L260.5 2313.4L261.0 2312.8L261.5 2311.9L262.0 2312.2L262.5 2310.9L263.0 2310.2L263.5 2309.8L264.0 2310.3L264.5 2311.1L265.0 2309.2L265.5 2309.7L266.0 2309.8L266.5 2308.9L267.0 2310.9L267.5 2312.3L268.0 2310.7L268.5 2312.4L269.0 2311.3L269.5 2313.1L270.0 2313.4L270.5 2312.0L271.0 2310.1L271.5 2311.8L272.0 2310.9L272.5 2311.4L273.0 2313.0L273.5 2314.4L274.0 2312.8L274.5 2312.5L275.0 2310.8L275.5 2312.5L276.0 2311.8L276.5 2313.4L277.0 2312.2L277.5 2312.5L278.0 2312.6L278.5 2312.8L279.0 2314.0L279.5 2313.6L280.0 2313.2L280.5 2313.4L281.0 2314.1L281.5 2315.3L282.0 2314.4L282.5 2315.6L283.0 2313.8L283.5 2313.9L284.0 2313.2L284.5 2315.0L285.0 2313.5L285.5 2313.0L286.0 2314.7L286.5 2313.4L287.0 2313.1L287.5 2314.8L288.0 2314.0L288.5 2315.3L289.0 2314.4L289.5 2316.1L290.0 2317.0L290.5 2316.3L291.0 2318.4L291.5 2316.7L292.0 2316.8L292.5 2317.4L293.0 2318.2L293.5 2316.8L294.0 2316.3L294.5 2317.1L295.0 2317.9L295.5 2316.3L296.0 2315.7L296.5 2317.0L297.0 2317.5L297.5 2316.1L298.0 2317.3L298.5 2315.2L299.0 2317.1L299.5 2317.3L300.0 2318.0L300.5 2317.9L301.0 2318.7L301.5 2317.4L302.0 2319.1L302.5 2316.3L303.0 2317.7L303.5 2319.9L304.0 2319.9L304.5 2316.7L305.0 2318.8L305.5 2317.9L306.0 2317.5L306.5 2318.9L307.0 2319.4L307.5 2320.7L308.0 2317.5L308.5 2318.7L309.0 2319.3L309.5 2318.0L310.0 2321.2L310.5 2322.2L311.0 2320.1L311.5 2321.1L312.0 2320.6L312.5 2321.8L313.0 2320.8L313.5 2322.2L314.0 2320.5L314.5 2323.2L315.0 2322.0L315.5 2324.0L316.0 2320.3L316.5 2322.1L317.0 2320.8L317.5 2321.8L318.0 2322.5L318.5 2320.9L319.0 2320.5L319.5 2320.5L320.0 2322.6L320.5 2323.3L321.0 2323.0L321.5 2321.8L322.0 2320.6L322.5 2320.5L323.0 2318.7L323.5 2317.4L324.0 2318.8L324.5 2316.2L325.0 2315.6L325.5 2313.7L326.0 2313.9L326.5 2312.2L327.0 2308.6L327.5 2307.8L328.0 2306.1L328.5 2306.8L329.0 2305.4L329.5 2303.0L330.0 2304.5L330.5 2301.9L331.0 2301.1L331.5 2300.8L332.0 2303.4L332.5 2305.0L333.0 2305.2L333.5 2307.8L334.0 2310.0L334.5 2311.2L335.0 2313.5L335.5 2315.9L336.0 2316.4L336.5 2317.0L337.0 2319.4L337.5 2321.3L338.0 2324.1L338.5 2322.8L339.0 2322.1L339.5 2325.0L340.0 2325.6L340.5 2325.8L341.0 2327.4L341.5 2327.9L342.0 2329.0L342.5 2327.3L343.0 2328.1L343.5 2329.4L344.0 2329.3L344.5 2331.9L345.0 2331.1L345.5 2330.5L346.0 2332.4L346.5 2331.6L347.0 2332.1L347.5 2331.8L348.0 2331.1L348.5 2331.5L349.0 2331.6L349.5 2331.2L350.0 2332.3L350.5 2333.5L351.0 2333.0L351.5 2332.5L352.0 2336.5L352.5 2333.3L353.0 2335.0L353.5 2335.2L354.0 2335.6L354.5 2333.6L355.0 2335.0L355.5 2335.1L356.0 2336.6L356.5 2335.5L357.0 2335.4L357.5 2335.9L358.0 2337.5L358.5 2336.4L359.0 2337.0L359.5 2335.1L360.0 2336.8L360.5 2334.8L361.0 2337.4L361.5 2337.2L362.0 2336.1L362.5 2336.4L363.0 2337.9L363.5 2338.4L364.0 2338.2L364.5 2338.3L365.0 2338.6L365.5 2339.0L366.0 2339.5L366.5 2340.1L367.0 2341.1L367.5 2340.5L368.0 2339.6L368.5 2342.2L369.0 2341.9L369.5 2340.4L370.0 2341.2L370.5 2339.9L371.0 2340.2L371.5 2340.5L372.0 2343.2L372.5 2341.7L373.0 2341.8L373.5 2342.2L374.0 2342.2L374.5 2343.6L375.0 2344.0L375.5 2345.4L376.0 2342.4L376.5 2345.0L377.0 2344.2L377.5 2342.4L378.0 2345.0L378.5 2345.8L379.0 2345.6L379.5 2344.6L380.0 2344.2L380.5 2342.6L381.0 2345.0L381.5 2344.8L382.0 2343.6L382.5 2345.3L383.0 2344.4L383.5 2347.4L384.0 2344.3L384.5 2345.6L385.0 2344.4L385.5 2345.9L386.0 2346.7L386.5 2346.6L387.0 2345.5L387.5 2347.2L388.0 2347.0L388.5 2347.8L389.0 2346.3L389.5 2345.1L390.0 2347.5L390.5 2347.1L391.0 2348.9L391.5 2347.6L392.0 2348.3L392.5 2348.6L393.0 2347.7L393.5 2349.2L394.0 2350.1L394.5 2348.7L395.0 2349.2L395.5 2350.2L396.0 2349.7L396.5 2350.1L397.0 2351.1L397.5 2350.5L398.0 2350.9L398.5 2351.2L399.0 2350.3L399.5 2350.1L400.0 2353.3L400.5 2352.8L401.0 2351.5L401.5 2352.2L402.0 2351.9L402.5 2351.7L403.0 2350.6L403.5 2349.7L404.0 2350.1L404.5 2351.2L405.0 2352.7L405.5 2353.4L406.0 2352.0L406.5 2352.0L407.0 2354.0L407.5 2354.4L408.0 2351.1L408.5 2352.6L409.0 2352.2L409.5 2352.2L410.0 2352.2L410.5 2352.1L411.0 2352.5L411.5 2351.6L412.0 2353.6L412.5 2354.9L413.0 2354.9L413.5 2355.0L414.0 2354.6L414.5 2354.6L415.0 2356.8L415.5 2355.5L416.0 2355.3L416.5 2356.3L417.0 2355.4L417.5 2354.4L418.0 2355.5L418.5 2355.9L419.0 2356.3L419.5 2356.0L420.0 2357.0L420.5 2357.1L421.0 2357.3L421.5 2356.4L422.0 2357.8L422.5 2358.0L423.0 2359.4L423.5 2356.8L424.0 2357.3L424.5 2359.3L425.0 2357.3L425.5 2358.4L426.0 2358.3L426.5 2358.2L427.0 2357.4L427.5 2358.3L428.0 2357.0L428.5 2360.1L429.0 2358.4L429.5 2359.0L430.0 2359.1L430.5 2359.2L431.0 2359.6L431.5 2359.9L432.0 2359.0L432.5 2359.3L433.0 2358.1L433.5 2358.0L434.0 2358.0L434.5 2357.8L435.0 2357.8L435.5 2358.5L436.0 2360.3L436.5 2360.6L437.0 2360.2L437.5 2361.2L438.0 2361.6L438.5 2364.4L439.0 2360.5L439.5 2363.1L440.0 2361.8L440.5 2364.6L441.0 2363.1L441.5 2363.6L442.0 2363.2L442.5 2364.0L443.0 2360.3L443.5 2362.2L444.0 2363.1L444.5 2361.7L445.0 2363.2L445.5 2364.0L446.0 2361.7L446.5 2363.1L447.0 2364.1L447.5 2365.6L448.0 2365.0L448.5 2364.7L449.0 2363.5L449.5 2364.7L450.0 2364.4L450.5 2364.2L451.0 2365.4L451.5 2365.1L452.0 2364.5L452.5 2367.3L453.0 2365.1L453.5 2367.1L454.0 2364.5L454.5 2365.5L455.0 2364.1L455.5 2365.0L456.0 2366.8L456.5 2366.0L457.0 2364.2L457.5 2367.8L458.0 2365.5L458.5 2366.6L459.0 2366.9L459.5 2365.2L460.0 2368.5L460.5 2368.6L461.0 2367.4L461.5 2367.8L462.0 2367.3L462.5 2367.7L463.0 2368.1L463.5 2367.1L464.0 2368.3L464.5 2368.3L465.0 2370.6L465.5 2366.9L466.0 2369.4L466.5 2369.3L467.0 2368.2L467.5 2367.6L468.0 2370.3L468.5 2370.3L469.0 2368.7L469.5 2369.0L470.0 2369.6L470.5 2371.4L471.0 2368.6L471.5 2370.1L472.0 2370.8L472.5 2368.5L473.0 2369.8L473.5 2371.2L474.0 2369.9L474.5 2370.4L475.0 2369.4L475.5 2371.6L476.0 2369.9L476.5 2371.2L477.0 2372.1L477.5 2371.2L478.0 2372.5L478.5 2372.1L479.0 2372.1L479.5 2372.6L480.0 2371.4L480.5 2369.9L481.0 2372.6L481.5 2372.3L482.0 2370.9L482.5 2370.7L483.0 2373.1L483.5 2371.2L484.0 2371.8L484.5 2371.5L485.0 2374.2L485.5 2371.7L486.0 2369.8L486.5 2372.2L487.0 2371.2L487.5 2370.7L488.0 2373.1L488.5 2371.5L489.0 2373.1L489.5 2371.9L490.0 2373.0L490.5 2373.0L491.0 2372.7L491.5 2373.4L492.0 2374.5L492.5 2373.2L493.0 2371.8L493.5 2373.1L494.0 2373.4L494.5 2375.1L495.0 2373.8L495.5 2374.7L496.0 2373.6L496.5 2373.4L497.0 2373.3L497.5 2373.6L498.0 2373.4L498.5 2374.0L499.0 2372.8L499.5 2372.6L500.0 2374.0L500.5 2374.8L501.0 2374.6L501.5 2375.5L502.0 2375.3L502.5 2376.9L503.0 2373.5L503.5 2377.2L504.0 2372.8L504.5 2373.3L505.0 2375.0L505.5 2373.8L506.0 2374.2L506.5 2374.3L507.0 2374.0L507.5 2374.3L508.0 2375.4L508.5 2376.3L509.0 2376.9L509.5 2376.7L510.0 2376.6L510.5 2378.4L511.0 2375.0L511.5 2377.1L512.0 2378.3L512.5 2378.3L513.0 2378.1L513.5 2378.4L514.0 2378.0L514.5 2377.0L515.0 2374.8L515.5 2376.5L516.0 2376.7L516.5 2378.9L517.0 2376.8L517.5 2376.9L518.0 2378.1L518.5 2376.5L519.0 2377.9L519.5 2378.2L520.0 2377.3L520.5 2377.8L521.0 2376.0L521.5 2376.8L522.0 2377.8L522.5 2378.8L523.0 2376.9L523.5 2376.2L524.0 2376.7L524.5 2378.6L525.0 2376.4L525.5 2377.9L526.0 2377.6L526.5 2378.3L527.0 2378.2L527.5 2379.3L528.0 2380.1L528.5 2378.7L529.0 2378.3L529.5 2376.6L530.0 2379.8L530.5 2378.4L531.0 2379.2L531.5 2378.7L532.0 2377.7L532.5 2378.5L533.0 2377.9L533.5 2381.2L534.0 2379.7L534.5 2379.9L535.0 2380.4L535.5 2380.6L536.0 2379.9L536.5 2380.4L537.0 2381.3L537.5 2377.3L538.0 2379.7L538.5 2379.1L539.0 2379.7L539.5 2377.7L540.0 2379.3L540.5 2381.7L541.0 2379.2L541.5 2380.8L542.0 2379.0L542.5 2379.6L543.0 2378.4L543.5 2379.5L544.0 2378.1L544.5 2380.4L545.0 2377.6L545.5 2380.3L546.0 2379.6L546.5 2380.6L547.0 2382.1L547.5 2380.5L548.0 2380.2L548.5 2381.2L549.0 2381.7L549.5 2380.6L550.0 2383.1L550.5 2381.7L551.0 2381.2L551.5 2380.7L552.0 2381.5L552.5 2382.4L553.0 2382.9L553.5 2382.2L554.0 2381.4L554.5 2381.8L555.0 2379.6L555.5 2382.9L556.0 2382.3L556.5 2381.3L557.0 2382.1L557.5 2380.2L558.0 2382.6L558.5 2381.2L559.0 2380.8L559.5 2383.6L560.0 2380.6L560.5 2382.3L561.0 2381.1L561.5 2381.5L562.0 2381.9L562.5 2382.2L563.0 2384.1L563.5 2384.0L564.0 2382.3L564.5 2385.4L565.0 2383.4L565.5 2383.4L566.0 2383.7L566.5 2382.5L567.0 2385.0L567.5 2382.7L568.0 2382.1L568.5 2384.9L569.0 2383.2L569.5 2383.5L570.0 2382.3L570.5 2383.5L571.0 2384.4L571.5 2381.3L572.0 2383.8L572.5 2383.5L573.0 2385.5L573.5 2385.8L574.0 2384.6L574.5 2385.3L575.0 2385.1L575.5 2384.3L576.0 2382.6L576.5 2382.8L577.0 2383.5L577.5 2382.7L578.0 2384.3L578.5 2384.3L579.0 2382.6L579.5 2384.5L580.0 2385.7L580.5 2384.4L581.0 2384.4L581.5 2383.7L582.0 2383.1L582.5 2382.3L583.0 2382.3L583.5 2384.7L584.0 2385.0L584.5 2384.1L585.0 2384.1L585.5 2382.8L586.0 2384.3L586.5 2385.6L587.0 2385.4L587.5 2385.4L588.0 2384.0L588.5 2384.3L589.0 2385.1L589.5 2386.5L590.0 2385.3L590.5 2384.4L591.0 2384.8L591.5 2384.9L592.0 2386.3L592.5 2386.5L593.0 2384.1L593.5 2384.5L594.0 2385.9L594.5 2385.7L595.0 2384.4L595.5 2386.5L596.0 2385.4L596.5 2386.2L597.0 2386.0L597.5 2386.7L598.0 2386.0L598.5 2386.3L599.0 2387.7L599.5 2386.9L600.0 2388.4L600.5 2385.8L601.0 2387.1L601.5 2386.1L602.0 2386.2L602.5 2387.3L603.0 2388.7L603.5 2387.0L604.0 2387.7L604.5 2384.8L605.0 2387.1L605.5 2385.3L606.0 2386.5L606.5 2387.0L607.0 2386.0L607.5 2388.0L608.0 2386.2L608.5 2387.1L609.0 2386.2L609.5 2386.9L610.0 2386.9L610.5 2385.2L611.0 2387.0L611.5 2386.7L612.0 2388.7L612.5 2384.4L613.0 2387.2L613.5 2387.9L614.0 2389.1L614.5 2388.5L615.0 2387.0L615.5 2388.6L616.0 2387.3L616.5 2387.5L617.0 2387.5L617.5 2387.4L618.0 2389.3L618.5 2386.5L619.0 2386.3L619.5 2388.7L620.0 2388.6L620.5 2388.6L621.0 2387.3L621.5 2388.1L622.0 2386.9L622.5 2387.0L623.0 2386.6L623.5 2387.1L624.0 2387.6L624.5 2386.7L625.0 2388.9L625.5 2387.7L626.0 2387.0L626.5 2385.7L627.0 2386.8L627.5 2385.3L628.0 2386.0L628.5 2385.1L629.0 2385.2L629.5 2386.4L630.0 2383.1L630.5 2387.4L631.0 2386.6L631.5 2385.7L632.0 2385.7L632.5 2387.2L633.0 2386.4L633.5 2388.0L634.0 2385.6L634.5 2384.6L635.0 2383.8L635.5 2384.7L636.0 2385.3L636.5 2382.4L637.0 2384.3L637.5 2383.5L638.0 2381.8L638.5 2382.9L639.0 2379.2L639.5 2378.5L640.0 2379.8L640.5 2379.3L641.0 2377.8L641.5 2375.9L642.0 2372.8L642.5 2372.9L643.0 2369.7L643.5 2368.4L644.0 2364.6L644.5 2360.5L645.0 2358.3L645.5 2354.5L646.0 2350.4L646.5 2344.4L647.0 2339.4L647.5 2335.6L648.0 2328.9L648.5 2322.9L649.0 2317.4L649.5 2310.8L650.0 2303.7L650.5 2296.7L651.0 2292.2L651.5 2283.6L652.0 2279.7L652.5 2276.2L653.0 2271.4L653.5 2270.7L654.0 2272.3L654.5 2272.8L655.0 2274.4L655.5 2280.9L656.0 2284.7L656.5 2290.7L657.0 2298.8L657.5 2302.3L658.0 2310.0L658.5 2316.4L659.0 2325.7L659.5 2330.4L660.0 2339.6L660.5 2343.2L661.0 2348.0L661.5 2353.4L662.0 2356.5L662.5 2360.2L663.0 2364.0L663.5 2367.6L664.0 2369.2L664.5 2373.0L665.0 2374.3L665.5 2377.0L666.0 2378.9L666.5 2382.2L667.0 2384.0L667.5 2384.4L668.0 2383.6L668.5 2383.7L669.0 2386.2L669.5 2387.3L670.0 2387.3L670.5 2386.3L671.0 2387.7L671.5 2387.6L672.0 2389.3L672.5 2389.5L673.0 2389.4L673.5 2389.4L674.0 2392.0L674.5 2390.9L675.0 2392.1L675.5 2392.2L676.0 2392.4L676.5 2393.3L677.0 2391.9L677.5 2391.9L678.0 2392.8L678.5 2389.2L679.0 2392.9L679.5 2392.8L680.0 2394.3L680.5 2394.5L681.0 2394.4L681.5 2393.9L682.0 2395.0L682.5 2395.1L683.0 2395.3L683.5 2395.1L684.0 2394.4L684.5 2395.9L685.0 2395.4L685.5 2396.3L686.0 2396.5L686.5 2397.6L687.0 2396.4L687.5 2398.5L688.0 2397.0L688.5 2396.6L689.0 2397.9L689.5 2395.5L690.0 2397.0L690.5 2397.1L691.0 2397.4L691.5 2398.1L692.0 2398.1L692.5 2399.1L693.0 2398.2L693.5 2396.7L694.0 2398.6L694.5 2400.2L695.0 2400.6L695.5 2399.8L696.0 2399.2L696.5 2398.2L697.0 2400.6L697.5 2397.9L698.0 2397.5L698.5 2396.5L699.0 2401.0L699.5 2399.1L700.0 2397.9L700.5 2400.5L701.0 2400.3L701.5 2398.2L702.0 2400.8L702.5 2399.7L703.0 2400.0L703.5 2400.6L704.0 2398.4L704.5 2401.2L705.0 2399.1L705.5 2399.0L706.0 2401.0L706.5 2399.3L707.0 2399.9L707.5 2401.7L708.0 2400.1L708.5 2400.0L709.0 2401.3L709.5 2401.4L710.0 2400.8L710.5 2402.0L711.0 2399.8L711.5 2402.0L712.0 2399.9L712.5 2402.0L713.0 2400.9L713.5 2403.5L714.0 2403.0L714.5 2402.8L715.0 2403.8L715.5 2404.4L716.0 2405.6L716.5 2404.6L717.0 2405.4L717.5 2404.6L718.0 2404.3L718.5 2404.5L719.0 2404.2L719.5 2405.8L720.0 2405.3L720.5 2405.4L721.0 2403.7L721.5 2405.0L722.0 2407.0L722.5 2406.9L723.0 2405.0L723.5 2404.9L724.0 2404.9L724.5 2406.1L725.0 2406.7L725.5 2405.5L726.0 2405.6L726.5 2405.7L727.0 2406.2L727.5 2408.4L728.0 2406.3L728.5 2407.6L729.0 2406.1L729.5 2406.6L730.0 2405.9L730.5 2406.9L731.0 2409.0L731.5 2409.2L732.0 2408.2L732.5 2407.5L733.0 2409.0L733.5 2406.5L734.0 2406.1L734.5 2406.8L735.0 2407.5L735.5 2405.8L736.0 2407.1L736.5 2409.5L737.0 2407.8L737.5 2407.7L738.0 2407.8L738.5 2409.3L739.0 2409.4L739.5 2409.1L740.0 2409.3L740.5 2407.1L741.0 2407.9L741.5 2408.9L742.0 2408.6L742.5 2409.2L743.0 2409.0L743.5 2411.3L744.0 2410.7L744.5 2408.1L745.0 2410.3L745.5 2410.6L746.0 2410.5L746.5 2410.7L747.0 2411.1L747.5 2412.9L748.0 2410.6L748.5 2411.6L749.0 2411.7L749.5 2409.9L750.0 2411.5L750.5 2410.9L751.0 2412.3L751.5 2412.8L752.0 2413.9L752.5 2412.0L753.0 2411.6L753.5 2413.0L754.0 2414.5L754.5 2412.2L755.0 2412.5L755.5 2412.1L756.0 2411.7L756.5 2410.8L757.0 2411.0L757.5 2410.8L758.0 2411.2L758.5 2411.6L759.0 2410.7L759.5 2410.6L760.0 2411.6L760.5 2411.1L761.0 2411.9L761.5 2410.0L762.0 2413.2L762.5 2410.8L763.0 2411.0L763.5 2410.5L764.0 2411.6L764.5 2412.2L765.0 2411.5L765.5 2411.3L766.0 2411.1L766.5 2413.3L767.0 2411.7L767.5 2410.9L768.0 2411.6L768.5 2412.7L769.0 2411.7L769.5 2411.3L770.0 2410.7L770.5 2410.0L771.0 2410.3L771.5 2411.2L772.0 2409.4L772.5 2407.8L773.0 2407.1L773.5 2407.1L774.0 2406.1L774.5 2405.5L775.0 2405.7L775.5 2405.0L776.0 2405.1L776.5 2403.5L777.0 2402.1L777.5 2401.7L778.0 2400.1L778.5 2400.5L779.0 2396.9L779.5 2397.2L780.0 2396.1L780.5 2395.7L781.0 2393.0L781.5 2389.3L782.0 2387.9L782.5 2387.3L783.0 2383.0L783.5 2381.3L784.0 2378.9L784.5 2375.8L785.0 2373.4L785.5 2370.6L786.0 2366.1L786.5 2360.0L787.0 2357.7L787.5 2351.9L788.0 2344.4L788.5 2338.6L789.0 2330.4L789.5 2325.1L790.0 2315.1L790.5 2306.6L791.0 2297.2L791.5 2287.5L792.0 2275.5L792.5 2262.8L793.0 2250.5L793.5 2237.7L794.0 2222.2L794.5 2207.2L795.0 2190.3L795.5 2176.9L796.0 2158.4L796.5 2143.0L797.0 2126.7L797.5 2111.0L798.0 2096.3L798.5 2081.1L799.0 2070.2L799.5 2059.6L800.0 2053.1L800.5 2047.9L801.0 2049.6L801.5 2048.9L802.0 2054.1L802.5 2059.9L803.0 2071.7L803.5 2081.8L804.0 2095.5L804.5 2110.4L805.0 2125.6L805.5 2141.4L806.0 2160.2L806.5 2175.6L807.0 2192.3L807.5 2210.6L808.0 2223.6L808.5 2240.5L809.0 2252.8L809.5 2264.1L810.0 2277.7L810.5 2289.8L811.0 2300.1L811.5 2308.7L812.0 2317.4L812.5 2328.0L813.0 2336.7L813.5 2343.6L814.0 2348.1L814.5 2354.5L815.0 2360.3L815.5 2366.0L816.0 2369.5L816.5 2373.5L817.0 2376.6L817.5 2377.4L818.0 2381.4L818.5 2385.5L819.0 2386.1L819.5 2391.8L820.0 2390.7L820.5 2394.3L821.0 2396.1L821.5 2398.2L822.0 2397.5L822.5 2400.1L823.0 2402.9L823.5 2402.7L824.0 2404.8L824.5 2402.7L825.0 2406.5L825.5 2407.4L826.0 2407.5L826.5 2406.2L827.0 2407.3L827.5 2408.3L828.0 2409.4L828.5 2409.3L829.0 2412.4L829.5 2412.8L830.0 2412.1L830.5 2414.9L831.0 2413.3L831.5 2415.4L832.0 2417.8L832.5 2416.5L833.0 2416.2L833.5 2416.9L834.0 2416.5L834.5 2416.1L835.0 2415.9L835.5 2417.1L836.0 2417.5L836.5 2418.0L837.0 2417.2L837.5 2418.7L838.0 2419.9L838.5 2418.7L839.0 2421.3L839.5 2419.2L840.0 2419.2L840.5 2419.6L841.0 2419.3L841.5 2419.4L842.0 2420.0L842.5 2421.2L843.0 2420.6L843.5 2422.9L844.0 2421.7L844.5 2422.2L845.0 2422.1L845.5 2423.2L846.0 2422.8L846.5 2422.7L847.0 2423.3L847.5 2424.6L848.0 2422.6L848.5 2424.4L849.0 2423.3L849.5 2423.8L850.0 2422.5L850.5 2423.9L851.0 2424.6L851.5 2424.3L852.0 2423.6L852.5 2424.7L853.0 2423.0L853.5 2422.8L854.0 2425.3L854.5 2424.8L855.0 2423.8L855.5 2424.3L856.0 2425.1L856.5 2425.5L857.0 2425.1L857.5 2425.0L858.0 2425.3L858.5 2424.8L859.0 2426.5L859.5 2425.9L860.0 2427.9L860.5 2426.8L861.0 2429.1L861.5 2427.7L862.0 2427.8L862.5 2427.5L863.0 2427.5L863.5 2429.1L864.0 2427.0L864.5 2427.0L865.0 2427.4L865.5 2428.2L866.0 2426.9L866.5 2429.1L867.0 2426.7L867.5 2427.6L868.0 2428.2L868.5 2428.0L869.0 2427.3L869.5 2429.3L870.0 2430.3L870.5 2428.3L871.0 2429.4L871.5 2429.6L872.0 2430.9L872.5 2428.9L873.0 2429.5L873.5 2429.0L874.0 2429.7L874.5 2429.7L875.0 2429.7L875.5 2430.3L876.0 2431.7L876.5 2430.9L877.0 2432.0L877.5 2431.1L878.0 2432.2L878.5 2430.1L879.0 2429.8L879.5 2431.5L880.0 2432.3L880.5 2430.6L881.0 2429.4L881.5 2432.8L882.0 2432.5L882.5 2431.4L883.0 2433.7L883.5 2434.1L884.0 2432.6L884.5 2433.1L885.0 2434.2L885.5 2434.3L886.0 2435.0L886.5 2433.9L887.0 2435.6L887.5 2433.5L888.0 2432.9L888.5 2433.2L889.0 2433.0L889.5 2434.1L890.0 2433.2L890.5 2434.6L891.0 2435.0L891.5 2435.3L892.0 2432.7L892.5 2431.8L893.0 2432.6L893.5 2433.1L894.0 2432.2L894.5 2433.6L895.0 2433.9L895.5 2434.4L896.0 2433.1L896.5 2435.1L897.0 2433.5L897.5 2431.8L898.0 2434.1L898.5 2435.1L899.0 2433.4L899.5 2431.4L900.0 2432.5L900.5 2434.2L901.0 2433.3L901.5 2433.1L902.0 2432.6L902.5 2433.4L903.0 2433.0L903.5 2435.6L904.0 2435.1L904.5 2435.6L905.0 2433.0L905.5 2434.7L906.0 2435.4L906.5 2435.9L907.0 2435.5L907.5 2433.7L908.0 2437.2L908.5 2434.3L909.0 2434.1L909.5 2434.1L910.0 2433.3L910.5 2434.4L911.0 2434.4L911.5 2434.7L912.0 2434.8L912.5 2435.3L913.0 2435.8L913.5 2434.4L914.0 2434.0L914.5 2435.3L915.0 2434.2L915.5 2434.8L916.0 2433.3L916.5 2433.8L917.0 2433.2L917.5 2433.0L918.0 2434.4L918.5 2435.1L919.0 2436.0L919.5 2434.9L920.0 2437.1L920.5 2437.2L921.0 2436.1L921.5 2435.2L922.0 2434.9L922.5 2436.1L923.0 2434.4L923.5 2436.1L924.0 2432.7L924.5 2432.8L925.0 2435.0L925.5 2433.5L926.0 2435.7L926.5 2434.2L927.0 2434.1L927.5 2434.7L928.0 2435.7L928.5 2435.7L929.0 2434.6L929.5 2434.7L930.0 2435.8L930.5 2434.3L931.0 2434.0L931.5 2434.4L932.0 2438.7L932.5 2437.4L933.0 2436.0L933.5 2434.9L934.0 2436.0L934.5 2434.3L935.0 2435.7L935.5 2436.8L936.0 2435.8L936.5 2434.4L937.0 2435.1L937.5 2435.3L938.0 2437.0L938.5 2436.5L939.0 2436.0L939.5 2438.2L940.0 2436.0L940.5 2437.4L941.0 2436.5L941.5 2436.0L942.0 2435.9L942.5 2436.3L943.0 2436.9L943.5 2434.2L944.0 2435.4L944.5 2436.0L945.0 2434.7L945.5 2434.9L946.0 2436.8L946.5 2435.0L947.0 2435.7L947.5 2436.8L948.0 2436.2L948.5 2436.4L949.0 2436.7L949.5 2437.8L950.0 2437.0L950.5 2437.9L951.0 2436.8L951.5 2437.5L952.0 2436.7L952.5 2438.5L953.0 2437.4L953.5 2438.0L954.0 2436.4L954.5 2435.7L955.0 2437.0L955.5 2435.7L956.0 2434.1L956.5 2435.4L957.0 2435.1L957.5 2437.1L958.0 2436.0L958.5 2437.1L959.0 2437.1L959.5 2437.6L960.0 2436.7L960.5 2437.2L961.0 2437.0L961.5 2435.3L962.0 2437.0L962.5 2435.7L963.0 2435.6L963.5 2436.6L964.0 2435.0L964.5 2437.1L965.0 2437.9L965.5 2437.0L966.0 2437.5L966.5 2435.8L967.0 2436.4L967.5 2433.5L968.0 2434.8L968.5 2434.9L969.0 2436.5L969.5 2436.7L970.0 2432.5L970.5 2434.1L971.0 2433.6L971.5 2436.3L972.0 2435.6L972.5 2434.7L973.0 2435.6L973.5 2436.4L974.0 2434.8L974.5 2436.6L975.0 2436.0L975.5 2436.3L976.0 2433.9L976.5 2435.3L977.0 2432.8L977.5 2435.8L978.0 2434.7L978.5 2436.3L979.0 2436.4L979.5 2433.8L980.0 2436.6L980.5 2434.3L981.0 2435.7L981.5 2434.5L982.0 2433.5L982.5 2433.2L983.0 2432.8L983.5 2434.4L984.0 2432.5L984.5 2431.1L985.0 2432.2L985.5 2430.8L986.0 2431.5L986.5 2429.9L987.0 2430.1L987.5 2428.2L988.0 2427.2L988.5 2427.5L989.0 2426.9L989.5 2424.6L990.0 2422.8L990.5 2423.9L991.0 2418.8L991.5 2414.3L992.0 2414.9L992.5 2410.7L993.0 2405.8L993.5 2404.6L994.0 2400.5L994.5 2394.9L995.0 2390.1L995.5 2385.7L996.0 2381.9L996.5 2375.3L997.0 2372.7L997.5 2367.4L998.0 2363.8L998.5 2362.1L999.0 2357.9L999.5 2357.4L1000.0 2356.0L1000.5 2352.8L1001.0 2355.5L1001.5 2356.5L1002.0 2357.1L1002.5 2358.8L1003.0 2356.8L1003.5 2357.3L1004.0 2356.2L1004.5 2355.5L1005.0 2352.0L1005.5 2350.8L1006.0 2348.4L1006.5 2347.4L1007.0 2342.0L1007.5 2340.0L1008.0 2337.1L1008.5 2333.1L1009.0 2331.8L1009.5 2332.2L1010.0 2332.9L1010.5 2334.6L1011.0 2335.0L1011.5 2337.8L1012.0 2343.4L1012.5 2346.7L1013.0 2354.7L1013.5 2358.7L1014.0 2364.9L1014.5 2372.5L1015.0 2377.0L1015.5 2381.1L1016.0 2388.0L1016.5 2391.7L1017.0 2396.2L1017.5 2400.8L1018.0 2403.7L1018.5 2409.1L1019.0 2411.1L1019.5 2414.5L1020.0 2418.2L1020.5 2419.2L1021.0 2421.1L1021.5 2423.3L1022.0 2424.6L1022.5 2427.0L1023.0 2427.9L1023.5 2430.3L1024.0 2430.0L1024.5 2430.5L1025.0 2431.9L1025.5 2430.8L1026.0 2433.5L1026.5 2434.6L1027.0 2436.1L1027.5 2435.4L1028.0 2435.9L1028.5 2433.0L1029.0 2436.9L1029.5 2436.7L1030.0 2437.7L1030.5 2436.2L1031.0 2437.3L1031.5 2437.2L1032.0 2436.7L1032.5 2438.0L1033.0 2440.0L1033.5 2436.8L1034.0 2438.1L1034.5 2439.1L1035.0 2440.5L1035.5 2438.6L1036.0 2438.2L1036.5 2437.9L1037.0 2440.0L1037.5 2439.9L1038.0 2439.8L1038.5 2439.3L1039.0 2437.7L1039.5 2440.5L1040.0 2440.5L1040.5 2438.5L1041.0 2439.0L1041.5 2439.0L1042.0 2439.7L1042.5 2442.7L1043.0 2442.2L1043.5 2440.4L1044.0 2443.2L1044.5 2441.6L1045.0 2442.2L1045.5 2441.1L1046.0 2441.4L1046.5 2441.5L1047.0 2444.8L1047.5 2440.7L1048.0 2441.0L1048.5 2442.8L1049.0 2442.2L1049.5 2440.8L1050.0 2444.7L1050.5 2441.8L1051.0 2441.8L1051.5 2441.9L1052.0 2443.4L1052.5 2443.7L1053.0 2443.9L1053.5 2443.4L1054.0 2442.8L1054.5 2444.3L1055.0 2442.9L1055.5 2442.4L1056.0 2444.1L1056.5 2444.4L1057.0 2443.0L1057.5 2443.4L1058.0 2444.0L1058.5 2443.8L1059.0 2444.3L1059.5 2445.6L1060.0 2445.6L1060.5 2442.6L1061.0 2446.8L1061.5 2446.8L1062.0 2444.1L1062.5 2446.5L1063.0 2443.6L1063.5 2446.7L1064.0 2444.9L1064.5 2446.3L1065.0 2446.1L1065.5 2446.6L1066.0 2444.4L1066.5 2447.5L1067.0 2447.1L1067.5 2446.3L1068.0 2447.5L1068.5 2446.0L1069.0 2448.0L1069.5 2447.6L1070.0 2447.9L1070.5 2445.4L1071.0 2446.3L1071.5 2443.9L1072.0 2446.1L1072.5 2444.9L1073.0 2445.0L1073.5 2447.0L1074.0 2445.7L1074.5 2447.2L1075.0 2445.1L1075.5 2445.4L1076.0 2446.6L1076.5 2444.4L1077.0 2445.2L1077.5 2445.7L1078.0 2443.6L1078.5 2446.5L1079.0 2444.6L1079.5 2446.3L1080.0 2444.8L1080.5 2447.2L1081.0 2443.8L1081.5 2447.2L1082.0 2445.1L1082.5 2447.6L1083.0 2446.0L1083.5 2444.4L1084.0 2447.1L1084.5 2446.0L1085.0 2446.6L1085.5 2446.9L1086.0 2447.6L1086.5 2446.7L1087.0 2447.7L1087.5 2446.0L1088.0 2446.7L1088.5 2448.1L1089.0 2449.2L1089.5 2447.9L1090.0 2447.5L1090.5 2448.2L1091.0 2448.5L1091.5 2447.5L1092.0 2451.2L1092.5 2447.8L1093.0 2446.7L1093.5 2447.8L1094.0 2448.3L1094.5 2447.8L1095.0 2447.7L1095.5 2448.2L1096.0 2448.5L1096.5 2447.4L1097.0 2447.2L1097.5 2448.2L1098.0 2448.3L1098.5 2446.5L1099.0 2450.3L1099.5 2448.4L1100.0 2449.1L1100.5 2448.7L1101.0 2446.5L1101.5 2450.4L1102.0 2446.9L1102.5 2447.8L1103.0 2449.5L1103.5 2448.8L1104.0 2450.4L1104.5 2450.4L1105.0 2449.4L1105.5 2451.3L1106.0 2448.0L1106.5 2450.1L1107.0 2450.3L1107.5 2451.5L1108.0 2450.0L1108.5 2447.8L1109.0 2450.6L1109.5 2449.8L1110.0 2450.1L1110.5 2450.6L1111.0 2451.0L1111.5 2449.3L1112.0 2450.4L1112.5 2451.5L1113.0 2451.1L1113.5 2450.8L1114.0 2448.0L1114.5 2450.1L1115.0 2450.7L1115.5 2449.6L1116.0 2450.4L1116.5 2449.9L1117.0 2451.1L1117.5 2450.6L1118.0 2449.3L1118.5 2451.2L1119.0 2450.8L1119.5 2449.1L1120.0 2450.0L1120.5 2449.9L1121.0 2448.4L1121.5 2450.7L1122.0 2448.9L1122.5 2449.6L1123.0 2447.4L1123.5 2449.6L1124.0 2448.2L1124.5 2450.5L1125.0 2449.6L1125.5 2451.2L1126.0 2451.7L1126.5 2448.6L1127.0 2450.8L1127.5 2450.9L1128.0 2450.5L1128.5 2450.5L1129.0 2450.8L1129.5 2451.6L1130.0 2451.4L1130.5 2452.1L1131.0 2451.1L1131.5 2451.9L1132.0 2451.3L1132.5 2451.8L1133.0 2451.8L1133.5 2451.6L1134.0 2451.9L1134.5 2450.6L1135.0 2449.2L1135.5 2450.1L1136.0 2451.2L1136.5 2451.0L1137.0 2450.7L1137.5 2452.7L1138.0 2451.8L1138.5 2452.7L1139.0 2450.1L1139.5 2450.2L1140.0 2450.8L1140.5 2452.0L1141.0 2452.7L1141.5 2451.4L1142.0 2452.7L1142.5 2452.8L1143.0 2452.2L1143.5 2453.3L1144.0 2452.9L1144.5 2453.3L1145.0 2452.0L1145.5 2452.0L1146.0 2452.2L1146.5 2452.8L1147.0 2451.1L1147.5 2450.1L1148.0 2451.9L1148.5 2454.7L1149.0 2452.3L1149.5 2450.9L1150.0 2451.2L1150.5 2451.9L1151.0 2452.8L1151.5 2452.6L1152.0 2453.9L1152.5 2453.1L1153.0 2451.2L1153.5 2453.4L1154.0 2452.1L1154.5 2454.3L1155.0 2453.7L1155.5 2451.3L1156.0 2451.2L1156.5 2452.9L1157.0 2452.9L1157.5 2453.8L1158.0 2452.9L1158.5 2453.5L1159.0 2452.5L1159.5 2451.5L1160.0 2450.4L1160.5 2452.9L1161.0 2452.8L1161.5 2452.9L1162.0 2451.2L1162.5 2453.2L1163.0 2450.6L1163.5 2453.4L1164.0 2453.1L1164.5 2453.1L1165.0 2450.5L1165.5 2455.4L1166.0 2452.2L1166.5 2452.8L1167.0 2453.6L1167.5 2453.2L1168.0 2451.7L1168.5 2454.5L1169.0 2453.5L1169.5 2453.4L1170.0 2451.7L1170.5 2453.8L1171.0 2454.0L1171.5 2454.9L1172.0 2452.9L1172.5 2451.9L1173.0 2454.0L1173.5 2454.4L1174.0 2455.1L1174.5 2454.9L1175.0 2453.4L1175.5 2453.9L1176.0 2453.0L1176.5 2454.7L1177.0 2456.6L1177.5 2452.6L1178.0 2452.3L1178.5 2452.4L1179.0 2453.3L1179.5 2453.7L1180.0 2452.7L1180.5 2451.2L1181.0 2453.1L1181.5 2453.6L1182.0 2454.7L1182.5 2453.6L1183.0 2451.6L1183.5 2454.4L1184.0 2453.8L1184.5 2452.9L1185.0 2454.2L1185.5 2454.8L1186.0 2454.8L1186.5 2453.5L1187.0 2453.9L1187.5 2454.4L1188.0 2454.7L1188.5 2454.3L1189.0 2452.5L1189.5 2454.6L1190.0 2452.2L1190.5 2453.9L1191.0 2453.8L1191.5 2451.1L1192.0 2452.9L1192.5 2453.6L1193.0 2454.2L1193.5 2453.9L1194.0 2455.0L1194.5 2453.9L1195.0 2454.1L1195.5 2454.9L1196.0 2458.1L1196.5 2453.6L1197.0 2454.1L1197.5 2454.8L1198.0 2453.6L1198.5 2455.0L1199.0 2454.3L1199.5 2456.4L1200.0 2453.2L1200.5 2454.3L1201.0 2453.7L1201.5 2454.8L1202.0 2453.4L1202.5 2452.8L1203.0 2453.7L1203.5 2453.7L1204.0 2454.3L1204.5 2453.3L1205.0 2454.9L1205.5 2453.8L1206.0 2453.7L1206.5 2454.0L1207.0 2454.3L1207.5 2455.8L1208.0 2453.1L1208.5 2453.9L1209.0 2454.3L1209.5 2454.3L1210.0 2453.4L1210.5 2452.0L1211.0 2454.7L1211.5 2454.5L1212.0 2454.7L1212.5 2454.9L1213.0 2453.4L1213.5 2455.9L1214.0 2454.4L1214.5 2455.0L1215.0 2456.3L1215.5 2455.6L1216.0 2453.6L1216.5 2454.2L1217.0 2454.8L1217.5 2454.3L1218.0 2453.0L1218.5 2451.4L1219.0 2451.9L1219.5 2452.6L1220.0 2452.8L1220.5 2454.0L1221.0 2454.1L1221.5 2451.9L1222.0 2453.5L1222.5 2452.9L1223.0 2453.8L1223.5 2455.2L1224.0 2454.5L1224.5 2453.2L1225.0 2455.7L1225.5 2453.2L1226.0 2452.5L1226.5 2452.6L1227.0 2455.3L1227.5 2454.3L1228.0 2452.8L1228.5 2453.8L1229.0 2453.0L1229.5 2455.0L1230.0 2454.8L1230.5 2452.1L1231.0 2454.9L1231.5 2456.4L1232.0 2453.6L1232.5 2454.9L1233.0 2454.2L1233.5 2454.8L1234.0 2453.0L1234.5 2455.3L1235.0 2454.2L1235.5 2455.5L1236.0 2454.3L1236.5 2453.1L1237.0 2452.4L1237.5 2453.2L1238.0 2455.4L1238.5 2454.7L1239.0 2454.1L1239.5 2454.2L1240.0 2453.9L1240.5 2453.2L1241.0 2453.7L1241.5 2453.5L1242.0 2453.1L1242.5 2453.7L1243.0 2455.7L1243.5 2451.8L1244.0 2454.1L1244.5 2453.6L1245.0 2452.3L1245.5 2453.7L1246.0 2455.6L1246.5 2452.1L1247.0 2454.0L1247.5 2452.3L1248.0 2454.4L1248.5 2453.8L1249.0 2453.6L1249.5 2453.3L1250.0 2454.6L1250.5 2454.9L1251.0 2452.2L1251.5 2451.7L1252.0 2453.4L1252.5 2454.5L1253.0 2453.4L1253.5 2454.9L1254.0 2453.0L1254.5 2452.7L1255.0 2453.4L1255.5 2452.1L1256.0 2452.5L1256.5 2452.8L1257.0 2452.0L1257.5 2454.2L1258.0 2453.6L1258.5 2453.1L1259.0 2452.5L1259.5 2453.5L1260.0 2453.3L1260.5 2451.8L1261.0 2450.6L1261.5 2453.0L1262.0 2452.6L1262.5 2452.3L1263.0 2452.6L1263.5 2453.3L1264.0 2452.0L1264.5 2452.4L1265.0 2451.6L1265.5 2451.5L1266.0 2451.0L1266.5 2452.5L1267.0 2451.6L1267.5 2451.3L1268.0 2451.5L1268.5 2452.7L1269.0 2452.7L1269.5 2452.1L1270.0 2452.2L1270.5 2452.4L1271.0 2451.4L1271.5 2450.9L1272.0 2454.0L1272.5 2452.1L1273.0 2453.0L1273.5 2450.5L1274.0 2451.5L1274.5 2452.3L1275.0 2452.3L1275.5 2450.5L1276.0 2451.0L1276.5 2450.7L1277.0 2449.4L1277.5 2448.6L1278.0 2448.1L1278.5 2448.7L1279.0 2450.4L1279.5 2448.8L1280.0 2451.1L1280.5 2450.0L1281.0 2449.1L1281.5 2446.8L1282.0 2447.4L1282.5 2448.2L1283.0 2446.6L1283.5 2448.2L1284.0 2448.1L1284.5 2446.6L1285.0 2444.3L1285.5 2445.5L1286.0 2443.7L1286.5 2445.1L1287.0 2442.3L1287.5 2441.4L1288.0 2440.8L1288.5 2439.8L1289.0 2440.6L1289.5 2439.0L1290.0 2439.4L1290.5 2434.8L1291.0 2436.0L1291.5 2435.2L1292.0 2433.4L1292.5 2431.5L1293.0 2430.1L1293.5 2430.7L1294.0 2428.6L1294.5 2426.6L1295.0 2426.7L1295.5 2427.6L1296.0 2427.7L1296.5 2427.6L1297.0 2428.6L1297.5 2428.5L1298.0 2429.3L1298.5 2428.4L1299.0 2429.9L1299.5 2432.2L1300.0 2432.6L1300.5 2433.7L1301.0 2435.0L1301.5 2432.2L1302.0 2435.9L1302.5 2436.7L1303.0 2437.0L1303.5 2437.7L1304.0 2437.6L1304.5 2440.0L1305.0 2440.6L1305.5 2440.6L1306.0 2441.7L1306.5 2443.1L1307.0 2442.6L1307.5 2442.3L1308.0 2443.3L1308.5 2444.7L1309.0 2444.3L1309.5 2444.3L1310.0 2445.0L1310.5 2446.1L1311.0 2444.7L1311.5 2445.0L1312.0 2446.7L1312.5 2446.7L1313.0 2445.6L1313.5 2446.6L1314.0 2446.3L1314.5 2447.7L1315.0 2445.9L1315.5 2446.9L1316.0 2446.8L1316.5 2445.7L1317.0 2444.6L1317.5 2446.5L1318.0 2449.7L1318.5 2446.5L1319.0 2447.5L1319.5 2447.6L1320.0 2448.6L1320.5 2446.6L1321.0 2446.2L1321.5 2446.1L1322.0 2450.0L1322.5 2449.9L1323.0 2446.8L1323.5 2449.5L1324.0 2448.2L1324.5 2449.1L1325.0 2448.5L1325.5 2450.0L1326.0 2451.0L1326.5 2449.6L1327.0 2449.6L1327.5 2449.3L1328.0 2449.0L1328.5 2448.9L1329.0 2450.5L1329.5 2451.1L1330.0 2449.7L1330.5 2449.6L1331.0 2450.3L1331.5 2450.3L1332.0 2450.3L1332.5 2449.5L1333.0 2451.2L1333.5 2449.1L1334.0 2450.9L1334.5 2449.5L1335.0 2449.4L1335.5 2449.9L1336.0 2448.8L1336.5 2449.2L1337.0 2449.3L1337.5 2449.3L1338.0 2449.9L1338.5 2450.6L1339.0 2449.6L1339.5 2449.7L1340.0 2450.7L1340.5 2450.9L1341.0 2449.4L1341.5 2450.8L1342.0 2449.5L1342.5 2451.7L1343.0 2449.6L1343.5 2450.1L1344.0 2450.4L1344.5 2448.0L1345.0 2448.6L1345.5 2449.8L1346.0 2450.6L1346.5 2449.5L1347.0 2450.8L1347.5 2451.6L1348.0 2451.7L1348.5 2452.6L1349.0 2451.6L1349.5 2450.8L1350.0 2452.3L1350.5 2451.7L1351.0 2450.5L1351.5 2450.4L1352.0 2451.2L1352.5 2451.0L1353.0 2452.0L1353.5 2450.8L1354.0 2451.3L1354.5 2451.7L1355.0 2450.5L1355.5 2450.8L1356.0 2448.5L1356.5 2449.3L1357.0 2450.2L1357.5 2450.3L1358.0 2450.5L1358.5 2450.9L1359.0 2449.8L1359.5 2452.3L1360.0 2451.5L1360.5 2451.6L1361.0 2448.5L1361.5 2449.4L1362.0 2448.3L1362.5 2449.0L1363.0 2450.1L1363.5 2449.7L1364.0 2450.4L1364.5 2448.5L1365.0 2450.1L1365.5 2448.5L1366.0 2449.7L1366.5 2450.0L1367.0 2447.6L1367.5 2448.0L1368.0 2448.9L1368.5 2448.8L1369.0 2446.5L1369.5 2445.7L1370.0 2445.8L1370.5 2446.9L1371.0 2446.8L1371.5 2446.1L1372.0 2445.9L1372.5 2444.9L1373.0 2443.7L1373.5 2444.5L1374.0 2440.6L1374.5 2440.6L1375.0 2439.7L1375.5 2440.2L1376.0 2436.5L1376.5 2439.1L1377.0 2438.3L1377.5 2437.1L1378.0 2432.2L1378.5 2432.9L1379.0 2430.7L1379.5 2430.8L1380.0 2427.3L1380.5 2425.8L1381.0 2422.7L1381.5 2422.6L1382.0 2421.3L1382.5 2417.5L1383.0 2412.9L1383.5 2411.9L1384.0 2408.6L1384.5 2407.7L1385.0 2404.2L1385.5 2402.5L1386.0 2399.7L1386.5 2396.7L1387.0 2394.3L1387.5 2388.9L1388.0 2388.2L1388.5 2383.7L1389.0 2380.3L1389.5 2379.7L1390.0 2376.6L1390.5 2375.3L1391.0 2373.5L1391.5 2370.5L1392.0 2371.2L1392.5 2368.3L1393.0 2369.3L1393.5 2369.3L1394.0 2369.3L1394.5 2369.8L1395.0 2372.9L1395.5 2372.8L1396.0 2376.0L1396.5 2380.5L1397.0 2382.5L1397.5 2384.9L1398.0 2386.7L1398.5 2392.0L1399.0 2393.1L1399.5 2396.3L1400.0 2400.1L1400.5 2401.7L1401.0 2403.7L1401.5 2406.8L1402.0 2409.6L1402.5 2412.7L1403.0 2415.9L1403.5 2419.7L1404.0 2420.7L1404.5 2422.1L1405.0 2425.1L1405.5 2425.2L1406.0 2429.3L1406.5 2430.2L1407.0 2432.6L1407.5 2433.3L1408.0 2434.5L1408.5 2436.9L1409.0 2438.3L1409.5 2439.5L1410.0 2440.8L1410.5 2442.5L1411.0 2441.8L1411.5 2444.4L1412.0 2443.1L1412.5 2446.5L1413.0 2443.9L1413.5 2445.0L1414.0 2448.7L1414.5 2447.9L1415.0 2446.7L1415.5 2449.2L1416.0 2449.4L1416.5 2448.8L1417.0 2452.0L1417.5 2451.0L1418.0 2453.8L1418.5 2451.3L1419.0 2451.8L1419.5 2452.9L1420.0 2451.5L1420.5 2452.3L1421.0 2451.0L1421.5 2454.1L1422.0 2454.8L1422.5 2454.4L1423.0 2454.0L1423.5 2453.3L1424.0 2456.5L1424.5 2454.6L1425.0 2455.1L1425.5 2457.1L1426.0 2456.6L1426.5 2457.1L1427.0 2458.6L1427.5 2455.8L1428.0 2456.9L1428.5 2454.9L1429.0 2455.6L1429.5 2456.0L1430.0 2456.2L1430.5 2456.1L1431.0 2454.1L1431.5 2455.2L1432.0 2456.8L1432.5 2454.7L1433.0 2457.0L1433.5 2457.7L1434.0 2454.8L1434.5 2454.8L1435.0 2457.7L1435.5 2456.8L1436.0 2455.2L1436.5 2455.6L1437.0 2456.1L1437.5 2456.8L1438.0 2455.0L1438.5 2457.8L1439.0 2455.2L1439.5 2455.5L1440.0 2456.8L1440.5 2457.7L1441.0 2456.6L1441.5 2457.3L1442.0 2458.6L1442.5 2457.3L1443.0 2457.0L1443.5 2458.4L1444.0 2458.5L1444.5 2457.7L1445.0 2457.1L1445.5 2458.4L1446.0 2458.3L1446.5 2458.7L1447.0 2457.2L1447.5 2456.5L1448.0 2456.8L1448.5 2460.8L1449.0 2458.1L1449.5 2457.8L1450.0 2457.8L1450.5 2456.6L1451.0 2457.1L1451.5 2458.9L1452.0 2459.2L1452.5 2457.5L1453.0 2457.7L1453.5 2457.3L1454.0 2458.1L1454.5 2457.4L1455.0 2457.6L1455.5 2457.8L1456.0 2458.4L1456.5 2457.5L1457.0 2458.9L1457.5 2459.3L1458.0 2457.2L1458.5 2459.4L1459.0 2458.2L1459.5 2459.7L1460.0 2458.6L1460.5 2455.2L1461.0 2456.4L1461.5 2458.1L1462.0 2458.6L1462.5 2458.4L1463.0 2457.6L1463.5 2458.9L1464.0 2456.5L1464.5 2459.9L1465.0 2459.4L1465.5 2457.9L1466.0 2459.3L1466.5 2457.2L1467.0 2459.1L1467.5 2459.0L1468.0 2458.5L1468.5 2459.1L1469.0 2458.2L1469.5 2460.3L1470.0 2456.8L1470.5 2459.0L1471.0 2459.6L1471.5 2460.4L1472.0 2461.3L1472.5 2459.6L1473.0 2459.0L1473.5 2459.6L1474.0 2459.2L1474.5 2459.8L1475.0 2459.3L1475.5 2458.2L1476.0 2461.0L1476.5 2458.8L1477.0 2460.1L1477.5 2460.3L1478.0 2459.3L1478.5 2461.3L1479.0 2458.6L1479.5 2459.0L1480.0 2460.2L1480.5 2461.0L1481.0 2459.4L1481.5 2459.6L1482.0 2461.1L1482.5 2461.6L1483.0 2459.1L1483.5 2461.4L1484.0 2462.5L1484.5 2460.8L1485.0 2461.0L1485.5 2460.7L1486.0 2458.2L1486.5 2459.6L1487.0 2458.1L1487.5 2459.7L1488.0 2459.6L1488.5 2458.5L1489.0 2457.8L1489.5 2457.9L1490.0 2457.7L1490.5 2458.8L1491.0 2459.0L1491.5 2461.2L1492.0 2460.0L1492.5 2459.7L1493.0 2458.5L1493.5 2458.7L1494.0 2459.6L1494.5 2460.6L1495.0 2458.1L1495.5 2458.3L1496.0 2459.6L1496.5 2459.2L1497.0 2460.2L1497.5 2459.8L1498.0 2458.3L1498.5 2458.4L1499.0 2458.3L1499.5 2458.3L1500.0 2460.2L1500.5 2458.6L1501.0 2458.4L1501.5 2460.5L1502.0 2460.1L1502.5 2461.5L1503.0 2460.7L1503.5 2459.2L1504.0 2460.6L1504.5 2459.1L1505.0 2459.7L1505.5 2459.1L1506.0 2459.8L1506.5 2459.4L1507.0 2458.2L1507.5 2457.8L1508.0 2456.9L1508.5 2457.0L1509.0 2458.3L1509.5 2457.9L1510.0 2456.3L1510.5 2457.6L1511.0 2456.5L1511.5 2457.8L1512.0 2455.6L1512.5 2457.1L1513.0 2455.8L1513.5 2454.0L1514.0 2455.2L1514.5 2454.9L1515.0 2453.9L1515.5 2453.9L1516.0 2455.3L1516.5 2454.2L1517.0 2455.1L1517.5 2455.4L1518.0 2453.0L1518.5 2452.0L1519.0 2450.0L1519.5 2450.8L1520.0 2447.5L1520.5 2446.2L1521.0 2445.5L1521.5 2445.0L1522.0 2442.9L1522.5 2438.9L1523.0 2440.2L1523.5 2436.4L1524.0 2432.6L1524.5 2431.5L1525.0 2426.9L1525.5 2425.0L1526.0 2422.7L1526.5 2419.3L1527.0 2418.8L1527.5 2415.6L1528.0 2415.4L1528.5 2414.9L1529.0 2412.6L1529.5 2413.3L1530.0 2412.9L1530.5 2415.8L1531.0 2414.3L1531.5 2411.8L1532.0 2412.5L1532.5 2411.1L1533.0 2412.3L1533.5 2408.3L1534.0 2408.5L1534.5 2404.5L1535.0 2402.7L1535.5 2398.5L1536.0 2393.7L1536.5 2392.1L1537.0 2387.6L1537.5 2382.3L1538.0 2377.1L1538.5 2372.5L1539.0 2364.5L1539.5 2359.5L1540.0 2354.7L1540.5 2347.5L1541.0 2343.0L1541.5 2337.2L1542.0 2334.7L1542.5 2328.9L1543.0 2326.9L1543.5 2323.5L1544.0 2320.4L1544.5 2318.2L1545.0 2318.6L1545.5 2316.1L1546.0 2319.1L1546.5 2318.0L1547.0 2322.8L1547.5 2325.5L1548.0 2329.4L1548.5 2335.1L1549.0 2340.0L1549.5 2344.8L1550.0 2350.7L1550.5 2353.9L1551.0 2362.6L1551.5 2366.8L1552.0 2373.8L1552.5 2378.0L1553.0 2384.6L1553.5 2387.9L1554.0 2392.8L1554.5 2398.3L1555.0 2402.4L1555.5 2405.9L1556.0 2411.0L1556.5 2413.3L1557.0 2416.9L1557.5 2420.7L1558.0 2423.5L1558.5 2426.2L1559.0 2429.4L1559.5 2431.0L1560.0 2434.3L1560.5 2436.3L1561.0 2438.2L1561.5 2440.1L1562.0 2440.2L1562.5 2444.9L1563.0 2443.5L1563.5 2446.3L1564.0 2448.1L1564.5 2450.8L1565.0 2448.9L1565.5 2451.6L1566.0 2451.9L1566.5 2453.0L1567.0 2451.8L1567.5 2453.5L1568.0 2452.3L1568.5 2452.9L1569.0 2453.7L1569.5 2454.5L1570.0 2453.7L1570.5 2455.2L1571.0 2454.9L1571.5 2455.1L1572.0 2455.0L1572.5 2457.1L1573.0 2457.6L1573.5 2457.7L1574.0 2458.8L1574.5 2457.9L1575.0 2459.0L1575.5 2458.6L1576.0 2458.7L1576.5 2459.9L1577.0 2458.4L1577.5 2457.9L1578.0 2459.7L1578.5 2459.7L1579.0 2458.3L1579.5 2458.5L1580.0 2460.2L1580.5 2460.9L1581.0 2460.0L1581.5 2461.3L1582.0 2460.5L1582.5 2462.2L1583.0 2458.8L1583.5 2461.7L1584.0 2462.2L1584.5 2461.7L1585.0 2460.2L1585.5 2461.7L1586.0 2460.3L1586.5 2462.8L1587.0 2460.2L1587.5 2462.5L1588.0 2461.7L1588.5 2460.2L1589.0 2462.3L1589.5 2464.3L1590.0 2463.7L1590.5 2461.9L1591.0 2462.5L1591.5 2462.7L1592.0 2463.2L1592.5 2461.9L1593.0 2463.6L1593.5 2462.0L1594.0 2461.9L1594.5 2461.5L1595.0 2461.7L1595.5 2462.2L1596.0 2462.3L1596.5 2464.8L1597.0 2461.3L1597.5 2464.8L1598.0 2464.2L1598.5 2464.0L1599.0 2465.1L1599.5 2465.5L1600.0 2463.4L1600.5 2462.4L1601.0 2466.7L1601.5 2465.0L1602.0 2464.5L1602.5 2467.0L1603.0 2464.2L1603.5 2463.7L1604.0 2465.2L1604.5 2464.2L1605.0 2464.0L1605.5 2463.4L1606.0 2464.3L1606.5 2463.0L1607.0 2465.3L1607.5 2462.8L1608.0 2463.4L1608.5 2463.5L1609.0 2462.6L1609.5 2465.7L1610.0 2463.5L1610.5 2465.0L1611.0 2463.2L1611.5 2467.3L1612.0 2464.8L1612.5 2465.5L1613.0 2464.5L1613.5 2465.1L1614.0 2463.6L1614.5 2464.0L1615.0 2464.7L1615.5 2462.7L1616.0 2464.0L1616.5 2466.4L1617.0 2465.9L1617.5 2465.5L1618.0 2466.6L1618.5 2465.8L1619.0 2467.0L1619.5 2465.0L1620.0 2464.2L1620.5 2464.8L1621.0 2467.4L1621.5 2463.7L1622.0 2464.6L1622.5 2465.1L1623.0 2464.1L1623.5 2465.6L1624.0 2465.0L1624.5 2466.1L1625.0 2465.4L1625.5 2466.7L1626.0 2465.5L1626.5 2464.0L1627.0 2468.7L1627.5 2468.2L1628.0 2466.4L1628.5 2466.5L1629.0 2466.0L1629.5 2468.7L1630.0 2466.0L1630.5 2468.0L1631.0 2468.1L1631.5 2466.8L1632.0 2468.8L1632.5 2465.9L1633.0 2468.1L1633.5 2467.5L1634.0 2468.1L1634.5 2465.4L1635.0 2466.7L1635.5 2467.6L1636.0 2465.1L1636.5 2467.1L1637.0 2468.2L1637.5 2467.9L1638.0 2465.4L1638.5 2467.2L1639.0 2465.3L1639.5 2467.8L1640.0 2464.4L1640.5 2466.1L1641.0 2465.0L1641.5 2468.7L1642.0 2467.5L1642.5 2465.2L1643.0 2465.9L1643.5 2467.8L1644.0 2467.5L1644.5 2467.1L1645.0 2467.2L1645.5 2467.4L1646.0 2466.5L1646.5 2465.1L1647.0 2466.1L1647.5 2467.9L1648.0 2467.9L1648.5 2467.8L1649.0 2467.6L1649.5 2466.8L1650.0 2466.9L1650.5 2469.1L1651.0 2466.3L1651.5 2467.4L1652.0 2469.3L1652.5 2468.6L1653.0 2467.1L1653.5 2466.4L1654.0 2466.7L1654.5 2468.8L1655.0 2467.2L1655.5 2468.7L1656.0 2465.6L1656.5 2468.4L1657.0 2467.1L1657.5 2468.3L1658.0 2470.0L1658.5 2468.6L1659.0 2468.8L1659.5 2466.5L1660.0 2466.7L1660.5 2466.7L1661.0 2468.8L1661.5 2466.9L1662.0 2467.7L1662.5 2469.6L1663.0 2466.9L1663.5 2468.2L1664.0 2466.7L1664.5 2469.0L1665.0 2468.0L1665.5 2469.3L1666.0 2468.4L1666.5 2469.1L1667.0 2466.3L1667.5 2466.4L1668.0 2468.6L1668.5 2468.5L1669.0 2468.1L1669.5 2467.7L1670.0 2468.4L1670.5 2468.3L1671.0 2470.5L1671.5 2468.9L1672.0 2469.6L1672.5 2468.4L1673.0 2470.9L1673.5 2469.3L1674.0 2468.9L1674.5 2468.2L1675.0 2467.6L1675.5 2468.9L1676.0 2469.5L1676.5 2471.0L1677.0 2468.9L1677.5 2467.8L1678.0 2468.5L1678.5 2469.3L1679.0 2468.5L1679.5 2467.2L1680.0 2470.6L1680.5 2468.4L1681.0 2468.5L1681.5 2471.5L1682.0 2468.2L1682.5 2469.7L1683.0 2469.8L1683.5 2468.9L1684.0 2468.4L1684.5 2468.3L1685.0 2469.0L1685.5 2468.2L1686.0 2469.7L1686.5 2470.4L1687.0 2466.4L1687.5 2469.7L1688.0 2469.2L1688.5 2470.0L1689.0 2470.3L1689.5 2469.9L1690.0 2470.5L1690.5 2469.5L1691.0 2471.0L1691.5 2470.9L1692.0 2470.7L1692.5 2471.0L1693.0 2468.8L1693.5 2470.1L1694.0 2470.5L1694.5 2468.5L1695.0 2469.6L1695.5 2469.9L1696.0 2470.1L1696.5 2472.4L1697.0 2470.5L1697.5 2470.0L1698.0 2470.6L1698.5 2470.7L1699.0 2473.7L1699.5 2471.6L1700.0 2469.3L1700.5 2469.7L1701.0 2469.5L1701.5 2469.1L1702.0 2469.5L1702.5 2469.6L1703.0 2470.5L1703.5 2471.2L1704.0 2469.4L1704.5 2470.1L1705.0 2470.6L1705.5 2471.5L1706.0 2469.7L1706.5 2470.0L1707.0 2471.2L1707.5 2469.3L1708.0 2468.3L1708.5 2470.9L1709.0 2469.4L1709.5 2470.6L1710.0 2470.1L1710.5 2469.7L1711.0 2469.7L1711.5 2473.5L1712.0 2473.7L1712.5 2473.1L1713.0 2473.4L1713.5 2471.3L1714.0 2471.9L1714.5 2469.2L1715.0 2471.0L1715.5 2471.9L1716.0 2471.3L1716.5 2473.6L1717.0 2469.9L1717.5 2471.2L1718.0 2470.1L1718.5 2470.3L1719.0 2469.9L1719.5 2470.7L1720.0 2468.4L1720.5 2471.0L1721.0 2470.0L1721.5 2469.6L1722.0 2469.2L1722.5 2471.0L1723.0 2470.4L1723.5 2470.6L1724.0 2470.2L1724.5 2472.3L1725.0 2472.9L1725.5 2471.3L1726.0 2473.7L1726.5 2473.1L1727.0 2472.3L1727.5 2473.1L1728.0 2471.9L1728.5 2472.4L1729.0 2471.8L1729.5 2473.0L1730.0 2471.2L1730.5 2471.6L1731.0 2472.1L1731.5 2472.5L1732.0 2469.7L1732.5 2473.1L1733.0 2471.2L1733.5 2470.5L1734.0 2470.9L1734.5 2468.5L1735.0 2468.9L1735.5 2469.2L1736.0 2468.4L1736.5 2471.6L1737.0 2470.2L1737.5 2470.3L1738.0 2471.3L1738.5 2471.8L1739.0 2472.3L1739.5 2470.8L1740.0 2472.9L1740.5 2473.0L1741.0 2474.1L1741.5 2471.9L1742.0 2471.7L1742.5 2470.6L1743.0 2470.2L1743.5 2471.2L1744.0 2470.4L1744.5 2471.7L1745.0 2473.0L1745.5 2472.6L1746.0 2473.3L1746.5 2470.4L1747.0 2473.3L1747.5 2472.7L1748.0 2472.4L1748.5 2473.1L1749.0 2472.0L1749.5 2471.8L1750.0 2470.9L1750.5 2473.6L1751.0 2471.1L1751.5 2471.9L1752.0 2469.9L1752.5 2469.9L1753.0 2471.2L1753.5 2470.6L1754.0 2471.6L1754.5 2470.5L1755.0 2470.6L1755.5 2471.4L1756.0 2469.2L1756.5 2471.3L1757.0 2468.4L1757.5 2470.1L1758.0 2470.4L1758.5 2469.8L1759.0 2471.0L1759.5 2471.0L1760.0 2470.1L1760.5 2472.6L1761.0 2470.8L1761.5 2471.0L1762.0 2470.0L1762.5 2471.2L1763.0 2470.9L1763.5 2470.2L1764.0 2473.0L1764.5 2471.8L1765.0 2470.5L1765.5 2468.1L1766.0 2470.0L1766.5 2469.5L1767.0 2468.8L1767.5 2468.0L1768.0 2470.1L1768.5 2470.0L1769.0 2468.0L1769.5 2467.5L1770.0 2467.1L1770.5 2467.9L1771.0 2467.1L1771.5 2467.5L1772.0 2468.9L1772.5 2468.2L1773.0 2467.1L1773.5 2465.7L1774.0 2467.1L1774.5 2466.7L1775.0 2465.4L1775.5 2466.7L1776.0 2466.9L1776.5 2467.7L1777.0 2466.2L1777.5 2466.8L1778.0 2465.6L1778.5 2466.5L1779.0 2466.2L1779.5 2466.5L1780.0 2464.2L1780.5 2465.3L1781.0 2463.3L1781.5 2464.5L1782.0 2465.4L1782.5 2465.4L1783.0 2466.7L1783.5 2467.2L1784.0 2468.6L1784.5 2468.4L1785.0 2469.3L1785.5 2469.3L1786.0 2470.2L1786.5 2468.6L1787.0 2471.8L1787.5 2470.4L1788.0 2469.6L1788.5 2467.3L1789.0 2469.2L1789.5 2469.1L1790.0 2469.5L1790.5 2469.6L1791.0 2471.1L1791.5 2468.1L1792.0 2468.9L1792.5 2469.7L1793.0 2470.3L1793.5 2468.1L1794.0 2471.0L1794.5 2469.4L1795.0 2468.8L1795.5 2469.6L1796.0 2469.9L1796.5 2469.6L1797.0 2469.8L1797.5 2469.1L1798.0 2469.9L1798.5 2468.5L1799.0 2469.2L1799.5 2470.3L1800.0 2470.3L1800.5 2471.2L1801.0 2469.9L1801.5 2470.5L1802.0 2472.4L1802.5 2471.0L1803.0 2471.5L1803.5 2471.5L1804.0 2471.1L1804.5 2468.9L1805.0 2471.4L1805.5 2469.0L1806.0 2470.6L1806.5 2468.0L1807.0 2468.9L1807.5 2468.6L1808.0 2469.1L1808.5 2469.2L1809.0 2467.8L1809.5 2468.2L1810.0 2467.6L1810.5 2467.9L1811.0 2467.7L1811.5 2467.8L1812.0 2468.7L1812.5 2469.8L1813.0 2467.1L1813.5 2469.9L1814.0 2469.6L1814.5 2470.4L1815.0 2469.2L1815.5 2468.4L1816.0 2470.2L1816.5 2469.3L1817.0 2468.4L1817.5 2469.0L1818.0 2470.4L1818.5 2470.0L1819.0 2470.2L1819.5 2468.8L1820.0 2467.3L1820.5 2470.1L1821.0 2469.1L1821.5 2468.1L1822.0 2468.4L1822.5 2468.4L1823.0 2467.8L1823.5 2469.2L1824.0 2469.6L1824.5 2469.7L1825.0 2470.0L1825.5 2469.6L1826.0 2467.3L1826.5 2468.7L1827.0 2469.5L1827.5 2468.7L1828.0 2469.0L1828.5 2468.1L1829.0 2469.2L1829.5 2468.1L1830.0 2468.6L1830.5 2468.8L1831.0 2469.7L1831.5 2469.4L1832.0 2468.0L1832.5 2467.1L1833.0 2470.0L1833.5 2469.5L1834.0 2466.9L1834.5 2468.2L1835.0 2469.4L1835.5 2467.8L1836.0 2467.7L1836.5 2467.0L1837.0 2468.6L1837.5 2468.5L1838.0 2466.9L1838.5 2468.0L1839.0 2466.6L1839.5 2468.5L1840.0 2466.8L1840.5 2468.9L1841.0 2467.4L1841.5 2467.2L1842.0 2469.2L1842.5 2467.8L1843.0 2467.2L1843.5 2467.2L1844.0 2465.6L1844.5 2466.9L1845.0 2465.8L1845.5 2466.4L1846.0 2467.0L1846.5 2466.1L1847.0 2464.9L1847.5 2464.3L1848.0 2466.9L1848.5 2464.8L1849.0 2466.0L1849.5 2463.0L1850.0 2463.7L1850.5 2464.0L1851.0 2462.4L1851.5 2463.3L1852.0 2461.6L1852.5 2461.7L1853.0 2459.2L1853.5 2459.9L1854.0 2459.6L1854.5 2458.1L1855.0 2455.7L1855.5 2454.2L1856.0 2454.3L1856.5 2454.5L1857.0 2453.2L1857.5 2453.6L1858.0 2455.1L1858.5 2452.6L1859.0 2451.4L1859.5 2454.2L1860.0 2453.5L1860.5 2454.1L1861.0 2451.9L1861.5 2451.8L1862.0 2451.9L1862.5 2451.8L1863.0 2453.8L1863.5 2451.0L1864.0 2452.1L1864.5 2452.5L1865.0 2452.6L1865.5 2457.6L1866.0 2456.4L1866.5 2457.5L1867.0 2458.5L1867.5 2457.4L1868.0 2459.3L1868.5 2460.6L1869.0 2460.0L1869.5 2462.8L1870.0 2462.2L1870.5 2462.9L1871.0 2462.2L1871.5 2461.4L1872.0 2460.9L1872.5 2463.2L1873.0 2463.7L1873.5 2464.0L1874.0 2462.3L1874.5 2466.7L1875.0 2463.8L1875.5 2464.3L1876.0 2466.8L1876.5 2465.2L1877.0 2467.7L1877.5 2467.1L1878.0 2465.6L1878.5 2464.3L1879.0 2466.2L1879.5 2466.6L1880.0 2464.9L1880.5 2466.6L1881.0 2466.1L1881.5 2465.4L1882.0 2465.7L1882.5 2465.5L1883.0 2466.1L1883.5 2461.9L1884.0 2463.8L1884.5 2465.8L1885.0 2466.5L1885.5 2467.5L1886.0 2466.9L1886.5 2467.0L1887.0 2466.8L1887.5 2465.5L1888.0 2466.2L1888.5 2467.7L1889.0 2466.9L1889.5 2466.0L1890.0 2468.2L1890.5 2466.4L1891.0 2467.9L1891.5 2465.8L1892.0 2467.8L1892.5 2466.6L1893.0 2465.4L1893.5 2468.5L1894.0 2466.2L1894.5 2466.3L1895.0 2466.3L1895.5 2466.7L1896.0 2464.8L1896.5 2466.3L1897.0 2466.2L1897.5 2463.9L1898.0 2466.3L1898.5 2463.9L1899.0 2466.1L1899.5 2465.2L1900.0 2466.3L1900.5 2467.2L1901.0 2466.7L1901.5 2467.3L1902.0 2466.6L1902.5 2467.7L1903.0 2465.9L1903.5 2466.7L1904.0 2466.7L1904.5 2465.6L1905.0 2466.9L1905.5 2467.9L1906.0 2468.2L1906.5 2468.6L1907.0 2467.9L1907.5 2467.2L1908.0 2466.8L1908.5 2467.8L1909.0 2467.7L1909.5 2468.2L1910.0 2468.1L1910.5 2467.6L1911.0 2468.7L1911.5 2468.0L1912.0 2467.3L1912.5 2467.8L1913.0 2469.4L1913.5 2467.5L1914.0 2468.5L1914.5 2468.5L1915.0 2469.7L1915.5 2467.6L1916.0 2471.1L1916.5 2469.0L1917.0 2468.3L1917.5 2470.2L1918.0 2468.5L1918.5 2469.1L1919.0 2467.8L1919.5 2470.2L1920.0 2469.8L1920.5 2468.6L1921.0 2468.1L1921.5 2468.6L1922.0 2471.2L1922.5 2470.3L1923.0 2468.4L1923.5 2468.5L1924.0 2468.2L1924.5 2471.0L1925.0 2469.7L1925.5 2469.2L1926.0 2470.3L1926.5 2468.2L1927.0 2470.2L1927.5 2471.0L1928.0 2468.6L1928.5 2468.8L1929.0 2470.9L1929.5 2472.0L1930.0 2469.7L1930.5 2469.3L1931.0 2471.6L1931.5 2470.6L1932.0 2471.4L1932.5 2471.6L1933.0 2472.3L1933.5 2469.1L1934.0 2470.8L1934.5 2471.6L1935.0 2471.4L1935.5 2470.2L1936.0 2470.1L1936.5 2473.6L1937.0 2469.7L1937.5 2473.8L1938.0 2471.2L1938.5 2470.9L1939.0 2470.0L1939.5 2471.8L1940.0 2471.9L1940.5 2471.7L1941.0 2471.0L1941.5 2470.3L1942.0 2470.3L1942.5 2470.6L1943.0 2470.4L1943.5 2471.3L1944.0 2470.1L1944.5 2472.5L1945.0 2470.9L1945.5 2471.6L1946.0 2472.1L1946.5 2472.2L1947.0 2471.5L1947.5 2472.5L1948.0 2472.8L1948.5 2471.0L1949.0 2471.7L1949.5 2471.6L1950.0 2470.9L1950.5 2471.5L1951.0 2472.0L1951.5 2472.1L1952.0 2470.8L1952.5 2471.8L1953.0 2471.1L1953.5 2473.7L1954.0 2471.7L1954.5 2473.2L1955.0 2471.0L1955.5 2471.5L1956.0 2470.3L1956.5 2471.1L1957.0 2473.5L1957.5 2472.4L1958.0 2470.4L1958.5 2472.5L1959.0 2470.0L1959.5 2471.3L1960.0 2472.3L1960.5 2471.3L1961.0 2470.8L1961.5 2472.3L1962.0 2471.3L1962.5 2472.3L1963.0 2472.3L1963.5 2472.2L1964.0 2470.2L1964.5 2470.7L1965.0 2469.9L1965.5 2470.5L1966.0 2469.8L1966.5 2469.6L1967.0 2469.4L1967.5 2469.7L1968.0 2468.9L1968.5 2469.6L1969.0 2469.9L1969.5 2468.6L1970.0 2467.9L1970.5 2468.4L1971.0 2467.8L1971.5 2468.6L1972.0 2467.6L1972.5 2466.6L1973.0 2466.6L1973.5 2469.1L1974.0 2466.4L1974.5 2467.4L1975.0 2467.9L1975.5 2468.7L1976.0 2466.4L1976.5 2467.9L1977.0 2467.7L1977.5 2469.4L1978.0 2468.0L1978.5 2469.6L1979.0 2467.6L1979.5 2467.1L1980.0 2468.2L1980.5 2467.6L1981.0 2467.2L1981.5 2467.8L1982.0 2469.1L1982.5 2470.4L1983.0 2469.6L1983.5 2468.7L1984.0 2468.5L1984.5 2469.5L1985.0 2469.8L1985.5 2469.2L1986.0 2469.5L1986.5 2470.1L1987.0 2471.3L1987.5 2468.7L1988.0 2469.2L1988.5 2469.6L1989.0 2468.2L1989.5 2469.3L1990.0 2467.9L1990.5 2468.9L1991.0 2467.9L1991.5 2466.7L1992.0 2469.3L1992.5 2466.7L1993.0 2466.6L1993.5 2468.6L1994.0 2467.2L1994.5 2469.1L1995.0 2467.4L1995.5 2468.9L1996.0 2469.3L1996.5 2468.7L1997.0 2468.2L1997.5 2467.3L1998.0 2468.1L1998.5 2466.1L1999.0 2466.6L1999.5 2469.4L2000.0 2465.9L2000.5 2468.5L2001.0 2467.4L2001.5 2465.3L2002.0 2467.8L2002.5 2466.0L2003.0 2467.3L2003.5 2468.7L2004.0 2465.0L2004.5 2467.9L2261 2467.3" fill="none" stroke="#000000" stroke-width="7.4" stroke-linejoin="round" stroke-linecap="round"/>
<rect x="307.5" y="388.5" width="53.0" height="55.0" rx="3" fill="#000"/>
<path d="M333.5 456.1L363.0 485.3L333.5 514.5L304.0 485.3Z" fill="#000" stroke="#000" stroke-width="1.5" stroke-linejoin="round"/>
<rect x="627.0" y="333.3" width="53.0" height="55.0" rx="3" fill="#000"/>
<path d="M653.3 400.8L682.8 430.0L653.3 459.2L623.8 430.0Z" fill="#000" stroke="#000" stroke-width="1.5" stroke-linejoin="round"/>
<rect x="776.8" y="48.9" width="53.0" height="55.0" rx="3" fill="#000"/>
<path d="M803.8 116.1L833.3 145.3L803.8 174.6L774.3 145.3Z" fill="#000" stroke="#000" stroke-width="1.5" stroke-linejoin="round"/>
<path d="M865.0 363.8L894.5 419.2L835.5 419.2Z" fill="#000" stroke="#000" stroke-width="1.5" stroke-linejoin="round"/>
<ellipse cx="868.5" cy="468.5" rx="23.3" ry="25.3" fill="#000"/>
<path d="M979.0 248.5L1008.5 303.8L949.5 303.8Z" fill="#000" stroke="#000" stroke-width="1.5" stroke-linejoin="round"/>
<ellipse cx="983.0" cy="353.0" rx="23.3" ry="25.3" fill="#000"/>
<rect x="1037.5" y="308.5" width="53.0" height="55.0" rx="3" fill="#000"/>
<path d="M1063.5 376.1L1093.0 405.3L1063.5 434.6L1034.0 405.3Z" fill="#000" stroke="#000" stroke-width="1.5" stroke-linejoin="round"/>
<rect x="1271.5" y="393.3" width="53.0" height="55.0" rx="3" fill="#000"/>
<path d="M1297.0 460.8L1326.5 490.0L1297.0 519.2L1267.5 490.0Z" fill="#000" stroke="#000" stroke-width="1.5" stroke-linejoin="round"/>
<rect x="1361.5" y="343.5" width="53.0" height="55.0" rx="3" fill="#000"/>
<path d="M1388.0 411.2L1417.5 440.5L1388.0 469.8L1358.5 440.5Z" fill="#000" stroke="#000" stroke-width="1.5" stroke-linejoin="round"/>
<path d="M1494.0 319.0L1523.5 373.0L1464.5 373.0Z" fill="#000" stroke="#000" stroke-width="1.5" stroke-linejoin="round"/>
<ellipse cx="1497.6" cy="423.0" rx="23.3" ry="25.3" fill="#000"/>
<rect x="1736.5" y="403.1" width="53.0" height="55.0" rx="3" fill="#000"/>
<path d="M1762.7 470.6L1792.2 499.8L1762.7 529.0L1733.2 499.8Z" fill="#000" stroke="#000" stroke-width="1.5" stroke-linejoin="round"/>
<path d="M1868.7 363.8L1898.2 418.3L1839.2 418.3Z" fill="#000" stroke="#000" stroke-width="1.5" stroke-linejoin="round"/>
<ellipse cx="1872.0" cy="468.4" rx="23.3" ry="25.3" fill="#000"/>
<ellipse cx="1963.0" cy="493.0" rx="23.3" ry="25.3" fill="#000"/>
<path d="M329.2 2199.9L358.7 2229.2L329.2 2258.4L299.7 2229.2Z" fill="#000" stroke="#000" stroke-width="1.5" stroke-linejoin="round"/>
<path d="M653.0 2170.8L682.5 2200.0L653.0 2229.2L623.5 2200.0Z" fill="#000" stroke="#000" stroke-width="1.5" stroke-linejoin="round"/>
<path d="M793.8 1955.3L823.3 1984.6L793.8 2013.8L764.3 1984.6Z" fill="#000" stroke="#000" stroke-width="1.5" stroke-linejoin="round"/>
<path d="M1028.5 2245.3L1058.0 2274.6L1028.5 2303.8L999.0 2274.6Z" fill="#000" stroke="#000" stroke-width="1.5" stroke-linejoin="round"/>
<path d="M1298.5 2335.3L1328.0 2364.6L1298.5 2393.8L1269.0 2364.6Z" fill="#000" stroke="#000" stroke-width="1.5" stroke-linejoin="round"/>
<path d="M1392.8 2275.3L1422.3 2304.6L1392.8 2333.8L1363.3 2304.6Z" fill="#000" stroke="#000" stroke-width="1.5" stroke-linejoin="round"/>
<path d="M1548.0 2235.3L1577.5 2264.6L1548.0 2293.8L1518.5 2264.6Z" fill="#000" stroke="#000" stroke-width="1.5" stroke-linejoin="round"/>
<ellipse cx="1862.3" cy="2383.0" rx="23.3" ry="25.3" fill="#000"/>
<ellipse cx="1982.3" cy="2407.7" rx="23.3" ry="25.3" fill="#000"/>
<text x="1874.6" y="116.8" font-size="64.0" fill="#333" stroke="#333" text-anchor="start" textLength="250.6" lengthAdjust="spacingAndGlyphs">Ni-UGSO</text>
<text x="2141.3" y="116.8" font-size="64.0" fill="#e8801c" stroke="#e8801c" text-anchor="start" textLength="124.0" lengthAdjust="spacingAndGlyphs" style="mix-blend-mode:multiply;stroke-width:0.3px">13%</text><text x="2145.7" y="116.8" font-size="64.0" fill="#1c9ae8" stroke="#1c9ae8" text-anchor="start" textLength="124.0" lengthAdjust="spacingAndGlyphs" style="mix-blend-mode:multiply;stroke-width:0.3px">13%</text><text x="2143.5" y="116.8" font-size="64.0" fill="#181828" stroke="#181828" text-anchor="start" textLength="124.0" lengthAdjust="spacingAndGlyphs" style="stroke-width:0px">13%</text>
<text x="1899.0" y="856.3" font-size="64.0" fill="#333" stroke="#333" text-anchor="start" textLength="252.6" lengthAdjust="spacingAndGlyphs">Ni-UGSO</text>
<text x="2156.3" y="856.3" font-size="64.0" fill="#e8801c" stroke="#e8801c" text-anchor="start" textLength="122.5" lengthAdjust="spacingAndGlyphs" style="mix-blend-mode:multiply;stroke-width:0.3px">10%</text><text x="2160.7" y="856.3" font-size="64.0" fill="#1c9ae8" stroke="#1c9ae8" text-anchor="start" textLength="122.5" lengthAdjust="spacingAndGlyphs" style="mix-blend-mode:multiply;stroke-width:0.3px">10%</text><text x="2158.5" y="856.3" font-size="64.0" fill="#181828" stroke="#181828" text-anchor="start" textLength="122.5" lengthAdjust="spacingAndGlyphs" style="stroke-width:0px">10%</text>
<text x="1889.0" y="1410.6" font-size="64.0" fill="#333" stroke="#333" text-anchor="start" textLength="253.0" lengthAdjust="spacingAndGlyphs">Ni-UGSO</text>
<text x="2154.6" y="1416.5" font-size="64.0" fill="#e8801c" stroke="#e8801c" text-anchor="start" textLength="90.4" lengthAdjust="spacingAndGlyphs" style="mix-blend-mode:multiply;stroke-width:0.3px">5%</text><text x="2159.0" y="1416.5" font-size="64.0" fill="#1c9ae8" stroke="#1c9ae8" text-anchor="start" textLength="90.4" lengthAdjust="spacingAndGlyphs" style="mix-blend-mode:multiply;stroke-width:0.3px">5%</text><text x="2156.8" y="1416.5" font-size="64.0" fill="#181828" stroke="#181828" text-anchor="start" textLength="90.4" lengthAdjust="spacingAndGlyphs" style="stroke-width:0px">5%</text>
<text x="1976.6" y="2005.7" font-size="63.0" fill="#333" stroke="#333" text-anchor="start" textLength="176.0" lengthAdjust="spacingAndGlyphs">UGSO</text>
<text x="0" y="0" font-size="53" fill="#333" stroke="#333" style="stroke-width:0.6px" textLength="435" lengthAdjust="spacingAndGlyphs" transform="translate(79.5 1512.2) rotate(-90)">intensity (counts)</text>
<text x="1186.0" y="2645.0" font-size="54.0" fill="#333" stroke="#333" text-anchor="start" textLength="122.0" lengthAdjust="spacingAndGlyphs" style="stroke-width:0.6px">2θ(°)</text>
</svg></body></html>
